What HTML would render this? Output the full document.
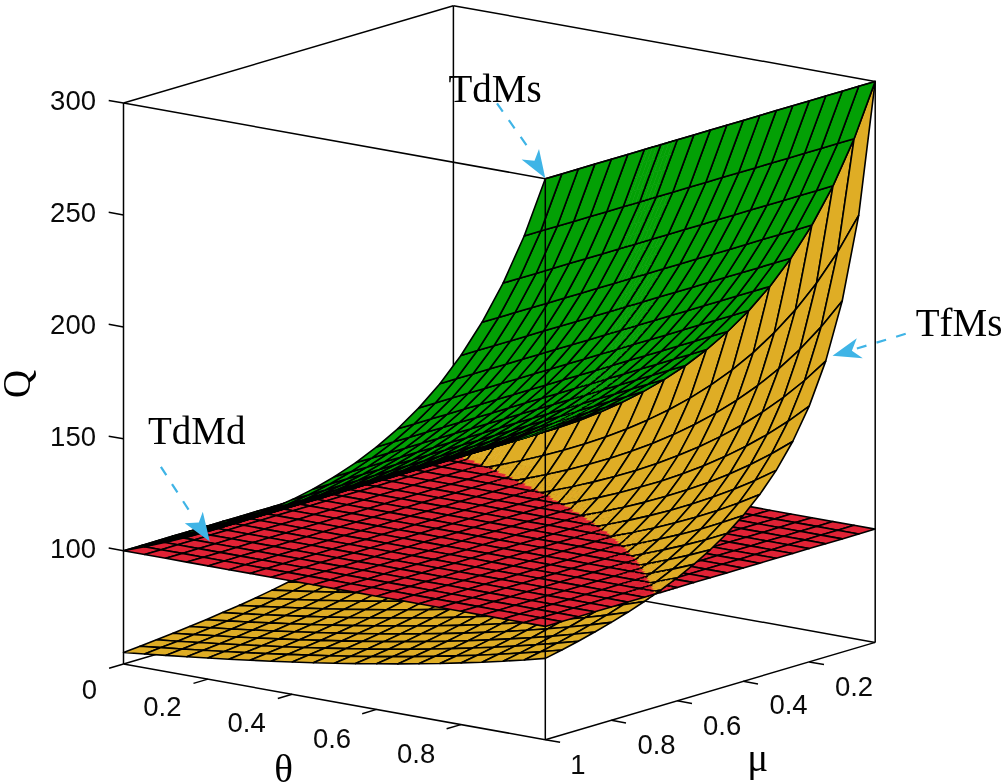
<!DOCTYPE html>
<html><head><meta charset="utf-8"><title>Q surface</title>
<style>
html,body{margin:0;padding:0;background:#fff}
svg{display:block}
.r,.y,.g{stroke:#000;stroke-width:1.6;stroke-linejoin:round}
.r,.rs{fill:#e02235}.y,.ys{fill:#dfad25}.g,.gs{fill:#03a005}
.rs{stroke:#e02235;stroke-width:.6}.ys{stroke:#dfad25;stroke-width:.6}.gs{stroke:#03a005;stroke-width:.6}
.e{stroke:#000;stroke-width:1.6;fill:none;stroke-linecap:round}
.ax{stroke:#000;stroke-width:1.5;fill:none}
.tk{font-family:"Liberation Sans",Arial,sans-serif;font-size:27.5px;fill:#0a0a0a}
.lb{font-family:"Liberation Serif","Times New Roman",serif;font-size:39px;fill:#000}
.ar{stroke:#3fb4e6;stroke-width:2.2;fill:none;stroke-dasharray:10 10.5}
.ah{fill:#3fb4e6}
</style></head><body>
<svg width="1003" height="784" viewBox="0 0 1003 784">
<rect width="1003" height="784" fill="#fff"/>
<g id="back"><path class="ax" d="M453.4 5.7L453.4 566.7"/><path class="ax" d="M875.2 642.4L453.4 566.7"/><path class="ax" d="M453.4 566.7L123.5 664.0"/><path class="ax" d="M875.2 81.4L453.4 5.7"/><path class="ax" d="M453.4 5.7L123.5 103.0"/></g>
<g id="surf">
<path class="ys" d="M453.4 453.4L458.7 452.4L454.5 457.8L449.3 458.8z"/>
<path class="e" d="M453.4 453.4L458.7 452.4M449.3 458.8L453.4 453.4"/>
<path class="rs" d="M453.4 453.4L458.7 454.4L454.5 455.6L449.3 454.6z"/>
<path class="e" d="M453.4 453.4L458.7 454.4M449.3 454.6L453.4 453.4"/>
<path class="gs" d="M453.4 453.4L458.7 452.4L454.5 453.7L449.3 454.6z"/>
<path class="e" d="M453.4 453.4L458.7 452.4M449.3 454.6L453.4 453.4"/>
<path class="ys" d="M449.3 458.8L454.5 457.8L450.4 463.2L445.2 464.1z"/>
<path class="e" d="M445.2 464.1L449.3 458.8"/>
<path class="rs" d="M449.3 454.6L454.5 455.6L450.4 456.8L445.2 455.9z"/>
<path class="e" d="M445.2 455.9L449.3 454.6"/>
<path class="gs" d="M449.3 454.6L454.5 453.7L450.4 454.9L445.2 455.9z"/>
<path class="e" d="M445.2 455.9L449.3 454.6"/>
<path class="ys" d="M445.2 464.1L450.4 463.2L446.3 468.6L441.0 469.4z"/>
<path class="e" d="M441.0 469.4L445.2 464.1"/>
<path class="rs" d="M445.2 455.9L450.4 456.8L446.3 458.0L441.0 457.1z"/>
<path class="e" d="M441.0 457.1L445.2 455.9"/>
<path class="gs" d="M445.2 455.9L450.4 454.9L446.3 456.1L441.0 457.1z"/>
<path class="e" d="M441.0 457.1L445.2 455.9"/>
<path class="ys" d="M441.0 469.4L446.3 468.6L442.2 474.1L436.9 474.8z"/>
<path class="e" d="M442.2 474.1L436.9 474.8M436.9 474.8L441.0 469.4"/>
<path class="rs" d="M441.0 457.1L446.3 458.0L442.2 459.2L436.9 458.3z"/>
<path class="e" d="M442.2 459.2L436.9 458.3M436.9 458.3L441.0 457.1"/>
<path class="gs" d="M441.0 457.1L446.3 456.1L442.2 457.3L436.9 458.3z"/>
<path class="e" d="M442.2 457.3L436.9 458.3M436.9 458.3L441.0 457.1"/>
<path class="rs" d="M458.7 454.4L463.9 455.3L459.8 456.5L454.5 455.6z"/>
<path class="e" d="M458.7 454.4L463.9 455.3"/>
<path class="ys" d="M458.7 452.4L463.9 451.5L459.8 456.9L454.5 457.8z"/>
<path class="e" d="M458.7 452.4L463.9 451.5"/>
<path class="gs" d="M458.7 452.4L463.9 451.5L459.8 452.7L454.5 453.7z"/>
<path class="e" d="M458.7 452.4L463.9 451.5"/>
<path class="ys" d="M454.5 457.8L459.8 456.9L455.7 462.4L450.4 463.2z"/>
<path class="rs" d="M454.5 455.6L459.8 456.5L455.7 457.8L450.4 456.8z"/>
<path class="gs" d="M454.5 453.7L459.8 452.7L455.7 453.9L450.4 454.9z"/>
<path class="ys" d="M450.4 463.2L455.7 462.4L451.6 467.9L446.3 468.6z"/>
<path class="rs" d="M450.4 456.8L455.7 457.8L451.6 459.0L446.3 458.0z"/>
<path class="gs" d="M450.4 454.9L455.7 453.9L451.6 455.1L446.3 456.1z"/>
<path class="ys" d="M446.3 468.6L451.6 467.9L447.4 473.3L442.2 474.1z"/>
<path class="e" d="M447.4 473.3L442.2 474.1"/>
<path class="rs" d="M446.3 458.0L451.6 459.0L447.4 460.2L442.2 459.2z"/>
<path class="e" d="M447.4 460.2L442.2 459.2"/>
<path class="gs" d="M446.3 456.1L451.6 455.1L447.4 456.3L442.2 457.3z"/>
<path class="e" d="M447.4 456.3L442.2 457.3"/>
<path class="rs" d="M463.9 455.3L469.2 456.3L465.1 457.5L459.8 456.5z"/>
<path class="e" d="M463.9 455.3L469.2 456.3"/>
<path class="ys" d="M463.9 451.5L469.2 450.5L465.1 456.0L459.8 456.9z"/>
<path class="e" d="M463.9 451.5L469.2 450.5"/>
<path class="gs" d="M463.9 451.5L469.2 450.5L465.1 451.7L459.8 452.7z"/>
<path class="e" d="M463.9 451.5L469.2 450.5"/>
<path class="ys" d="M459.8 456.9L465.1 456.0L461.0 461.6L455.7 462.4z"/>
<path class="rs" d="M459.8 456.5L465.1 457.5L461.0 458.7L455.7 457.8z"/>
<path class="gs" d="M459.8 452.7L465.1 451.7L461.0 452.9L455.7 453.9z"/>
<path class="ys" d="M455.7 462.4L461.0 461.6L456.8 467.1L451.6 467.9z"/>
<path class="rs" d="M455.7 457.8L461.0 458.7L456.8 459.9L451.6 459.0z"/>
<path class="gs" d="M455.7 453.9L461.0 452.9L456.8 454.1L451.6 455.1z"/>
<path class="ys" d="M451.6 467.9L456.8 467.1L452.7 472.6L447.4 473.3z"/>
<path class="e" d="M452.7 472.6L447.4 473.3"/>
<path class="rs" d="M451.6 459.0L456.8 459.9L452.7 461.1L447.4 460.2z"/>
<path class="e" d="M452.7 461.1L447.4 460.2"/>
<path class="gs" d="M451.6 455.1L456.8 454.1L452.7 455.3L447.4 456.3z"/>
<path class="e" d="M452.7 455.3L447.4 456.3"/>
<path class="rs" d="M469.2 456.3L474.5 457.2L470.4 458.4L465.1 457.5z"/>
<path class="e" d="M469.2 456.3L474.5 457.2M474.5 457.2L470.4 458.4"/>
<path class="ys" d="M469.2 450.5L474.5 449.5L470.4 455.1L465.1 456.0z"/>
<path class="e" d="M469.2 450.5L474.5 449.5M474.5 449.5L470.4 455.1"/>
<path class="gs" d="M469.2 450.5L474.5 449.5L470.4 450.7L465.1 451.7z"/>
<path class="e" d="M469.2 450.5L474.5 449.5M474.5 449.5L470.4 450.7"/>
<path class="rs" d="M465.1 457.5L470.4 458.4L466.2 459.6L461.0 458.7z"/>
<path class="e" d="M470.4 458.4L466.2 459.6"/>
<path class="ys" d="M465.1 456.0L470.4 455.1L466.2 460.7L461.0 461.6z"/>
<path class="e" d="M470.4 455.1L466.2 460.7"/>
<path class="gs" d="M465.1 451.7L470.4 450.7L466.2 451.9L461.0 452.9z"/>
<path class="e" d="M470.4 450.7L466.2 451.9"/>
<path class="ys" d="M461.0 461.6L466.2 460.7L462.1 466.3L456.8 467.1z"/>
<path class="e" d="M466.2 460.7L462.1 466.3"/>
<path class="rs" d="M461.0 458.7L466.2 459.6L462.1 460.9L456.8 459.9z"/>
<path class="e" d="M466.2 459.6L462.1 460.9"/>
<path class="gs" d="M461.0 452.9L466.2 451.9L462.1 453.1L456.8 454.1z"/>
<path class="e" d="M466.2 451.9L462.1 453.1"/>
<path class="ys" d="M456.8 467.1L462.1 466.3L458.0 471.9L452.7 472.6z"/>
<path class="e" d="M462.1 466.3L458.0 471.9M458.0 471.9L452.7 472.6"/>
<path class="rs" d="M456.8 459.9L462.1 460.9L458.0 462.1L452.7 461.1z"/>
<path class="e" d="M462.1 460.9L458.0 462.1M458.0 462.1L452.7 461.1"/>
<path class="gs" d="M456.8 454.1L462.1 453.1L458.0 454.4L452.7 455.3z"/>
<path class="e" d="M462.1 453.1L458.0 454.4M458.0 454.4L452.7 455.3"/>
<path class="y" d="M436.9 474.8L458.0 471.9L441.5 490.6L420.4 492.6z"/>
<path class="r" d="M436.9 458.3L458.0 462.1L441.5 466.9L420.4 463.2z"/>
<path class="g" d="M436.9 458.3L458.0 454.4L441.5 459.2L420.4 463.2z"/>
<path class="y" d="M420.4 492.6L441.5 490.6L425.0 506.6L403.9 508.0z"/>
<path class="r" d="M420.4 463.2L441.5 466.9L425.0 471.8L403.9 468.0z"/>
<path class="g" d="M420.4 463.2L441.5 459.2L425.0 464.1L403.9 468.0z"/>
<path class="y" d="M403.9 508.0L425.0 506.6L408.5 520.6L387.4 521.6z"/>
<path class="r" d="M403.9 468.0L425.0 471.8L408.5 476.7L387.4 472.9z"/>
<path class="g" d="M403.9 468.0L425.0 464.1L408.5 469.0L387.4 472.9z"/>
<path class="y" d="M387.4 521.6L408.5 520.6L392.0 533.2L370.9 533.7z"/>
<path class="r" d="M387.4 472.9L408.5 476.7L392.0 481.5L370.9 477.8z"/>
<path class="g" d="M387.4 472.9L408.5 469.0L392.0 473.8L370.9 477.8z"/>
<path class="y" d="M370.9 533.7L392.0 533.2L375.5 544.6L354.4 544.8z"/>
<path class="r" d="M370.9 477.8L392.0 481.5L375.5 486.4L354.4 482.6z"/>
<path class="g" d="M370.9 477.8L392.0 473.8L375.5 478.7L354.4 482.6z"/>
<path class="y" d="M354.4 544.8L375.5 544.6L359.0 555.1L337.9 555.0z"/>
<path class="r" d="M354.4 482.6L375.5 486.4L359.0 491.3L337.9 487.5z"/>
<path class="g" d="M354.4 482.6L375.5 478.7L359.0 483.6L337.9 487.5z"/>
<path class="y" d="M337.9 555.0L359.0 555.1L342.5 564.8L321.4 564.6z"/>
<path class="r" d="M337.9 487.5L359.0 491.3L342.5 496.1L321.4 492.4z"/>
<path class="g" d="M337.9 487.5L359.0 483.6L342.5 488.4L321.4 492.4z"/>
<path class="y" d="M321.4 564.6L342.5 564.8L326.0 574.0L304.9 573.5z"/>
<path class="r" d="M321.4 492.4L342.5 496.1L326.0 501.0L304.9 497.2z"/>
<path class="g" d="M321.4 492.4L342.5 488.4L326.0 493.3L304.9 497.2z"/>
<path class="y" d="M304.9 573.5L326.0 574.0L309.5 582.7L288.4 582.0z"/>
<path class="r" d="M304.9 497.2L326.0 501.0L309.5 505.9L288.4 502.1z"/>
<path class="g" d="M304.9 497.2L326.0 493.3L309.5 498.1L288.4 502.1z"/>
<path class="y" d="M288.4 582.0L309.5 582.7L293.0 590.9L272.0 590.1z"/>
<path class="r" d="M288.4 502.1L309.5 505.9L293.0 510.7L272.0 506.9z"/>
<path class="g" d="M288.4 502.1L309.5 498.1L293.0 503.0L272.0 506.9z"/>
<path class="y" d="M272.0 590.1L293.0 590.9L276.5 598.8L255.5 597.9z"/>
<path class="r" d="M272.0 506.9L293.0 510.7L276.5 515.6L255.5 511.8z"/>
<path class="g" d="M272.0 506.9L293.0 503.0L276.5 507.9L255.5 511.8z"/>
<path class="y" d="M255.5 597.9L276.5 598.8L260.1 606.4L239.0 605.4z"/>
<path class="r" d="M255.5 511.8L276.5 515.6L260.1 520.5L239.0 516.7z"/>
<path class="g" d="M255.5 511.8L276.5 507.9L260.1 512.7L239.0 516.7z"/>
<path class="y" d="M239.0 605.4L260.1 606.4L243.6 613.8L222.5 612.6z"/>
<path class="r" d="M239.0 516.7L260.1 520.5L243.6 525.3L222.5 521.5z"/>
<path class="g" d="M239.0 516.7L260.1 512.7L243.6 517.6L222.5 521.5z"/>
<path class="y" d="M222.5 612.6L243.6 613.8L227.1 620.9L206.0 619.7z"/>
<path class="r" d="M222.5 521.5L243.6 525.3L227.1 530.2L206.0 526.4z"/>
<path class="g" d="M222.5 521.5L243.6 517.6L227.1 522.5L206.0 526.4z"/>
<path class="y" d="M206.0 619.7L227.1 620.9L210.6 627.8L189.5 626.5z"/>
<path class="r" d="M206.0 526.4L227.1 530.2L210.6 535.1L189.5 531.3z"/>
<path class="g" d="M206.0 526.4L227.1 522.5L210.6 527.3L189.5 531.3z"/>
<path class="y" d="M189.5 626.5L210.6 627.8L194.1 634.6L173.0 633.2z"/>
<path class="r" d="M189.5 531.3L210.6 535.1L194.1 539.9L173.0 536.1z"/>
<path class="g" d="M189.5 531.3L210.6 527.3L194.1 532.2L173.0 536.1z"/>
<path class="y" d="M173.0 633.2L194.1 634.6L177.6 641.2L156.5 639.8z"/>
<path class="r" d="M173.0 536.1L194.1 539.9L177.6 544.8L156.5 541.0z"/>
<path class="g" d="M173.0 536.1L194.1 532.2L177.6 537.1L156.5 541.0z"/>
<path class="y" d="M156.5 639.8L177.6 641.2L161.1 647.6L140.0 646.2z"/>
<path class="r" d="M156.5 541.0L177.6 544.8L161.1 549.7L140.0 545.9z"/>
<path class="g" d="M156.5 541.0L177.6 537.1L161.1 541.9L140.0 545.9z"/>
<path class="y" d="M140.0 646.2L161.1 647.6L144.6 654.0L123.5 652.5z"/>
<path class="r" d="M140.0 545.9L161.1 549.7L144.6 554.5L123.5 550.7z"/>
<path class="g" d="M140.0 545.9L161.1 541.9L144.6 546.8L123.5 550.7z"/>
<path class="rs" d="M474.5 457.2L479.8 458.2L475.6 459.4L470.4 458.4z"/>
<path class="e" d="M474.5 457.2L479.8 458.2M470.4 458.4L474.5 457.2"/>
<path class="ys" d="M474.5 449.5L479.8 448.4L475.6 454.1L470.4 455.1z"/>
<path class="e" d="M474.5 449.5L479.8 448.4M470.4 455.1L474.5 449.5"/>
<path class="gs" d="M474.5 449.5L479.8 448.4L475.6 449.6L470.4 450.7z"/>
<path class="e" d="M474.5 449.5L479.8 448.4M470.4 450.7L474.5 449.5"/>
<path class="rs" d="M470.4 458.4L475.6 459.4L471.5 460.6L466.2 459.6z"/>
<path class="e" d="M466.2 459.6L470.4 458.4"/>
<path class="ys" d="M470.4 455.1L475.6 454.1L471.5 459.7L466.2 460.7z"/>
<path class="e" d="M466.2 460.7L470.4 455.1"/>
<path class="gs" d="M470.4 450.7L475.6 449.6L471.5 450.8L466.2 451.9z"/>
<path class="e" d="M466.2 451.9L470.4 450.7"/>
<path class="ys" d="M466.2 460.7L471.5 459.7L467.4 465.4L462.1 466.3z"/>
<path class="e" d="M462.1 466.3L466.2 460.7"/>
<path class="rs" d="M466.2 459.6L471.5 460.6L467.4 461.8L462.1 460.9z"/>
<path class="e" d="M462.1 460.9L466.2 459.6"/>
<path class="gs" d="M466.2 451.9L471.5 450.8L467.4 452.0L462.1 453.1z"/>
<path class="e" d="M462.1 453.1L466.2 451.9"/>
<path class="ys" d="M462.1 466.3L467.4 465.4L463.3 471.1L458.0 471.9z"/>
<path class="e" d="M463.3 471.1L458.0 471.9M458.0 471.9L462.1 466.3"/>
<path class="rs" d="M462.1 460.9L467.4 461.8L463.3 463.0L458.0 462.1z"/>
<path class="e" d="M463.3 463.0L458.0 462.1M458.0 462.1L462.1 460.9"/>
<path class="gs" d="M462.1 453.1L467.4 452.0L463.3 453.2L458.0 454.4z"/>
<path class="e" d="M463.3 453.2L458.0 454.4M458.0 454.4L462.1 453.1"/>
<path class="rs" d="M479.8 458.2L485.0 459.1L480.9 460.3L475.6 459.4z"/>
<path class="e" d="M479.8 458.2L485.0 459.1"/>
<path class="ys" d="M479.8 448.4L485.0 447.3L480.9 453.0L475.6 454.1z"/>
<path class="e" d="M479.8 448.4L485.0 447.3"/>
<path class="gs" d="M479.8 448.4L485.0 447.3L480.9 448.5L475.6 449.6z"/>
<path class="e" d="M479.8 448.4L485.0 447.3"/>
<path class="rs" d="M475.6 459.4L480.9 460.3L476.8 461.5L471.5 460.6z"/>
<path class="ys" d="M475.6 454.1L480.9 453.0L476.8 458.8L471.5 459.7z"/>
<path class="gs" d="M475.6 449.6L480.9 448.5L476.8 449.7L471.5 450.8z"/>
<path class="ys" d="M471.5 459.7L476.8 458.8L472.7 464.5L467.4 465.4z"/>
<path class="rs" d="M471.5 460.6L476.8 461.5L472.7 462.8L467.4 461.8z"/>
<path class="gs" d="M471.5 450.8L476.8 449.7L472.7 450.9L467.4 452.0z"/>
<path class="ys" d="M467.4 465.4L472.7 464.5L468.5 470.3L463.3 471.1z"/>
<path class="e" d="M468.5 470.3L463.3 471.1"/>
<path class="rs" d="M467.4 461.8L472.7 462.8L468.5 464.0L463.3 463.0z"/>
<path class="e" d="M468.5 464.0L463.3 463.0"/>
<path class="gs" d="M467.4 452.0L472.7 450.9L468.5 452.1L463.3 453.2z"/>
<path class="e" d="M468.5 452.1L463.3 453.2"/>
<path class="rs" d="M485.0 459.1L490.3 460.1L486.2 461.3L480.9 460.3z"/>
<path class="e" d="M485.0 459.1L490.3 460.1"/>
<path class="ys" d="M485.0 447.3L490.3 446.1L486.2 452.0L480.9 453.0z"/>
<path class="e" d="M485.0 447.3L490.3 446.1"/>
<path class="gs" d="M485.0 447.3L490.3 446.1L486.2 447.4L480.9 448.5z"/>
<path class="e" d="M485.0 447.3L490.3 446.1"/>
<path class="rs" d="M480.9 460.3L486.2 461.3L482.1 462.5L476.8 461.5z"/>
<path class="ys" d="M480.9 453.0L486.2 452.0L482.1 457.8L476.8 458.8z"/>
<path class="gs" d="M480.9 448.5L486.2 447.4L482.1 448.6L476.8 449.7z"/>
<path class="rs" d="M476.8 461.5L482.1 462.5L477.9 463.7L472.7 462.8z"/>
<path class="ys" d="M476.8 458.8L482.1 457.8L477.9 463.6L472.7 464.5z"/>
<path class="gs" d="M476.8 449.7L482.1 448.6L477.9 449.8L472.7 450.9z"/>
<path class="ys" d="M472.7 464.5L477.9 463.6L473.8 469.5L468.5 470.3z"/>
<path class="e" d="M473.8 469.5L468.5 470.3"/>
<path class="rs" d="M472.7 462.8L477.9 463.7L473.8 464.9L468.5 464.0z"/>
<path class="e" d="M473.8 464.9L468.5 464.0"/>
<path class="gs" d="M472.7 450.9L477.9 449.8L473.8 451.0L468.5 452.1z"/>
<path class="e" d="M473.8 451.0L468.5 452.1"/>
<path class="rs" d="M490.3 460.1L495.6 461.0L491.5 462.2L486.2 461.3z"/>
<path class="e" d="M490.3 460.1L495.6 461.0M495.6 461.0L491.5 462.2"/>
<path class="ys" d="M490.3 446.1L495.6 445.0L491.5 450.9L486.2 452.0z"/>
<path class="e" d="M490.3 446.1L495.6 445.0M495.6 445.0L491.5 450.9"/>
<path class="gs" d="M490.3 446.1L495.6 445.0L491.5 446.2L486.2 447.4z"/>
<path class="e" d="M490.3 446.1L495.6 445.0M495.6 445.0L491.5 446.2"/>
<path class="rs" d="M486.2 461.3L491.5 462.2L487.3 463.4L482.1 462.5z"/>
<path class="e" d="M491.5 462.2L487.3 463.4"/>
<path class="ys" d="M486.2 452.0L491.5 450.9L487.3 456.8L482.1 457.8z"/>
<path class="e" d="M491.5 450.9L487.3 456.8"/>
<path class="gs" d="M486.2 447.4L491.5 446.2L487.3 447.4L482.1 448.6z"/>
<path class="e" d="M491.5 446.2L487.3 447.4"/>
<path class="rs" d="M482.1 462.5L487.3 463.4L483.2 464.7L477.9 463.7z"/>
<path class="e" d="M487.3 463.4L483.2 464.7"/>
<path class="ys" d="M482.1 457.8L487.3 456.8L483.2 462.8L477.9 463.6z"/>
<path class="e" d="M487.3 456.8L483.2 462.8"/>
<path class="gs" d="M482.1 448.6L487.3 447.4L483.2 448.7L477.9 449.8z"/>
<path class="e" d="M487.3 447.4L483.2 448.7"/>
<path class="ys" d="M477.9 463.6L483.2 462.8L479.1 468.7L473.8 469.5z"/>
<path class="e" d="M483.2 462.8L479.1 468.7M479.1 468.7L473.8 469.5"/>
<path class="rs" d="M477.9 463.7L483.2 464.7L479.1 465.9L473.8 464.9z"/>
<path class="e" d="M483.2 464.7L479.1 465.9M479.1 465.9L473.8 464.9"/>
<path class="gs" d="M477.9 449.8L483.2 448.7L479.1 449.9L473.8 451.0z"/>
<path class="e" d="M483.2 448.7L479.1 449.9M479.1 449.9L473.8 451.0"/>
<path class="y" d="M458.0 471.9L479.1 468.7L462.6 488.2L441.5 490.6z"/>
<path class="r" d="M458.0 462.1L479.1 465.9L462.6 470.7L441.5 466.9z"/>
<path class="g" d="M458.0 454.4L479.1 449.9L462.6 454.7L441.5 459.2z"/>
<path class="y" d="M441.5 490.6L462.6 488.2L446.1 504.9L425.0 506.6z"/>
<path class="r" d="M441.5 466.9L462.6 470.7L446.1 475.6L425.0 471.8z"/>
<path class="g" d="M441.5 459.2L462.6 454.7L446.1 459.6L425.0 464.1z"/>
<path class="y" d="M425.0 506.6L446.1 504.9L429.6 519.5L408.5 520.6z"/>
<path class="r" d="M425.0 471.8L446.1 475.6L429.6 480.5L408.5 476.7z"/>
<path class="g" d="M425.0 464.1L446.1 459.6L429.6 464.5L408.5 469.0z"/>
<path class="y" d="M408.5 520.6L429.6 519.5L413.1 532.5L392.0 533.2z"/>
<path class="r" d="M408.5 476.7L429.6 480.5L413.1 485.3L392.0 481.5z"/>
<path class="g" d="M408.5 469.0L429.6 464.5L413.1 469.3L392.0 473.8z"/>
<path class="y" d="M392.0 533.2L413.1 532.5L396.6 544.2L375.5 544.6z"/>
<path class="r" d="M392.0 481.5L413.1 485.3L396.6 490.2L375.5 486.4z"/>
<path class="g" d="M392.0 473.8L413.1 469.3L396.6 474.2L375.5 478.7z"/>
<path class="y" d="M375.5 544.6L396.6 544.2L380.1 555.0L359.0 555.1z"/>
<path class="r" d="M375.5 486.4L396.6 490.2L380.1 495.1L359.0 491.3z"/>
<path class="g" d="M375.5 478.7L396.6 474.2L380.1 479.1L359.0 483.6z"/>
<path class="y" d="M359.0 555.1L380.1 555.0L363.6 565.0L342.5 564.8z"/>
<path class="r" d="M359.0 491.3L380.1 495.1L363.6 499.9L342.5 496.1z"/>
<path class="g" d="M359.0 483.6L380.1 479.1L363.6 483.9L342.5 488.4z"/>
<path class="y" d="M342.5 564.8L363.6 565.0L347.1 574.3L326.0 574.0z"/>
<path class="r" d="M342.5 496.1L363.6 499.9L347.1 504.8L326.0 501.0z"/>
<path class="g" d="M342.5 488.4L363.6 483.9L347.1 488.8L326.0 493.3z"/>
<path class="y" d="M326.0 574.0L347.1 574.3L330.6 583.2L309.5 582.7z"/>
<path class="r" d="M326.0 501.0L347.1 504.8L330.6 509.7L309.5 505.9z"/>
<path class="g" d="M326.0 493.3L347.1 488.8L330.6 493.7L309.5 498.1z"/>
<path class="y" d="M309.5 582.7L330.6 583.2L314.1 591.6L293.0 590.9z"/>
<path class="r" d="M309.5 505.9L330.6 509.7L314.1 514.5L293.0 510.7z"/>
<path class="g" d="M309.5 498.1L330.6 493.7L314.1 498.5L293.0 503.0z"/>
<path class="y" d="M293.0 590.9L314.1 591.6L297.6 599.6L276.5 598.8z"/>
<path class="r" d="M293.0 510.7L314.1 514.5L297.6 519.4L276.5 515.6z"/>
<path class="g" d="M293.0 503.0L314.1 498.5L297.6 503.4L276.5 507.9z"/>
<path class="y" d="M276.5 598.8L297.6 599.6L281.1 607.3L260.1 606.4z"/>
<path class="r" d="M276.5 515.6L297.6 519.4L281.1 524.2L260.1 520.5z"/>
<path class="g" d="M276.5 507.9L297.6 503.4L281.1 508.3L260.1 512.7z"/>
<path class="y" d="M260.1 606.4L281.1 607.3L264.6 614.7L243.6 613.8z"/>
<path class="r" d="M260.1 520.5L281.1 524.2L264.6 529.1L243.6 525.3z"/>
<path class="g" d="M260.1 512.7L281.1 508.3L264.6 513.1L243.6 517.6z"/>
<path class="y" d="M243.6 613.8L264.6 614.7L248.2 622.0L227.1 620.9z"/>
<path class="r" d="M243.6 525.3L264.6 529.1L248.2 534.0L227.1 530.2z"/>
<path class="g" d="M243.6 517.6L264.6 513.1L248.2 518.0L227.1 522.5z"/>
<path class="y" d="M227.1 620.9L248.2 622.0L231.7 629.0L210.6 627.8z"/>
<path class="r" d="M227.1 530.2L248.2 534.0L231.7 538.8L210.6 535.1z"/>
<path class="g" d="M227.1 522.5L248.2 518.0L231.7 522.9L210.6 527.3z"/>
<path class="y" d="M210.6 627.8L231.7 629.0L215.2 635.8L194.1 634.6z"/>
<path class="r" d="M210.6 535.1L231.7 538.8L215.2 543.7L194.1 539.9z"/>
<path class="g" d="M210.6 527.3L231.7 522.9L215.2 527.7L194.1 532.2z"/>
<path class="y" d="M194.1 634.6L215.2 635.8L198.7 642.5L177.6 641.2z"/>
<path class="r" d="M194.1 539.9L215.2 543.7L198.7 548.6L177.6 544.8z"/>
<path class="g" d="M194.1 532.2L215.2 527.7L198.7 532.6L177.6 537.1z"/>
<path class="y" d="M177.6 641.2L198.7 642.5L182.2 649.0L161.1 647.6z"/>
<path class="r" d="M177.6 544.8L198.7 548.6L182.2 553.4L161.1 549.7z"/>
<path class="g" d="M177.6 537.1L198.7 532.6L182.2 537.4L161.1 541.9z"/>
<path class="y" d="M161.1 647.6L182.2 649.0L165.7 655.4L144.6 654.0z"/>
<path class="r" d="M161.1 549.7L182.2 553.4L165.7 558.3L144.6 554.5z"/>
<path class="g" d="M161.1 541.9L182.2 537.4L165.7 542.3L144.6 546.8z"/>
<path class="rs" d="M495.6 461.0L500.9 461.9L496.7 463.2L491.5 462.2z"/>
<path class="e" d="M495.6 461.0L500.9 461.9M491.5 462.2L495.6 461.0"/>
<path class="ys" d="M495.6 445.0L500.9 443.7L496.7 449.7L491.5 450.9z"/>
<path class="e" d="M495.6 445.0L500.9 443.7M491.5 450.9L495.6 445.0"/>
<path class="gs" d="M495.6 445.0L500.9 443.7L496.7 445.0L491.5 446.2z"/>
<path class="e" d="M495.6 445.0L500.9 443.7M491.5 446.2L495.6 445.0"/>
<path class="rs" d="M491.5 462.2L496.7 463.2L492.6 464.4L487.3 463.4z"/>
<path class="e" d="M487.3 463.4L491.5 462.2"/>
<path class="ys" d="M491.5 450.9L496.7 449.7L492.6 455.7L487.3 456.8z"/>
<path class="e" d="M487.3 456.8L491.5 450.9"/>
<path class="gs" d="M491.5 446.2L496.7 445.0L492.6 446.2L487.3 447.4z"/>
<path class="e" d="M487.3 447.4L491.5 446.2"/>
<path class="rs" d="M487.3 463.4L492.6 464.4L488.5 465.6L483.2 464.7z"/>
<path class="e" d="M483.2 464.7L487.3 463.4"/>
<path class="ys" d="M487.3 456.8L492.6 455.7L488.5 461.7L483.2 462.8z"/>
<path class="e" d="M483.2 462.8L487.3 456.8"/>
<path class="gs" d="M487.3 447.4L492.6 446.2L488.5 447.4L483.2 448.7z"/>
<path class="e" d="M483.2 448.7L487.3 447.4"/>
<path class="rs" d="M483.2 464.7L488.5 465.6L484.4 466.8L479.1 465.9z"/>
<path class="e" d="M484.4 466.8L479.1 465.9M479.1 465.9L483.2 464.7"/>
<path class="ys" d="M483.2 462.8L488.5 461.7L484.4 467.7L479.1 468.7z"/>
<path class="e" d="M484.4 467.7L479.1 468.7M479.1 468.7L483.2 462.8"/>
<path class="gs" d="M483.2 448.7L488.5 447.4L484.4 448.6L479.1 449.9z"/>
<path class="e" d="M484.4 448.6L479.1 449.9M479.1 449.9L483.2 448.7"/>
<path class="rs" d="M500.9 461.9L506.1 462.9L502.0 464.1L496.7 463.2z"/>
<path class="e" d="M500.9 461.9L506.1 462.9"/>
<path class="ys" d="M500.9 443.7L506.1 442.5L502.0 448.5L496.7 449.7z"/>
<path class="e" d="M500.9 443.7L506.1 442.5"/>
<path class="gs" d="M500.9 443.7L506.1 442.5L502.0 443.7L496.7 445.0z"/>
<path class="e" d="M500.9 443.7L506.1 442.5"/>
<path class="rs" d="M496.7 463.2L502.0 464.1L497.9 465.3L492.6 464.4z"/>
<path class="ys" d="M496.7 449.7L502.0 448.5L497.9 454.6L492.6 455.7z"/>
<path class="gs" d="M496.7 445.0L502.0 443.7L497.9 444.9L492.6 446.2z"/>
<path class="rs" d="M492.6 464.4L497.9 465.3L493.8 466.5L488.5 465.6z"/>
<path class="ys" d="M492.6 455.7L497.9 454.6L493.8 460.7L488.5 461.7z"/>
<path class="gs" d="M492.6 446.2L497.9 444.9L493.8 446.1L488.5 447.4z"/>
<path class="rs" d="M488.5 465.6L493.8 466.5L489.6 467.8L484.4 466.8z"/>
<path class="e" d="M489.6 467.8L484.4 466.8"/>
<path class="ys" d="M488.5 461.7L493.8 460.7L489.6 466.8L484.4 467.7z"/>
<path class="e" d="M489.6 466.8L484.4 467.7"/>
<path class="gs" d="M488.5 447.4L493.8 446.1L489.6 447.3L484.4 448.6z"/>
<path class="e" d="M489.6 447.3L484.4 448.6"/>
<path class="rs" d="M506.1 462.9L511.4 463.8L507.3 465.1L502.0 464.1z"/>
<path class="e" d="M506.1 462.9L511.4 463.8"/>
<path class="ys" d="M506.1 442.5L511.4 441.2L507.3 447.4L502.0 448.5z"/>
<path class="e" d="M506.1 442.5L511.4 441.2"/>
<path class="gs" d="M506.1 442.5L511.4 441.2L507.3 442.4L502.0 443.7z"/>
<path class="e" d="M506.1 442.5L511.4 441.2"/>
<path class="rs" d="M502.0 464.1L507.3 465.1L503.1 466.3L497.9 465.3z"/>
<path class="ys" d="M502.0 448.5L507.3 447.4L503.1 453.5L497.9 454.6z"/>
<path class="gs" d="M502.0 443.7L507.3 442.4L503.1 443.6L497.9 444.9z"/>
<path class="rs" d="M497.9 465.3L503.1 466.3L499.0 467.5L493.8 466.5z"/>
<path class="ys" d="M497.9 454.6L503.1 453.5L499.0 459.7L493.8 460.7z"/>
<path class="gs" d="M497.9 444.9L503.1 443.6L499.0 444.8L493.8 446.1z"/>
<path class="rs" d="M493.8 466.5L499.0 467.5L494.9 468.7L489.6 467.8z"/>
<path class="e" d="M494.9 468.7L489.6 467.8"/>
<path class="ys" d="M493.8 460.7L499.0 459.7L494.9 465.9L489.6 466.8z"/>
<path class="e" d="M494.9 465.9L489.6 466.8"/>
<path class="gs" d="M493.8 446.1L499.0 444.8L494.9 446.1L489.6 447.3z"/>
<path class="e" d="M494.9 446.1L489.6 447.3"/>
<path class="rs" d="M511.4 463.8L516.7 464.8L512.5 466.0L507.3 465.1z"/>
<path class="e" d="M511.4 463.8L516.7 464.8M516.7 464.8L512.5 466.0"/>
<path class="ys" d="M511.4 441.2L516.7 439.9L512.5 446.2L507.3 447.4z"/>
<path class="e" d="M511.4 441.2L516.7 439.9M516.7 439.9L512.5 446.2"/>
<path class="gs" d="M511.4 441.2L516.7 439.9L512.5 441.1L507.3 442.4z"/>
<path class="e" d="M511.4 441.2L516.7 439.9M516.7 439.9L512.5 441.1"/>
<path class="rs" d="M507.3 465.1L512.5 466.0L508.4 467.2L503.1 466.3z"/>
<path class="e" d="M512.5 466.0L508.4 467.2"/>
<path class="ys" d="M507.3 447.4L512.5 446.2L508.4 452.4L503.1 453.5z"/>
<path class="e" d="M512.5 446.2L508.4 452.4"/>
<path class="gs" d="M507.3 442.4L512.5 441.1L508.4 442.3L503.1 443.6z"/>
<path class="e" d="M512.5 441.1L508.4 442.3"/>
<path class="rs" d="M503.1 466.3L508.4 467.2L504.3 468.4L499.0 467.5z"/>
<path class="e" d="M508.4 467.2L504.3 468.4"/>
<path class="ys" d="M503.1 453.5L508.4 452.4L504.3 458.7L499.0 459.7z"/>
<path class="e" d="M508.4 452.4L504.3 458.7"/>
<path class="gs" d="M503.1 443.6L508.4 442.3L504.3 443.6L499.0 444.8z"/>
<path class="e" d="M508.4 442.3L504.3 443.6"/>
<path class="rs" d="M499.0 467.5L504.3 468.4L500.2 469.7L494.9 468.7z"/>
<path class="e" d="M504.3 468.4L500.2 469.7M500.2 469.7L494.9 468.7"/>
<path class="ys" d="M499.0 459.7L504.3 458.7L500.2 464.9L494.9 465.9z"/>
<path class="e" d="M504.3 458.7L500.2 464.9M500.2 464.9L494.9 465.9"/>
<path class="gs" d="M499.0 444.8L504.3 443.6L500.2 444.8L494.9 446.1z"/>
<path class="e" d="M504.3 443.6L500.2 444.8M500.2 444.8L494.9 446.1"/>
<path class="ys" d="M479.1 468.7L484.4 467.7L480.2 472.7L475.0 473.6z"/>
<path class="e" d="M479.1 468.7L484.4 467.7M475.0 473.6L479.1 468.7"/>
<path class="rs" d="M479.1 465.9L484.4 466.8L480.2 468.0L475.0 467.1z"/>
<path class="e" d="M479.1 465.9L484.4 466.8M475.0 467.1L479.1 465.9"/>
<path class="gs" d="M479.1 449.9L484.4 448.6L480.2 449.8L475.0 451.1z"/>
<path class="e" d="M479.1 449.9L484.4 448.6M475.0 451.1L479.1 449.9"/>
<path class="ys" d="M475.0 473.6L480.2 472.7L476.1 477.6L470.8 478.5z"/>
<path class="e" d="M470.8 478.5L475.0 473.6"/>
<path class="rs" d="M475.0 467.1L480.2 468.0L476.1 469.2L470.8 468.3z"/>
<path class="e" d="M470.8 468.3L475.0 467.1"/>
<path class="gs" d="M475.0 451.1L480.2 449.8L476.1 451.0L470.8 452.3z"/>
<path class="e" d="M470.8 452.3L475.0 451.1"/>
<path class="ys" d="M470.8 478.5L476.1 477.6L472.0 482.6L466.7 483.3z"/>
<path class="e" d="M466.7 483.3L470.8 478.5"/>
<path class="rs" d="M470.8 468.3L476.1 469.2L472.0 470.5L466.7 469.5z"/>
<path class="e" d="M466.7 469.5L470.8 468.3"/>
<path class="gs" d="M470.8 452.3L476.1 451.0L472.0 452.3L466.7 453.5z"/>
<path class="e" d="M466.7 453.5L470.8 452.3"/>
<path class="ys" d="M466.7 483.3L472.0 482.6L467.9 487.6L462.6 488.2z"/>
<path class="e" d="M467.9 487.6L462.6 488.2M462.6 488.2L466.7 483.3"/>
<path class="rs" d="M466.7 469.5L472.0 470.5L467.9 471.7L462.6 470.7z"/>
<path class="e" d="M467.9 471.7L462.6 470.7M462.6 470.7L466.7 469.5"/>
<path class="gs" d="M466.7 453.5L472.0 452.3L467.9 453.5L462.6 454.7z"/>
<path class="e" d="M467.9 453.5L462.6 454.7M462.6 454.7L466.7 453.5"/>
<path class="ys" d="M484.4 467.7L489.6 466.8L485.5 471.8L480.2 472.7z"/>
<path class="e" d="M484.4 467.7L489.6 466.8"/>
<path class="rs" d="M484.4 466.8L489.6 467.8L485.5 469.0L480.2 468.0z"/>
<path class="e" d="M484.4 466.8L489.6 467.8"/>
<path class="gs" d="M484.4 448.6L489.6 447.3L485.5 448.5L480.2 449.8z"/>
<path class="e" d="M484.4 448.6L489.6 447.3"/>
<path class="ys" d="M480.2 472.7L485.5 471.8L481.4 476.8L476.1 477.6z"/>
<path class="rs" d="M480.2 468.0L485.5 469.0L481.4 470.2L476.1 469.2z"/>
<path class="gs" d="M480.2 449.8L485.5 448.5L481.4 449.8L476.1 451.0z"/>
<path class="ys" d="M476.1 477.6L481.4 476.8L477.3 481.8L472.0 482.6z"/>
<path class="rs" d="M476.1 469.2L481.4 470.2L477.3 471.4L472.0 470.5z"/>
<path class="gs" d="M476.1 451.0L481.4 449.8L477.3 451.0L472.0 452.3z"/>
<path class="ys" d="M472.0 482.6L477.3 481.8L473.1 486.9L467.9 487.6z"/>
<path class="e" d="M473.1 486.9L467.9 487.6"/>
<path class="rs" d="M472.0 470.5L477.3 471.4L473.1 472.6L467.9 471.7z"/>
<path class="e" d="M473.1 472.6L467.9 471.7"/>
<path class="gs" d="M472.0 452.3L477.3 451.0L473.1 452.2L467.9 453.5z"/>
<path class="e" d="M473.1 452.2L467.9 453.5"/>
<path class="ys" d="M489.6 466.8L494.9 465.9L490.8 470.9L485.5 471.8z"/>
<path class="e" d="M489.6 466.8L494.9 465.9"/>
<path class="rs" d="M489.6 467.8L494.9 468.7L490.8 469.9L485.5 469.0z"/>
<path class="e" d="M489.6 467.8L494.9 468.7"/>
<path class="gs" d="M489.6 447.3L494.9 446.1L490.8 447.3L485.5 448.5z"/>
<path class="e" d="M489.6 447.3L494.9 446.1"/>
<path class="ys" d="M485.5 471.8L490.8 470.9L486.7 476.0L481.4 476.8z"/>
<path class="rs" d="M485.5 469.0L490.8 469.9L486.7 471.1L481.4 470.2z"/>
<path class="gs" d="M485.5 448.5L490.8 447.3L486.7 448.5L481.4 449.8z"/>
<path class="ys" d="M481.4 476.8L486.7 476.0L482.5 481.1L477.3 481.8z"/>
<path class="rs" d="M481.4 470.2L486.7 471.1L482.5 472.4L477.3 471.4z"/>
<path class="gs" d="M481.4 449.8L486.7 448.5L482.5 449.7L477.3 451.0z"/>
<path class="ys" d="M477.3 481.8L482.5 481.1L478.4 486.2L473.1 486.9z"/>
<path class="e" d="M478.4 486.2L473.1 486.9"/>
<path class="rs" d="M477.3 471.4L482.5 472.4L478.4 473.6L473.1 472.6z"/>
<path class="e" d="M478.4 473.6L473.1 472.6"/>
<path class="gs" d="M477.3 451.0L482.5 449.7L478.4 450.9L473.1 452.2z"/>
<path class="e" d="M478.4 450.9L473.1 452.2"/>
<path class="rs" d="M494.9 468.7L500.2 469.7L496.1 470.9L490.8 469.9z"/>
<path class="e" d="M494.9 468.7L500.2 469.7M500.2 469.7L496.1 470.9"/>
<path class="ys" d="M494.9 465.9L500.2 464.9L496.1 470.1L490.8 470.9z"/>
<path class="e" d="M494.9 465.9L500.2 464.9M500.2 464.9L496.1 470.1"/>
<path class="gs" d="M494.9 446.1L500.2 444.8L496.1 446.0L490.8 447.3z"/>
<path class="e" d="M494.9 446.1L500.2 444.8M500.2 444.8L496.1 446.0"/>
<path class="ys" d="M490.8 470.9L496.1 470.1L491.9 475.2L486.7 476.0z"/>
<path class="e" d="M496.1 470.1L491.9 475.2"/>
<path class="rs" d="M490.8 469.9L496.1 470.9L491.9 472.1L486.7 471.1z"/>
<path class="e" d="M496.1 470.9L491.9 472.1"/>
<path class="gs" d="M490.8 447.3L496.1 446.0L491.9 447.2L486.7 448.5z"/>
<path class="e" d="M496.1 446.0L491.9 447.2"/>
<path class="ys" d="M486.7 476.0L491.9 475.2L487.8 480.3L482.5 481.1z"/>
<path class="e" d="M491.9 475.2L487.8 480.3"/>
<path class="rs" d="M486.7 471.1L491.9 472.1L487.8 473.3L482.5 472.4z"/>
<path class="e" d="M491.9 472.1L487.8 473.3"/>
<path class="gs" d="M486.7 448.5L491.9 447.2L487.8 448.4L482.5 449.7z"/>
<path class="e" d="M491.9 447.2L487.8 448.4"/>
<path class="ys" d="M482.5 481.1L487.8 480.3L483.7 485.5L478.4 486.2z"/>
<path class="e" d="M487.8 480.3L483.7 485.5M483.7 485.5L478.4 486.2"/>
<path class="rs" d="M482.5 472.4L487.8 473.3L483.7 474.5L478.4 473.6z"/>
<path class="e" d="M487.8 473.3L483.7 474.5M483.7 474.5L478.4 473.6"/>
<path class="gs" d="M482.5 449.7L487.8 448.4L483.7 449.6L478.4 450.9z"/>
<path class="e" d="M487.8 448.4L483.7 449.6M483.7 449.6L478.4 450.9"/>
<path class="y" d="M462.6 488.2L483.7 485.5L467.2 502.9L446.1 504.9z"/>
<path class="r" d="M462.6 470.7L483.7 474.5L467.2 479.4L446.1 475.6z"/>
<path class="g" d="M462.6 454.7L483.7 449.6L467.2 454.5L446.1 459.6z"/>
<path class="y" d="M446.1 504.9L467.2 502.9L450.7 518.0L429.6 519.5z"/>
<path class="r" d="M446.1 475.6L467.2 479.4L450.7 484.2L429.6 480.5z"/>
<path class="g" d="M446.1 459.6L467.2 454.5L450.7 459.4L429.6 464.5z"/>
<path class="y" d="M429.6 519.5L450.7 518.0L434.2 531.5L413.1 532.5z"/>
<path class="r" d="M429.6 480.5L450.7 484.2L434.2 489.1L413.1 485.3z"/>
<path class="g" d="M429.6 464.5L450.7 459.4L434.2 464.2L413.1 469.3z"/>
<path class="y" d="M413.1 532.5L434.2 531.5L417.7 543.6L396.6 544.2z"/>
<path class="r" d="M413.1 485.3L434.2 489.1L417.7 494.0L396.6 490.2z"/>
<path class="g" d="M413.1 469.3L434.2 464.2L417.7 469.1L396.6 474.2z"/>
<path class="y" d="M396.6 544.2L417.7 543.6L401.2 554.6L380.1 555.0z"/>
<path class="r" d="M396.6 490.2L417.7 494.0L401.2 498.8L380.1 495.1z"/>
<path class="g" d="M396.6 474.2L417.7 469.1L401.2 474.0L380.1 479.1z"/>
<path class="y" d="M380.1 555.0L401.2 554.6L384.7 564.9L363.6 565.0z"/>
<path class="r" d="M380.1 495.1L401.2 498.8L384.7 503.7L363.6 499.9z"/>
<path class="g" d="M380.1 479.1L401.2 474.0L384.7 478.8L363.6 483.9z"/>
<path class="y" d="M363.6 565.0L384.7 564.9L368.2 574.5L347.1 574.3z"/>
<path class="r" d="M363.6 499.9L384.7 503.7L368.2 508.6L347.1 504.8z"/>
<path class="g" d="M363.6 483.9L384.7 478.8L368.2 483.7L347.1 488.8z"/>
<path class="y" d="M347.1 574.3L368.2 574.5L351.7 583.5L330.6 583.2z"/>
<path class="r" d="M347.1 504.8L368.2 508.6L351.7 513.4L330.6 509.7z"/>
<path class="g" d="M347.1 488.8L368.2 483.7L351.7 488.6L330.6 493.7z"/>
<path class="y" d="M330.6 583.2L351.7 583.5L335.2 592.1L314.1 591.6z"/>
<path class="r" d="M330.6 509.7L351.7 513.4L335.2 518.3L314.1 514.5z"/>
<path class="g" d="M330.6 493.7L351.7 488.6L335.2 493.4L314.1 498.5z"/>
<path class="y" d="M314.1 591.6L335.2 592.1L318.7 600.2L297.6 599.6z"/>
<path class="r" d="M314.1 514.5L335.2 518.3L318.7 523.2L297.6 519.4z"/>
<path class="g" d="M314.1 498.5L335.2 493.4L318.7 498.3L297.6 503.4z"/>
<path class="y" d="M297.6 599.6L318.7 600.2L302.2 608.1L281.1 607.3z"/>
<path class="r" d="M297.6 519.4L318.7 523.2L302.2 528.0L281.1 524.2z"/>
<path class="g" d="M297.6 503.4L318.7 498.3L302.2 503.2L281.1 508.3z"/>
<path class="y" d="M281.1 607.3L302.2 608.1L285.7 615.6L264.6 614.7z"/>
<path class="r" d="M281.1 524.2L302.2 528.0L285.7 532.9L264.6 529.1z"/>
<path class="g" d="M281.1 508.3L302.2 503.2L285.7 508.0L264.6 513.1z"/>
<path class="y" d="M264.6 614.7L285.7 615.6L269.2 622.9L248.2 622.0z"/>
<path class="r" d="M264.6 529.1L285.7 532.9L269.2 537.8L248.2 534.0z"/>
<path class="g" d="M264.6 513.1L285.7 508.0L269.2 512.9L248.2 518.0z"/>
<path class="y" d="M248.2 622.0L269.2 622.9L252.8 630.0L231.7 629.0z"/>
<path class="r" d="M248.2 534.0L269.2 537.8L252.8 542.6L231.7 538.8z"/>
<path class="g" d="M248.2 518.0L269.2 512.9L252.8 517.8L231.7 522.9z"/>
<path class="y" d="M231.7 629.0L252.8 630.0L236.3 637.0L215.2 635.8z"/>
<path class="r" d="M231.7 538.8L252.8 542.6L236.3 547.5L215.2 543.7z"/>
<path class="g" d="M231.7 522.9L252.8 517.8L236.3 522.6L215.2 527.7z"/>
<path class="y" d="M215.2 635.8L236.3 637.0L219.8 643.7L198.7 642.5z"/>
<path class="r" d="M215.2 543.7L236.3 547.5L219.8 552.4L198.7 548.6z"/>
<path class="g" d="M215.2 527.7L236.3 522.6L219.8 527.5L198.7 532.6z"/>
<path class="y" d="M198.7 642.5L219.8 643.7L203.3 650.3L182.2 649.0z"/>
<path class="r" d="M198.7 548.6L219.8 552.4L203.3 557.2L182.2 553.4z"/>
<path class="g" d="M198.7 532.6L219.8 527.5L203.3 532.3L182.2 537.4z"/>
<path class="y" d="M182.2 649.0L203.3 650.3L186.8 656.8L165.7 655.4z"/>
<path class="r" d="M182.2 553.4L203.3 557.2L186.8 562.1L165.7 558.3z"/>
<path class="g" d="M182.2 537.4L203.3 532.3L186.8 537.2L165.7 542.3z"/>
<path class="r" d="M516.7 464.8L537.8 468.6L521.3 473.4L500.2 469.7z"/>
<path class="y" d="M516.7 439.9L537.8 434.1L521.3 460.7L500.2 464.9z"/>
<path class="g" d="M516.7 439.9L537.8 434.1L521.3 439.0L500.2 444.8z"/>
<path class="rs" d="M500.2 469.7L505.4 470.6L501.3 471.8L496.1 470.9z"/>
<path class="e" d="M500.2 469.7L505.4 470.6M496.1 470.9L500.2 469.7"/>
<path class="ys" d="M500.2 464.9L505.4 463.9L501.3 469.1L496.1 470.1z"/>
<path class="e" d="M500.2 464.9L505.4 463.9M496.1 470.1L500.2 464.9"/>
<path class="gs" d="M500.2 444.8L505.4 443.3L501.3 444.6L496.1 446.0z"/>
<path class="e" d="M500.2 444.8L505.4 443.3M496.1 446.0L500.2 444.8"/>
<path class="ys" d="M496.1 470.1L501.3 469.1L497.2 474.3L491.9 475.2z"/>
<path class="e" d="M491.9 475.2L496.1 470.1"/>
<path class="rs" d="M496.1 470.9L501.3 471.8L497.2 473.0L491.9 472.1z"/>
<path class="e" d="M491.9 472.1L496.1 470.9"/>
<path class="gs" d="M496.1 446.0L501.3 444.6L497.2 445.8L491.9 447.2z"/>
<path class="e" d="M491.9 447.2L496.1 446.0"/>
<path class="ys" d="M491.9 475.2L497.2 474.3L493.1 479.5L487.8 480.3z"/>
<path class="e" d="M487.8 480.3L491.9 475.2"/>
<path class="rs" d="M491.9 472.1L497.2 473.0L493.1 474.2L487.8 473.3z"/>
<path class="e" d="M487.8 473.3L491.9 472.1"/>
<path class="gs" d="M491.9 447.2L497.2 445.8L493.1 447.0L487.8 448.4z"/>
<path class="e" d="M487.8 448.4L491.9 447.2"/>
<path class="ys" d="M487.8 480.3L493.1 479.5L489.0 484.7L483.7 485.5z"/>
<path class="e" d="M489.0 484.7L483.7 485.5M483.7 485.5L487.8 480.3"/>
<path class="rs" d="M487.8 473.3L493.1 474.2L489.0 475.5L483.7 474.5z"/>
<path class="e" d="M489.0 475.5L483.7 474.5M483.7 474.5L487.8 473.3"/>
<path class="gs" d="M487.8 448.4L493.1 447.0L489.0 448.2L483.7 449.6z"/>
<path class="e" d="M489.0 448.2L483.7 449.6M483.7 449.6L487.8 448.4"/>
<path class="rs" d="M505.4 470.6L510.7 471.5L506.6 472.8L501.3 471.8z"/>
<path class="e" d="M505.4 470.6L510.7 471.5"/>
<path class="ys" d="M505.4 463.9L510.7 462.8L506.6 468.1L501.3 469.1z"/>
<path class="e" d="M505.4 463.9L510.7 462.8"/>
<path class="gs" d="M505.4 443.3L510.7 441.9L506.6 443.1L501.3 444.6z"/>
<path class="e" d="M505.4 443.3L510.7 441.9"/>
<path class="rs" d="M501.3 471.8L506.6 472.8L502.5 474.0L497.2 473.0z"/>
<path class="ys" d="M501.3 469.1L506.6 468.1L502.5 473.3L497.2 474.3z"/>
<path class="gs" d="M501.3 444.6L506.6 443.1L502.5 444.3L497.2 445.8z"/>
<path class="ys" d="M497.2 474.3L502.5 473.3L498.3 478.6L493.1 479.5z"/>
<path class="rs" d="M497.2 473.0L502.5 474.0L498.3 475.2L493.1 474.2z"/>
<path class="gs" d="M497.2 445.8L502.5 444.3L498.3 445.5L493.1 447.0z"/>
<path class="ys" d="M493.1 479.5L498.3 478.6L494.2 483.9L489.0 484.7z"/>
<path class="e" d="M494.2 483.9L489.0 484.7"/>
<path class="rs" d="M493.1 474.2L498.3 475.2L494.2 476.4L489.0 475.5z"/>
<path class="e" d="M494.2 476.4L489.0 475.5"/>
<path class="gs" d="M493.1 447.0L498.3 445.5L494.2 446.8L489.0 448.2z"/>
<path class="e" d="M494.2 446.8L489.0 448.2"/>
<path class="rs" d="M510.7 471.5L516.0 472.5L511.9 473.7L506.6 472.8z"/>
<path class="e" d="M510.7 471.5L516.0 472.5"/>
<path class="ys" d="M510.7 462.8L516.0 461.7L511.9 467.1L506.6 468.1z"/>
<path class="e" d="M510.7 462.8L516.0 461.7"/>
<path class="gs" d="M510.7 441.9L516.0 440.4L511.9 441.7L506.6 443.1z"/>
<path class="e" d="M510.7 441.9L516.0 440.4"/>
<path class="rs" d="M506.6 472.8L511.9 473.7L507.7 474.9L502.5 474.0z"/>
<path class="ys" d="M506.6 468.1L511.9 467.1L507.7 472.4L502.5 473.3z"/>
<path class="gs" d="M506.6 443.1L511.9 441.7L507.7 442.9L502.5 444.3z"/>
<path class="ys" d="M502.5 473.3L507.7 472.4L503.6 477.8L498.3 478.6z"/>
<path class="rs" d="M502.5 474.0L507.7 474.9L503.6 476.1L498.3 475.2z"/>
<path class="gs" d="M502.5 444.3L507.7 442.9L503.6 444.1L498.3 445.5z"/>
<path class="ys" d="M498.3 478.6L503.6 477.8L499.5 483.1L494.2 483.9z"/>
<path class="e" d="M499.5 483.1L494.2 483.9"/>
<path class="rs" d="M498.3 475.2L503.6 476.1L499.5 477.4L494.2 476.4z"/>
<path class="e" d="M499.5 477.4L494.2 476.4"/>
<path class="gs" d="M498.3 445.5L503.6 444.1L499.5 445.3L494.2 446.8z"/>
<path class="e" d="M499.5 445.3L494.2 446.8"/>
<path class="rs" d="M516.0 472.5L521.3 473.4L517.1 474.7L511.9 473.7z"/>
<path class="e" d="M516.0 472.5L521.3 473.4M521.3 473.4L517.1 474.7"/>
<path class="ys" d="M516.0 461.7L521.3 460.7L517.1 466.1L511.9 467.1z"/>
<path class="e" d="M516.0 461.7L521.3 460.7M521.3 460.7L517.1 466.1"/>
<path class="gs" d="M516.0 440.4L521.3 439.0L517.1 440.2L511.9 441.7z"/>
<path class="e" d="M516.0 440.4L521.3 439.0M521.3 439.0L517.1 440.2"/>
<path class="rs" d="M511.9 473.7L517.1 474.7L513.0 475.9L507.7 474.9z"/>
<path class="e" d="M517.1 474.7L513.0 475.9"/>
<path class="ys" d="M511.9 467.1L517.1 466.1L513.0 471.5L507.7 472.4z"/>
<path class="e" d="M517.1 466.1L513.0 471.5"/>
<path class="gs" d="M511.9 441.7L517.1 440.2L513.0 441.4L507.7 442.9z"/>
<path class="e" d="M517.1 440.2L513.0 441.4"/>
<path class="rs" d="M507.7 474.9L513.0 475.9L508.9 477.1L503.6 476.1z"/>
<path class="e" d="M513.0 475.9L508.9 477.1"/>
<path class="ys" d="M507.7 472.4L513.0 471.5L508.9 476.9L503.6 477.8z"/>
<path class="e" d="M513.0 471.5L508.9 476.9"/>
<path class="gs" d="M507.7 442.9L513.0 441.4L508.9 442.6L503.6 444.1z"/>
<path class="e" d="M513.0 441.4L508.9 442.6"/>
<path class="ys" d="M503.6 477.8L508.9 476.9L504.8 482.3L499.5 483.1z"/>
<path class="e" d="M508.9 476.9L504.8 482.3M504.8 482.3L499.5 483.1"/>
<path class="rs" d="M503.6 476.1L508.9 477.1L504.8 478.3L499.5 477.4z"/>
<path class="e" d="M508.9 477.1L504.8 478.3M504.8 478.3L499.5 477.4"/>
<path class="gs" d="M503.6 444.1L508.9 442.6L504.8 443.9L499.5 445.3z"/>
<path class="e" d="M508.9 442.6L504.8 443.9M504.8 443.9L499.5 445.3"/>
<path class="y" d="M483.7 485.5L504.8 482.3L488.3 500.5L467.2 502.9z"/>
<path class="r" d="M483.7 474.5L504.8 478.3L488.3 483.2L467.2 479.4z"/>
<path class="g" d="M483.7 449.6L504.8 443.9L488.3 448.7L467.2 454.5z"/>
<path class="y" d="M467.2 502.9L488.3 500.5L471.8 516.3L450.7 518.0z"/>
<path class="r" d="M467.2 479.4L488.3 483.2L471.8 488.0L450.7 484.2z"/>
<path class="g" d="M467.2 454.5L488.3 448.7L471.8 453.6L450.7 459.4z"/>
<path class="y" d="M450.7 518.0L471.8 516.3L455.3 530.2L434.2 531.5z"/>
<path class="r" d="M450.7 484.2L471.8 488.0L455.3 492.9L434.2 489.1z"/>
<path class="g" d="M450.7 459.4L471.8 453.6L455.3 458.5L434.2 464.2z"/>
<path class="y" d="M434.2 531.5L455.3 530.2L438.8 542.7L417.7 543.6z"/>
<path class="r" d="M434.2 489.1L455.3 492.9L438.8 497.8L417.7 494.0z"/>
<path class="g" d="M434.2 464.2L455.3 458.5L438.8 463.3L417.7 469.1z"/>
<path class="y" d="M417.7 543.6L438.8 542.7L422.3 554.1L401.2 554.6z"/>
<path class="r" d="M417.7 494.0L438.8 497.8L422.3 502.6L401.2 498.8z"/>
<path class="g" d="M417.7 469.1L438.8 463.3L422.3 468.2L401.2 474.0z"/>
<path class="y" d="M401.2 554.6L422.3 554.1L405.8 564.6L384.7 564.9z"/>
<path class="r" d="M401.2 498.8L422.3 502.6L405.8 507.5L384.7 503.7z"/>
<path class="g" d="M401.2 474.0L422.3 468.2L405.8 473.1L384.7 478.8z"/>
<path class="y" d="M384.7 564.9L405.8 564.6L389.3 574.5L368.2 574.5z"/>
<path class="r" d="M384.7 503.7L405.8 507.5L389.3 512.4L368.2 508.6z"/>
<path class="g" d="M384.7 478.8L405.8 473.1L389.3 477.9L368.2 483.7z"/>
<path class="y" d="M368.2 574.5L389.3 574.5L372.8 583.7L351.7 583.5z"/>
<path class="r" d="M368.2 508.6L389.3 512.4L372.8 517.2L351.7 513.4z"/>
<path class="g" d="M368.2 483.7L389.3 477.9L372.8 482.8L351.7 488.6z"/>
<path class="y" d="M351.7 583.5L372.8 583.7L356.3 592.4L335.2 592.1z"/>
<path class="r" d="M351.7 513.4L372.8 517.2L356.3 522.1L335.2 518.3z"/>
<path class="g" d="M351.7 488.6L372.8 482.8L356.3 487.6L335.2 493.4z"/>
<path class="y" d="M335.2 592.1L356.3 592.4L339.8 600.7L318.7 600.2z"/>
<path class="r" d="M335.2 518.3L356.3 522.1L339.8 527.0L318.7 523.2z"/>
<path class="g" d="M335.2 493.4L356.3 487.6L339.8 492.5L318.7 498.3z"/>
<path class="y" d="M318.7 600.2L339.8 600.7L323.3 608.7L302.2 608.1z"/>
<path class="r" d="M318.7 523.2L339.8 527.0L323.3 531.8L302.2 528.0z"/>
<path class="g" d="M318.7 498.3L339.8 492.5L323.3 497.4L302.2 503.2z"/>
<path class="y" d="M302.2 608.1L323.3 608.7L306.8 616.4L285.7 615.6z"/>
<path class="r" d="M302.2 528.0L323.3 531.8L306.8 536.7L285.7 532.9z"/>
<path class="g" d="M302.2 503.2L323.3 497.4L306.8 502.2L285.7 508.0z"/>
<path class="y" d="M285.7 615.6L306.8 616.4L290.3 623.8L269.2 622.9z"/>
<path class="r" d="M285.7 532.9L306.8 536.7L290.3 541.5L269.2 537.8z"/>
<path class="g" d="M285.7 508.0L306.8 502.2L290.3 507.1L269.2 512.9z"/>
<path class="y" d="M269.2 622.9L290.3 623.8L273.8 631.0L252.8 630.0z"/>
<path class="r" d="M269.2 537.8L290.3 541.5L273.8 546.4L252.8 542.6z"/>
<path class="g" d="M269.2 512.9L290.3 507.1L273.8 512.0L252.8 517.8z"/>
<path class="y" d="M252.8 630.0L273.8 631.0L257.3 638.0L236.3 637.0z"/>
<path class="r" d="M252.8 542.6L273.8 546.4L257.3 551.3L236.3 547.5z"/>
<path class="g" d="M252.8 517.8L273.8 512.0L257.3 516.8L236.3 522.6z"/>
<path class="y" d="M236.3 637.0L257.3 638.0L240.8 644.8L219.8 643.7z"/>
<path class="r" d="M236.3 547.5L257.3 551.3L240.8 556.1L219.8 552.4z"/>
<path class="g" d="M236.3 522.6L257.3 516.8L240.8 521.7L219.8 527.5z"/>
<path class="y" d="M219.8 643.7L240.8 644.8L224.4 651.5L203.3 650.3z"/>
<path class="r" d="M219.8 552.4L240.8 556.1L224.4 561.0L203.3 557.2z"/>
<path class="g" d="M219.8 527.5L240.8 521.7L224.4 526.6L203.3 532.3z"/>
<path class="y" d="M203.3 650.3L224.4 651.5L207.9 658.0L186.8 656.8z"/>
<path class="r" d="M203.3 557.2L224.4 561.0L207.9 565.9L186.8 562.1z"/>
<path class="g" d="M203.3 532.3L224.4 526.6L207.9 531.4L186.8 537.2z"/>
<path class="r" d="M537.8 468.6L558.8 472.4L542.4 477.2L521.3 473.4z"/>
<path class="y" d="M537.8 434.1L558.8 427.6L542.4 455.8L521.3 460.7z"/>
<path class="g" d="M537.8 434.1L558.8 427.6L542.4 432.5L521.3 439.0z"/>
<path class="rs" d="M521.3 473.4L526.5 474.4L522.4 475.6L517.1 474.7z"/>
<path class="e" d="M521.3 473.4L526.5 474.4M517.1 474.7L521.3 473.4"/>
<path class="ys" d="M521.3 460.7L526.5 459.5L522.4 464.9L517.1 466.1z"/>
<path class="e" d="M521.3 460.7L526.5 459.5M517.1 466.1L521.3 460.7"/>
<path class="gs" d="M521.3 439.0L526.5 437.4L522.4 438.6L517.1 440.2z"/>
<path class="e" d="M521.3 439.0L526.5 437.4M517.1 440.2L521.3 439.0"/>
<path class="rs" d="M517.1 474.7L522.4 475.6L518.3 476.8L513.0 475.9z"/>
<path class="e" d="M513.0 475.9L517.1 474.7"/>
<path class="ys" d="M517.1 466.1L522.4 464.9L518.3 470.4L513.0 471.5z"/>
<path class="e" d="M513.0 471.5L517.1 466.1"/>
<path class="gs" d="M517.1 440.2L522.4 438.6L518.3 439.8L513.0 441.4z"/>
<path class="e" d="M513.0 441.4L517.1 440.2"/>
<path class="rs" d="M513.0 475.9L518.3 476.8L514.2 478.0L508.9 477.1z"/>
<path class="e" d="M508.9 477.1L513.0 475.9"/>
<path class="ys" d="M513.0 471.5L518.3 470.4L514.2 475.9L508.9 476.9z"/>
<path class="e" d="M508.9 476.9L513.0 471.5"/>
<path class="gs" d="M513.0 441.4L518.3 439.8L514.2 441.0L508.9 442.6z"/>
<path class="e" d="M508.9 442.6L513.0 441.4"/>
<path class="ys" d="M508.9 476.9L514.2 475.9L510.0 481.4L504.8 482.3z"/>
<path class="e" d="M510.0 481.4L504.8 482.3M504.8 482.3L508.9 476.9"/>
<path class="rs" d="M508.9 477.1L514.2 478.0L510.0 479.2L504.8 478.3z"/>
<path class="e" d="M510.0 479.2L504.8 478.3M504.8 478.3L508.9 477.1"/>
<path class="gs" d="M508.9 442.6L514.2 441.0L510.0 442.2L504.8 443.9z"/>
<path class="e" d="M510.0 442.2L504.8 443.9M504.8 443.9L508.9 442.6"/>
<path class="rs" d="M526.5 474.4L531.8 475.3L527.7 476.5L522.4 475.6z"/>
<path class="e" d="M526.5 474.4L531.8 475.3"/>
<path class="ys" d="M526.5 459.5L531.8 458.2L527.7 463.8L522.4 464.9z"/>
<path class="e" d="M526.5 459.5L531.8 458.2"/>
<path class="gs" d="M526.5 437.4L531.8 435.7L527.7 436.9L522.4 438.6z"/>
<path class="e" d="M526.5 437.4L531.8 435.7"/>
<path class="rs" d="M522.4 475.6L527.7 476.5L523.6 477.8L518.3 476.8z"/>
<path class="ys" d="M522.4 464.9L527.7 463.8L523.6 469.4L518.3 470.4z"/>
<path class="gs" d="M522.4 438.6L527.7 436.9L523.6 438.2L518.3 439.8z"/>
<path class="rs" d="M518.3 476.8L523.6 477.8L519.4 479.0L514.2 478.0z"/>
<path class="ys" d="M518.3 470.4L523.6 469.4L519.4 474.9L514.2 475.9z"/>
<path class="gs" d="M518.3 439.8L523.6 438.2L519.4 439.4L514.2 441.0z"/>
<path class="rs" d="M514.2 478.0L519.4 479.0L515.3 480.2L510.0 479.2z"/>
<path class="e" d="M515.3 480.2L510.0 479.2"/>
<path class="ys" d="M514.2 475.9L519.4 474.9L515.3 480.5L510.0 481.4z"/>
<path class="e" d="M515.3 480.5L510.0 481.4"/>
<path class="gs" d="M514.2 441.0L519.4 439.4L515.3 440.6L510.0 442.2z"/>
<path class="e" d="M515.3 440.6L510.0 442.2"/>
<path class="rs" d="M531.8 475.3L537.1 476.3L533.0 477.5L527.7 476.5z"/>
<path class="e" d="M531.8 475.3L537.1 476.3"/>
<path class="ys" d="M531.8 458.2L537.1 457.0L533.0 462.7L527.7 463.8z"/>
<path class="e" d="M531.8 458.2L537.1 457.0"/>
<path class="gs" d="M531.8 435.7L537.1 434.1L533.0 435.3L527.7 436.9z"/>
<path class="e" d="M531.8 435.7L537.1 434.1"/>
<path class="rs" d="M527.7 476.5L533.0 477.5L528.8 478.7L523.6 477.8z"/>
<path class="ys" d="M527.7 463.8L533.0 462.7L528.8 468.3L523.6 469.4z"/>
<path class="gs" d="M527.7 436.9L533.0 435.3L528.8 436.5L523.6 438.2z"/>
<path class="rs" d="M523.6 477.8L528.8 478.7L524.7 479.9L519.4 479.0z"/>
<path class="ys" d="M523.6 469.4L528.8 468.3L524.7 473.9L519.4 474.9z"/>
<path class="gs" d="M523.6 438.2L528.8 436.5L524.7 437.7L519.4 439.4z"/>
<path class="rs" d="M519.4 479.0L524.7 479.9L520.6 481.1L515.3 480.2z"/>
<path class="e" d="M520.6 481.1L515.3 480.2"/>
<path class="ys" d="M519.4 474.9L524.7 473.9L520.6 479.6L515.3 480.5z"/>
<path class="e" d="M520.6 479.6L515.3 480.5"/>
<path class="gs" d="M519.4 439.4L524.7 437.7L520.6 439.0L515.3 440.6z"/>
<path class="e" d="M520.6 439.0L515.3 440.6"/>
<path class="rs" d="M537.1 476.3L542.4 477.2L538.2 478.4L533.0 477.5z"/>
<path class="e" d="M537.1 476.3L542.4 477.2M542.4 477.2L538.2 478.4"/>
<path class="ys" d="M537.1 457.0L542.4 455.8L538.2 461.5L533.0 462.7z"/>
<path class="e" d="M537.1 457.0L542.4 455.8M542.4 455.8L538.2 461.5"/>
<path class="gs" d="M537.1 434.1L542.4 432.5L538.2 433.7L533.0 435.3z"/>
<path class="e" d="M537.1 434.1L542.4 432.5M542.4 432.5L538.2 433.7"/>
<path class="rs" d="M533.0 477.5L538.2 478.4L534.1 479.7L528.8 478.7z"/>
<path class="e" d="M538.2 478.4L534.1 479.7"/>
<path class="ys" d="M533.0 462.7L538.2 461.5L534.1 467.2L528.8 468.3z"/>
<path class="e" d="M538.2 461.5L534.1 467.2"/>
<path class="gs" d="M533.0 435.3L538.2 433.7L534.1 434.9L528.8 436.5z"/>
<path class="e" d="M538.2 433.7L534.1 434.9"/>
<path class="rs" d="M528.8 478.7L534.1 479.7L530.0 480.9L524.7 479.9z"/>
<path class="e" d="M534.1 479.7L530.0 480.9"/>
<path class="ys" d="M528.8 468.3L534.1 467.2L530.0 472.9L524.7 473.9z"/>
<path class="e" d="M534.1 467.2L530.0 472.9"/>
<path class="gs" d="M528.8 436.5L534.1 434.9L530.0 436.1L524.7 437.7z"/>
<path class="e" d="M534.1 434.9L530.0 436.1"/>
<path class="rs" d="M524.7 479.9L530.0 480.9L525.9 482.1L520.6 481.1z"/>
<path class="e" d="M530.0 480.9L525.9 482.1M525.9 482.1L520.6 481.1"/>
<path class="ys" d="M524.7 473.9L530.0 472.9L525.9 478.6L520.6 479.6z"/>
<path class="e" d="M530.0 472.9L525.9 478.6M525.9 478.6L520.6 479.6"/>
<path class="gs" d="M524.7 437.7L530.0 436.1L525.9 437.3L520.6 439.0z"/>
<path class="e" d="M530.0 436.1L525.9 437.3M525.9 437.3L520.6 439.0"/>
<path class="ys" d="M504.8 482.3L510.0 481.4L505.9 486.0L500.6 486.9z"/>
<path class="e" d="M504.8 482.3L510.0 481.4M500.6 486.9L504.8 482.3"/>
<path class="rs" d="M504.8 478.3L510.0 479.2L505.9 480.5L500.6 479.5z"/>
<path class="e" d="M504.8 478.3L510.0 479.2M500.6 479.5L504.8 478.3"/>
<path class="gs" d="M504.8 443.9L510.0 442.2L505.9 443.4L500.6 445.1z"/>
<path class="e" d="M504.8 443.9L510.0 442.2M500.6 445.1L504.8 443.9"/>
<path class="ys" d="M500.6 486.9L505.9 486.0L501.8 490.6L496.5 491.4z"/>
<path class="e" d="M496.5 491.4L500.6 486.9"/>
<path class="rs" d="M500.6 479.5L505.9 480.5L501.8 481.7L496.5 480.7z"/>
<path class="e" d="M496.5 480.7L500.6 479.5"/>
<path class="gs" d="M500.6 445.1L505.9 443.4L501.8 444.7L496.5 446.3z"/>
<path class="e" d="M496.5 446.3L500.6 445.1"/>
<path class="ys" d="M496.5 491.4L501.8 490.6L497.7 495.2L492.4 496.0z"/>
<path class="e" d="M492.4 496.0L496.5 491.4"/>
<path class="rs" d="M496.5 480.7L501.8 481.7L497.7 482.9L492.4 482.0z"/>
<path class="e" d="M492.4 482.0L496.5 480.7"/>
<path class="gs" d="M496.5 446.3L501.8 444.7L497.7 445.9L492.4 447.5z"/>
<path class="e" d="M492.4 447.5L496.5 446.3"/>
<path class="ys" d="M492.4 496.0L497.7 495.2L493.5 499.8L488.3 500.5z"/>
<path class="e" d="M493.5 499.8L488.3 500.5M488.3 500.5L492.4 496.0"/>
<path class="rs" d="M492.4 482.0L497.7 482.9L493.5 484.1L488.3 483.2z"/>
<path class="e" d="M493.5 484.1L488.3 483.2M488.3 483.2L492.4 482.0"/>
<path class="gs" d="M492.4 447.5L497.7 445.9L493.5 447.1L488.3 448.7z"/>
<path class="e" d="M493.5 447.1L488.3 448.7M488.3 448.7L492.4 447.5"/>
<path class="ys" d="M510.0 481.4L515.3 480.5L511.2 485.1L505.9 486.0z"/>
<path class="e" d="M510.0 481.4L515.3 480.5"/>
<path class="rs" d="M510.0 479.2L515.3 480.2L511.2 481.4L505.9 480.5z"/>
<path class="e" d="M510.0 479.2L515.3 480.2"/>
<path class="gs" d="M510.0 442.2L515.3 440.6L511.2 441.8L505.9 443.4z"/>
<path class="e" d="M510.0 442.2L515.3 440.6"/>
<path class="ys" d="M505.9 486.0L511.2 485.1L507.1 489.8L501.8 490.6z"/>
<path class="rs" d="M505.9 480.5L511.2 481.4L507.1 482.6L501.8 481.7z"/>
<path class="gs" d="M505.9 443.4L511.2 441.8L507.1 443.0L501.8 444.7z"/>
<path class="ys" d="M501.8 490.6L507.1 489.8L502.9 494.5L497.7 495.2z"/>
<path class="rs" d="M501.8 481.7L507.1 482.6L502.9 483.8L497.7 482.9z"/>
<path class="gs" d="M501.8 444.7L507.1 443.0L502.9 444.2L497.7 445.9z"/>
<path class="ys" d="M497.7 495.2L502.9 494.5L498.8 499.1L493.5 499.8z"/>
<path class="e" d="M498.8 499.1L493.5 499.8"/>
<path class="rs" d="M497.7 482.9L502.9 483.8L498.8 485.1L493.5 484.1z"/>
<path class="e" d="M498.8 485.1L493.5 484.1"/>
<path class="gs" d="M497.7 445.9L502.9 444.2L498.8 445.5L493.5 447.1z"/>
<path class="e" d="M498.8 445.5L493.5 447.1"/>
<path class="ys" d="M515.3 480.5L520.6 479.6L516.5 484.3L511.2 485.1z"/>
<path class="e" d="M515.3 480.5L520.6 479.6"/>
<path class="rs" d="M515.3 480.2L520.6 481.1L516.5 482.4L511.2 481.4z"/>
<path class="e" d="M515.3 480.2L520.6 481.1"/>
<path class="gs" d="M515.3 440.6L520.6 439.0L516.5 440.2L511.2 441.8z"/>
<path class="e" d="M515.3 440.6L520.6 439.0"/>
<path class="ys" d="M511.2 485.1L516.5 484.3L512.3 489.0L507.1 489.8z"/>
<path class="rs" d="M511.2 481.4L516.5 482.4L512.3 483.6L507.1 482.6z"/>
<path class="gs" d="M511.2 441.8L516.5 440.2L512.3 441.4L507.1 443.0z"/>
<path class="ys" d="M507.1 489.8L512.3 489.0L508.2 493.7L502.9 494.5z"/>
<path class="rs" d="M507.1 482.6L512.3 483.6L508.2 484.8L502.9 483.8z"/>
<path class="gs" d="M507.1 443.0L512.3 441.4L508.2 442.6L502.9 444.2z"/>
<path class="ys" d="M502.9 494.5L508.2 493.7L504.1 498.4L498.8 499.1z"/>
<path class="e" d="M504.1 498.4L498.8 499.1"/>
<path class="rs" d="M502.9 483.8L508.2 484.8L504.1 486.0L498.8 485.1z"/>
<path class="e" d="M504.1 486.0L498.8 485.1"/>
<path class="gs" d="M502.9 444.2L508.2 442.6L504.1 443.8L498.8 445.5z"/>
<path class="e" d="M504.1 443.8L498.8 445.5"/>
<path class="rs" d="M520.6 481.1L525.9 482.1L521.7 483.3L516.5 482.4z"/>
<path class="e" d="M520.6 481.1L525.9 482.1M525.9 482.1L521.7 483.3"/>
<path class="ys" d="M520.6 479.6L525.9 478.6L521.7 483.4L516.5 484.3z"/>
<path class="e" d="M520.6 479.6L525.9 478.6M525.9 478.6L521.7 483.4"/>
<path class="gs" d="M520.6 439.0L525.9 437.3L521.7 438.5L516.5 440.2z"/>
<path class="e" d="M520.6 439.0L525.9 437.3M525.9 437.3L521.7 438.5"/>
<path class="ys" d="M516.5 484.3L521.7 483.4L517.6 488.2L512.3 489.0z"/>
<path class="e" d="M521.7 483.4L517.6 488.2"/>
<path class="rs" d="M516.5 482.4L521.7 483.3L517.6 484.5L512.3 483.6z"/>
<path class="e" d="M521.7 483.3L517.6 484.5"/>
<path class="gs" d="M516.5 440.2L521.7 438.5L517.6 439.7L512.3 441.4z"/>
<path class="e" d="M521.7 438.5L517.6 439.7"/>
<path class="ys" d="M512.3 489.0L517.6 488.2L513.5 493.0L508.2 493.7z"/>
<path class="e" d="M517.6 488.2L513.5 493.0"/>
<path class="rs" d="M512.3 483.6L517.6 484.5L513.5 485.7L508.2 484.8z"/>
<path class="e" d="M517.6 484.5L513.5 485.7"/>
<path class="gs" d="M512.3 441.4L517.6 439.7L513.5 441.0L508.2 442.6z"/>
<path class="e" d="M517.6 439.7L513.5 441.0"/>
<path class="ys" d="M508.2 493.7L513.5 493.0L509.4 497.8L504.1 498.4z"/>
<path class="e" d="M513.5 493.0L509.4 497.8M509.4 497.8L504.1 498.4"/>
<path class="rs" d="M508.2 484.8L513.5 485.7L509.4 487.0L504.1 486.0z"/>
<path class="e" d="M513.5 485.7L509.4 487.0M509.4 487.0L504.1 486.0"/>
<path class="gs" d="M508.2 442.6L513.5 441.0L509.4 442.2L504.1 443.8z"/>
<path class="e" d="M513.5 441.0L509.4 442.2M509.4 442.2L504.1 443.8"/>
<path class="y" d="M488.3 500.5L509.4 497.8L492.9 514.2L471.8 516.3z"/>
<path class="r" d="M488.3 483.2L509.4 487.0L492.9 491.8L471.8 488.0z"/>
<path class="g" d="M488.3 448.7L509.4 442.2L492.9 447.0L471.8 453.6z"/>
<path class="y" d="M471.8 516.3L492.9 514.2L476.4 528.7L455.3 530.2z"/>
<path class="r" d="M471.8 488.0L492.9 491.8L476.4 496.7L455.3 492.9z"/>
<path class="g" d="M471.8 453.6L492.9 447.0L476.4 451.9L455.3 458.5z"/>
<path class="y" d="M455.3 530.2L476.4 528.7L459.9 541.6L438.8 542.7z"/>
<path class="r" d="M455.3 492.9L476.4 496.7L459.9 501.5L438.8 497.8z"/>
<path class="g" d="M455.3 458.5L476.4 451.9L459.9 456.8L438.8 463.3z"/>
<path class="y" d="M438.8 542.7L459.9 541.6L443.4 553.4L422.3 554.1z"/>
<path class="r" d="M438.8 497.8L459.9 501.5L443.4 506.4L422.3 502.6z"/>
<path class="g" d="M438.8 463.3L459.9 456.8L443.4 461.6L422.3 468.2z"/>
<path class="y" d="M422.3 554.1L443.4 553.4L426.9 564.2L405.8 564.6z"/>
<path class="r" d="M422.3 502.6L443.4 506.4L426.9 511.3L405.8 507.5z"/>
<path class="g" d="M422.3 468.2L443.4 461.6L426.9 466.5L405.8 473.1z"/>
<path class="y" d="M405.8 564.6L426.9 564.2L410.4 574.2L389.3 574.5z"/>
<path class="r" d="M405.8 507.5L426.9 511.3L410.4 516.1L389.3 512.4z"/>
<path class="g" d="M405.8 473.1L426.9 466.5L410.4 471.4L389.3 477.9z"/>
<path class="y" d="M389.3 574.5L410.4 574.2L393.9 583.7L372.8 583.7z"/>
<path class="r" d="M389.3 512.4L410.4 516.1L393.9 521.0L372.8 517.2z"/>
<path class="g" d="M389.3 477.9L410.4 471.4L393.9 476.2L372.8 482.8z"/>
<path class="y" d="M372.8 583.7L393.9 583.7L377.4 592.6L356.3 592.4z"/>
<path class="r" d="M372.8 517.2L393.9 521.0L377.4 525.9L356.3 522.1z"/>
<path class="g" d="M372.8 482.8L393.9 476.2L377.4 481.1L356.3 487.6z"/>
<path class="y" d="M356.3 592.4L377.4 592.6L360.9 601.1L339.8 600.7z"/>
<path class="r" d="M356.3 522.1L377.4 525.9L360.9 530.7L339.8 527.0z"/>
<path class="g" d="M356.3 487.6L377.4 481.1L360.9 486.0L339.8 492.5z"/>
<path class="y" d="M339.8 600.7L360.9 601.1L344.4 609.2L323.3 608.7z"/>
<path class="r" d="M339.8 527.0L360.9 530.7L344.4 535.6L323.3 531.8z"/>
<path class="g" d="M339.8 492.5L360.9 486.0L344.4 490.8L323.3 497.4z"/>
<path class="y" d="M323.3 608.7L344.4 609.2L327.9 617.0L306.8 616.4z"/>
<path class="r" d="M323.3 531.8L344.4 535.6L327.9 540.5L306.8 536.7z"/>
<path class="g" d="M323.3 497.4L344.4 490.8L327.9 495.7L306.8 502.2z"/>
<path class="y" d="M306.8 616.4L327.9 617.0L311.4 624.5L290.3 623.8z"/>
<path class="r" d="M306.8 536.7L327.9 540.5L311.4 545.3L290.3 541.5z"/>
<path class="g" d="M306.8 502.2L327.9 495.7L311.4 500.6L290.3 507.1z"/>
<path class="y" d="M290.3 623.8L311.4 624.5L294.9 631.8L273.8 631.0z"/>
<path class="r" d="M290.3 541.5L311.4 545.3L294.9 550.2L273.8 546.4z"/>
<path class="g" d="M290.3 507.1L311.4 500.6L294.9 505.4L273.8 512.0z"/>
<path class="y" d="M273.8 631.0L294.9 631.8L278.4 638.9L257.3 638.0z"/>
<path class="r" d="M273.8 546.4L294.9 550.2L278.4 555.1L257.3 551.3z"/>
<path class="g" d="M273.8 512.0L294.9 505.4L278.4 510.3L257.3 516.8z"/>
<path class="y" d="M257.3 638.0L278.4 638.9L261.9 645.8L240.8 644.8z"/>
<path class="r" d="M257.3 551.3L278.4 555.1L261.9 559.9L240.8 556.1z"/>
<path class="g" d="M257.3 516.8L278.4 510.3L261.9 515.2L240.8 521.7z"/>
<path class="y" d="M240.8 644.8L261.9 645.8L245.4 652.6L224.4 651.5z"/>
<path class="r" d="M240.8 556.1L261.9 559.9L245.4 564.8L224.4 561.0z"/>
<path class="g" d="M240.8 521.7L261.9 515.2L245.4 520.0L224.4 526.6z"/>
<path class="y" d="M224.4 651.5L245.4 652.6L228.9 659.2L207.9 658.0z"/>
<path class="r" d="M224.4 561.0L245.4 564.8L228.9 569.7L207.9 565.9z"/>
<path class="g" d="M224.4 526.6L245.4 520.0L228.9 524.9L207.9 531.4z"/>
<path class="r" d="M558.8 472.4L579.9 476.1L563.4 481.0L542.4 477.2z"/>
<path class="y" d="M558.8 427.6L579.9 420.2L563.4 450.3L542.4 455.8z"/>
<path class="g" d="M558.8 427.6L579.9 420.2L563.4 425.0L542.4 432.5z"/>
<path class="r" d="M542.4 477.2L563.4 481.0L547.0 485.9L525.9 482.1z"/>
<path class="y" d="M542.4 455.8L563.4 450.3L547.0 474.5L525.9 478.6z"/>
<path class="g" d="M542.4 432.5L563.4 425.0L547.0 429.9L525.9 437.3z"/>
<path class="rs" d="M525.9 482.1L531.1 483.0L527.0 484.2L521.7 483.3z"/>
<path class="e" d="M525.9 482.1L531.1 483.0M521.7 483.3L525.9 482.1"/>
<path class="ys" d="M525.9 478.6L531.1 477.6L527.0 482.4L521.7 483.4z"/>
<path class="e" d="M525.9 478.6L531.1 477.6M521.7 483.4L525.9 478.6"/>
<path class="gs" d="M525.9 437.3L531.1 435.5L527.0 436.7L521.7 438.5z"/>
<path class="e" d="M525.9 437.3L531.1 435.5M521.7 438.5L525.9 437.3"/>
<path class="ys" d="M521.7 483.4L527.0 482.4L522.9 487.3L517.6 488.2z"/>
<path class="e" d="M517.6 488.2L521.7 483.4"/>
<path class="rs" d="M521.7 483.3L527.0 484.2L522.9 485.5L517.6 484.5z"/>
<path class="e" d="M517.6 484.5L521.7 483.3"/>
<path class="gs" d="M521.7 438.5L527.0 436.7L522.9 437.9L517.6 439.7z"/>
<path class="e" d="M517.6 439.7L521.7 438.5"/>
<path class="ys" d="M517.6 488.2L522.9 487.3L518.8 492.1L513.5 493.0z"/>
<path class="e" d="M513.5 493.0L517.6 488.2"/>
<path class="rs" d="M517.6 484.5L522.9 485.5L518.8 486.7L513.5 485.7z"/>
<path class="e" d="M513.5 485.7L517.6 484.5"/>
<path class="gs" d="M517.6 439.7L522.9 437.9L518.8 439.1L513.5 441.0z"/>
<path class="e" d="M513.5 441.0L517.6 439.7"/>
<path class="ys" d="M513.5 493.0L518.8 492.1L514.6 497.0L509.4 497.8z"/>
<path class="e" d="M514.6 497.0L509.4 497.8M509.4 497.8L513.5 493.0"/>
<path class="rs" d="M513.5 485.7L518.8 486.7L514.6 487.9L509.4 487.0z"/>
<path class="e" d="M514.6 487.9L509.4 487.0M509.4 487.0L513.5 485.7"/>
<path class="gs" d="M513.5 441.0L518.8 439.1L514.6 440.3L509.4 442.2z"/>
<path class="e" d="M514.6 440.3L509.4 442.2M509.4 442.2L513.5 441.0"/>
<path class="rs" d="M531.1 483.0L536.4 484.0L532.3 485.2L527.0 484.2z"/>
<path class="e" d="M531.1 483.0L536.4 484.0"/>
<path class="ys" d="M531.1 477.6L536.4 476.6L532.3 481.5L527.0 482.4z"/>
<path class="e" d="M531.1 477.6L536.4 476.6"/>
<path class="gs" d="M531.1 435.5L536.4 433.6L532.3 434.8L527.0 436.7z"/>
<path class="e" d="M531.1 435.5L536.4 433.6"/>
<path class="rs" d="M527.0 484.2L532.3 485.2L528.2 486.4L522.9 485.5z"/>
<path class="ys" d="M527.0 482.4L532.3 481.5L528.2 486.4L522.9 487.3z"/>
<path class="gs" d="M527.0 436.7L532.3 434.8L528.2 436.0L522.9 437.9z"/>
<path class="ys" d="M522.9 487.3L528.2 486.4L524.0 491.3L518.8 492.1z"/>
<path class="rs" d="M522.9 485.5L528.2 486.4L524.0 487.6L518.8 486.7z"/>
<path class="gs" d="M522.9 437.9L528.2 436.0L524.0 437.3L518.8 439.1z"/>
<path class="ys" d="M518.8 492.1L524.0 491.3L519.9 496.2L514.6 497.0z"/>
<path class="e" d="M519.9 496.2L514.6 497.0"/>
<path class="rs" d="M518.8 486.7L524.0 487.6L519.9 488.8L514.6 487.9z"/>
<path class="e" d="M519.9 488.8L514.6 487.9"/>
<path class="gs" d="M518.8 439.1L524.0 437.3L519.9 438.5L514.6 440.3z"/>
<path class="e" d="M519.9 438.5L514.6 440.3"/>
<path class="rs" d="M536.4 484.0L541.7 484.9L537.6 486.1L532.3 485.2z"/>
<path class="e" d="M536.4 484.0L541.7 484.9"/>
<path class="ys" d="M536.4 476.6L541.7 475.5L537.6 480.5L532.3 481.5z"/>
<path class="e" d="M536.4 476.6L541.7 475.5"/>
<path class="gs" d="M536.4 433.6L541.7 431.8L537.6 433.0L532.3 434.8z"/>
<path class="e" d="M536.4 433.6L541.7 431.8"/>
<path class="rs" d="M532.3 485.2L537.6 486.1L533.4 487.4L528.2 486.4z"/>
<path class="ys" d="M532.3 481.5L537.6 480.5L533.4 485.4L528.2 486.4z"/>
<path class="gs" d="M532.3 434.8L537.6 433.0L533.4 434.2L528.2 436.0z"/>
<path class="ys" d="M528.2 486.4L533.4 485.4L529.3 490.4L524.0 491.3z"/>
<path class="rs" d="M528.2 486.4L533.4 487.4L529.3 488.6L524.0 487.6z"/>
<path class="gs" d="M528.2 436.0L533.4 434.2L529.3 435.4L524.0 437.3z"/>
<path class="ys" d="M524.0 491.3L529.3 490.4L525.2 495.4L519.9 496.2z"/>
<path class="e" d="M525.2 495.4L519.9 496.2"/>
<path class="rs" d="M524.0 487.6L529.3 488.6L525.2 489.8L519.9 488.8z"/>
<path class="e" d="M525.2 489.8L519.9 488.8"/>
<path class="gs" d="M524.0 437.3L529.3 435.4L525.2 436.6L519.9 438.5z"/>
<path class="e" d="M525.2 436.6L519.9 438.5"/>
<path class="rs" d="M541.7 484.9L547.0 485.9L542.8 487.1L537.6 486.1z"/>
<path class="e" d="M541.7 484.9L547.0 485.9M547.0 485.9L542.8 487.1"/>
<path class="ys" d="M541.7 475.5L547.0 474.5L542.8 479.5L537.6 480.5z"/>
<path class="e" d="M541.7 475.5L547.0 474.5M547.0 474.5L542.8 479.5"/>
<path class="gs" d="M541.7 431.8L547.0 429.9L542.8 431.1L537.6 433.0z"/>
<path class="e" d="M541.7 431.8L547.0 429.9M547.0 429.9L542.8 431.1"/>
<path class="rs" d="M537.6 486.1L542.8 487.1L538.7 488.3L533.4 487.4z"/>
<path class="e" d="M542.8 487.1L538.7 488.3"/>
<path class="ys" d="M537.6 480.5L542.8 479.5L538.7 484.5L533.4 485.4z"/>
<path class="e" d="M542.8 479.5L538.7 484.5"/>
<path class="gs" d="M537.6 433.0L542.8 431.1L538.7 432.3L533.4 434.2z"/>
<path class="e" d="M542.8 431.1L538.7 432.3"/>
<path class="rs" d="M533.4 487.4L538.7 488.3L534.6 489.5L529.3 488.6z"/>
<path class="e" d="M538.7 488.3L534.6 489.5"/>
<path class="ys" d="M533.4 485.4L538.7 484.5L534.6 489.5L529.3 490.4z"/>
<path class="e" d="M538.7 484.5L534.6 489.5"/>
<path class="gs" d="M533.4 434.2L538.7 432.3L534.6 433.6L529.3 435.4z"/>
<path class="e" d="M538.7 432.3L534.6 433.6"/>
<path class="ys" d="M529.3 490.4L534.6 489.5L530.5 494.6L525.2 495.4z"/>
<path class="e" d="M534.6 489.5L530.5 494.6M530.5 494.6L525.2 495.4"/>
<path class="rs" d="M529.3 488.6L534.6 489.5L530.5 490.7L525.2 489.8z"/>
<path class="e" d="M534.6 489.5L530.5 490.7M530.5 490.7L525.2 489.8"/>
<path class="gs" d="M529.3 435.4L534.6 433.6L530.5 434.8L525.2 436.6z"/>
<path class="e" d="M534.6 433.6L530.5 434.8M530.5 434.8L525.2 436.6"/>
<path class="y" d="M509.4 497.8L530.5 494.6L514.0 511.8L492.9 514.2z"/>
<path class="r" d="M509.4 487.0L530.5 490.7L514.0 495.6L492.9 491.8z"/>
<path class="g" d="M509.4 442.2L530.5 434.8L514.0 439.6L492.9 447.0z"/>
<path class="y" d="M492.9 514.2L514.0 511.8L497.5 526.8L476.4 528.7z"/>
<path class="r" d="M492.9 491.8L514.0 495.6L497.5 500.5L476.4 496.7z"/>
<path class="g" d="M492.9 447.0L514.0 439.6L497.5 444.5L476.4 451.9z"/>
<path class="y" d="M476.4 528.7L497.5 526.8L481.0 540.2L459.9 541.6z"/>
<path class="r" d="M476.4 496.7L497.5 500.5L481.0 505.3L459.9 501.5z"/>
<path class="g" d="M476.4 451.9L497.5 444.5L481.0 449.4L459.9 456.8z"/>
<path class="y" d="M459.9 541.6L481.0 540.2L464.5 552.4L443.4 553.4z"/>
<path class="r" d="M459.9 501.5L481.0 505.3L464.5 510.2L443.4 506.4z"/>
<path class="g" d="M459.9 456.8L481.0 449.4L464.5 454.2L443.4 461.6z"/>
<path class="y" d="M443.4 553.4L464.5 552.4L448.0 563.5L426.9 564.2z"/>
<path class="r" d="M443.4 506.4L464.5 510.2L448.0 515.1L426.9 511.3z"/>
<path class="g" d="M443.4 461.6L464.5 454.2L448.0 459.1L426.9 466.5z"/>
<path class="y" d="M426.9 564.2L448.0 563.5L431.5 573.8L410.4 574.2z"/>
<path class="r" d="M426.9 511.3L448.0 515.1L431.5 519.9L410.4 516.1z"/>
<path class="g" d="M426.9 466.5L448.0 459.1L431.5 464.0L410.4 471.4z"/>
<path class="y" d="M410.4 574.2L431.5 573.8L415.0 583.5L393.9 583.7z"/>
<path class="r" d="M410.4 516.1L431.5 519.9L415.0 524.8L393.9 521.0z"/>
<path class="g" d="M410.4 471.4L431.5 464.0L415.0 468.8L393.9 476.2z"/>
<path class="y" d="M393.9 583.7L415.0 583.5L398.5 592.6L377.4 592.6z"/>
<path class="r" d="M393.9 521.0L415.0 524.8L398.5 529.7L377.4 525.9z"/>
<path class="g" d="M393.9 476.2L415.0 468.8L398.5 473.7L377.4 481.1z"/>
<path class="y" d="M377.4 592.6L398.5 592.6L382.0 601.3L360.9 601.1z"/>
<path class="r" d="M377.4 525.9L398.5 529.7L382.0 534.5L360.9 530.7z"/>
<path class="g" d="M377.4 481.1L398.5 473.7L382.0 478.6L360.9 486.0z"/>
<path class="y" d="M360.9 601.1L382.0 601.3L365.5 609.6L344.4 609.2z"/>
<path class="r" d="M360.9 530.7L382.0 534.5L365.5 539.4L344.4 535.6z"/>
<path class="g" d="M360.9 486.0L382.0 478.6L365.5 483.4L344.4 490.8z"/>
<path class="y" d="M344.4 609.2L365.5 609.6L349.0 617.5L327.9 617.0z"/>
<path class="r" d="M344.4 535.6L365.5 539.4L349.0 544.3L327.9 540.5z"/>
<path class="g" d="M344.4 490.8L365.5 483.4L349.0 488.3L327.9 495.7z"/>
<path class="y" d="M327.9 617.0L349.0 617.5L332.5 625.1L311.4 624.5z"/>
<path class="r" d="M327.9 540.5L349.0 544.3L332.5 549.1L311.4 545.3z"/>
<path class="g" d="M327.9 495.7L349.0 488.3L332.5 493.2L311.4 500.6z"/>
<path class="y" d="M311.4 624.5L332.5 625.1L316.0 632.5L294.9 631.8z"/>
<path class="r" d="M311.4 545.3L332.5 549.1L316.0 554.0L294.9 550.2z"/>
<path class="g" d="M311.4 500.6L332.5 493.2L316.0 498.0L294.9 505.4z"/>
<path class="y" d="M294.9 631.8L316.0 632.5L299.5 639.7L278.4 638.9z"/>
<path class="r" d="M294.9 550.2L316.0 554.0L299.5 558.8L278.4 555.1z"/>
<path class="g" d="M294.9 505.4L316.0 498.0L299.5 502.9L278.4 510.3z"/>
<path class="y" d="M278.4 638.9L299.5 639.7L283.0 646.7L261.9 645.8z"/>
<path class="r" d="M278.4 555.1L299.5 558.8L283.0 563.7L261.9 559.9z"/>
<path class="g" d="M278.4 510.3L299.5 502.9L283.0 507.7L261.9 515.2z"/>
<path class="y" d="M261.9 645.8L283.0 646.7L266.5 653.6L245.4 652.6z"/>
<path class="r" d="M261.9 559.9L283.0 563.7L266.5 568.6L245.4 564.8z"/>
<path class="g" d="M261.9 515.2L283.0 507.7L266.5 512.6L245.4 520.0z"/>
<path class="y" d="M245.4 652.6L266.5 653.6L250.0 660.2L228.9 659.2z"/>
<path class="r" d="M245.4 564.8L266.5 568.6L250.0 573.4L228.9 569.7z"/>
<path class="g" d="M245.4 520.0L266.5 512.6L250.0 517.5L228.9 524.9z"/>
<path class="r" d="M579.9 476.1L601.0 479.9L584.5 484.8L563.4 481.0z"/>
<path class="y" d="M579.9 420.2L601.0 411.8L584.5 444.1L563.4 450.3z"/>
<path class="g" d="M579.9 420.2L601.0 411.8L584.5 416.7L563.4 425.0z"/>
<path class="r" d="M563.4 481.0L584.5 484.8L568.0 489.7L547.0 485.9z"/>
<path class="y" d="M563.4 450.3L584.5 444.1L568.0 469.7L547.0 474.5z"/>
<path class="g" d="M563.4 425.0L584.5 416.7L568.0 421.5L547.0 429.9z"/>
<path class="rs" d="M547.0 485.9L552.2 486.8L548.1 488.0L542.8 487.1z"/>
<path class="e" d="M547.0 485.9L552.2 486.8M542.8 487.1L547.0 485.9"/>
<path class="ys" d="M547.0 474.5L552.2 473.3L548.1 478.4L542.8 479.5z"/>
<path class="e" d="M547.0 474.5L552.2 473.3M542.8 479.5L547.0 474.5"/>
<path class="gs" d="M547.0 429.9L552.2 427.8L548.1 429.0L542.8 431.1z"/>
<path class="e" d="M547.0 429.9L552.2 427.8M542.8 431.1L547.0 429.9"/>
<path class="rs" d="M542.8 487.1L548.1 488.0L544.0 489.3L538.7 488.3z"/>
<path class="e" d="M538.7 488.3L542.8 487.1"/>
<path class="ys" d="M542.8 479.5L548.1 478.4L544.0 483.5L538.7 484.5z"/>
<path class="e" d="M538.7 484.5L542.8 479.5"/>
<path class="gs" d="M542.8 431.1L548.1 429.0L544.0 430.2L538.7 432.3z"/>
<path class="e" d="M538.7 432.3L542.8 431.1"/>
<path class="rs" d="M538.7 488.3L544.0 489.3L539.9 490.5L534.6 489.5z"/>
<path class="e" d="M534.6 489.5L538.7 488.3"/>
<path class="ys" d="M538.7 484.5L544.0 483.5L539.9 488.6L534.6 489.5z"/>
<path class="e" d="M534.6 489.5L538.7 484.5"/>
<path class="gs" d="M538.7 432.3L544.0 430.2L539.9 431.5L534.6 433.6z"/>
<path class="e" d="M534.6 433.6L538.7 432.3"/>
<path class="ys" d="M534.6 489.5L539.9 488.6L535.7 493.6L530.5 494.6z"/>
<path class="e" d="M535.7 493.6L530.5 494.6M530.5 494.6L534.6 489.5"/>
<path class="rs" d="M534.6 489.5L539.9 490.5L535.7 491.7L530.5 490.7z"/>
<path class="e" d="M535.7 491.7L530.5 490.7M530.5 490.7L534.6 489.5"/>
<path class="gs" d="M534.6 433.6L539.9 431.5L535.7 432.7L530.5 434.8z"/>
<path class="e" d="M535.7 432.7L530.5 434.8M530.5 434.8L534.6 433.6"/>
<path class="rs" d="M552.2 486.8L557.5 487.8L553.4 489.0L548.1 488.0z"/>
<path class="e" d="M552.2 486.8L557.5 487.8"/>
<path class="ys" d="M552.2 473.3L557.5 472.1L553.4 477.2L548.1 478.4z"/>
<path class="e" d="M552.2 473.3L557.5 472.1"/>
<path class="gs" d="M552.2 427.8L557.5 425.7L553.4 426.9L548.1 429.0z"/>
<path class="e" d="M552.2 427.8L557.5 425.7"/>
<path class="rs" d="M548.1 488.0L553.4 489.0L549.2 490.2L544.0 489.3z"/>
<path class="ys" d="M548.1 478.4L553.4 477.2L549.2 482.4L544.0 483.5z"/>
<path class="gs" d="M548.1 429.0L553.4 426.9L549.2 428.2L544.0 430.2z"/>
<path class="rs" d="M544.0 489.3L549.2 490.2L545.1 491.4L539.9 490.5z"/>
<path class="ys" d="M544.0 483.5L549.2 482.4L545.1 487.6L539.9 488.6z"/>
<path class="gs" d="M544.0 430.2L549.2 428.2L545.1 429.4L539.9 431.5z"/>
<path class="rs" d="M539.9 490.5L545.1 491.4L541.0 492.6L535.7 491.7z"/>
<path class="e" d="M541.0 492.6L535.7 491.7"/>
<path class="ys" d="M539.9 488.6L545.1 487.6L541.0 492.7L535.7 493.6z"/>
<path class="e" d="M541.0 492.7L535.7 493.6"/>
<path class="gs" d="M539.9 431.5L545.1 429.4L541.0 430.6L535.7 432.7z"/>
<path class="e" d="M541.0 430.6L535.7 432.7"/>
<path class="rs" d="M557.5 487.8L562.8 488.7L558.6 489.9L553.4 489.0z"/>
<path class="e" d="M557.5 487.8L562.8 488.7"/>
<path class="ys" d="M557.5 472.1L562.8 470.9L558.6 476.1L553.4 477.2z"/>
<path class="e" d="M557.5 472.1L562.8 470.9"/>
<path class="gs" d="M557.5 425.7L562.8 423.6L558.6 424.8L553.4 426.9z"/>
<path class="e" d="M557.5 425.7L562.8 423.6"/>
<path class="rs" d="M553.4 489.0L558.6 489.9L554.5 491.1L549.2 490.2z"/>
<path class="ys" d="M553.4 477.2L558.6 476.1L554.5 481.4L549.2 482.4z"/>
<path class="gs" d="M553.4 426.9L558.6 424.8L554.5 426.1L549.2 428.2z"/>
<path class="rs" d="M549.2 490.2L554.5 491.1L550.4 492.4L545.1 491.4z"/>
<path class="ys" d="M549.2 482.4L554.5 481.4L550.4 486.6L545.1 487.6z"/>
<path class="gs" d="M549.2 428.2L554.5 426.1L550.4 427.3L545.1 429.4z"/>
<path class="rs" d="M545.1 491.4L550.4 492.4L546.3 493.6L541.0 492.6z"/>
<path class="e" d="M546.3 493.6L541.0 492.6"/>
<path class="ys" d="M545.1 487.6L550.4 486.6L546.3 491.8L541.0 492.7z"/>
<path class="e" d="M546.3 491.8L541.0 492.7"/>
<path class="gs" d="M545.1 429.4L550.4 427.3L546.3 428.5L541.0 430.6z"/>
<path class="e" d="M546.3 428.5L541.0 430.6"/>
<path class="rs" d="M562.8 488.7L568.0 489.7L563.9 490.9L558.6 489.9z"/>
<path class="e" d="M562.8 488.7L568.0 489.7M568.0 489.7L563.9 490.9"/>
<path class="ys" d="M562.8 470.9L568.0 469.7L563.9 475.0L558.6 476.1z"/>
<path class="e" d="M562.8 470.9L568.0 469.7M568.0 469.7L563.9 475.0"/>
<path class="gs" d="M562.8 423.6L568.0 421.5L563.9 422.7L558.6 424.8z"/>
<path class="e" d="M562.8 423.6L568.0 421.5M568.0 421.5L563.9 422.7"/>
<path class="rs" d="M558.6 489.9L563.9 490.9L559.8 492.1L554.5 491.1z"/>
<path class="e" d="M563.9 490.9L559.8 492.1"/>
<path class="ys" d="M558.6 476.1L563.9 475.0L559.8 480.3L554.5 481.4z"/>
<path class="e" d="M563.9 475.0L559.8 480.3"/>
<path class="gs" d="M558.6 424.8L563.9 422.7L559.8 424.0L554.5 426.1z"/>
<path class="e" d="M563.9 422.7L559.8 424.0"/>
<path class="rs" d="M554.5 491.1L559.8 492.1L555.7 493.3L550.4 492.4z"/>
<path class="e" d="M559.8 492.1L555.7 493.3"/>
<path class="ys" d="M554.5 481.4L559.8 480.3L555.7 485.6L550.4 486.6z"/>
<path class="e" d="M559.8 480.3L555.7 485.6"/>
<path class="gs" d="M554.5 426.1L559.8 424.0L555.7 425.2L550.4 427.3z"/>
<path class="e" d="M559.8 424.0L555.7 425.2"/>
<path class="rs" d="M550.4 492.4L555.7 493.3L551.5 494.5L546.3 493.6z"/>
<path class="e" d="M555.7 493.3L551.5 494.5M551.5 494.5L546.3 493.6"/>
<path class="ys" d="M550.4 486.6L555.7 485.6L551.5 490.9L546.3 491.8z"/>
<path class="e" d="M555.7 485.6L551.5 490.9M551.5 490.9L546.3 491.8"/>
<path class="gs" d="M550.4 427.3L555.7 425.2L551.5 426.4L546.3 428.5z"/>
<path class="e" d="M555.7 425.2L551.5 426.4M551.5 426.4L546.3 428.5"/>
<path class="ys" d="M530.5 494.6L535.7 493.6L531.6 498.0L526.3 498.9z"/>
<path class="e" d="M530.5 494.6L535.7 493.6M526.3 498.9L530.5 494.6"/>
<path class="rs" d="M530.5 490.7L535.7 491.7L531.6 492.9L526.3 492.0z"/>
<path class="e" d="M530.5 490.7L535.7 491.7M526.3 492.0L530.5 490.7"/>
<path class="gs" d="M530.5 434.8L535.7 432.7L531.6 433.9L526.3 436.0z"/>
<path class="e" d="M530.5 434.8L535.7 432.7M526.3 436.0L530.5 434.8"/>
<path class="ys" d="M526.3 498.9L531.6 498.0L527.5 502.3L522.2 503.2z"/>
<path class="e" d="M522.2 503.2L526.3 498.9"/>
<path class="rs" d="M526.3 492.0L531.6 492.9L527.5 494.1L522.2 493.2z"/>
<path class="e" d="M522.2 493.2L526.3 492.0"/>
<path class="gs" d="M526.3 436.0L531.6 433.9L527.5 435.1L522.2 437.2z"/>
<path class="e" d="M522.2 437.2L526.3 436.0"/>
<path class="ys" d="M522.2 503.2L527.5 502.3L523.4 506.7L518.1 507.5z"/>
<path class="e" d="M518.1 507.5L522.2 503.2"/>
<path class="rs" d="M522.2 493.2L527.5 494.1L523.4 495.3L518.1 494.4z"/>
<path class="e" d="M518.1 494.4L522.2 493.2"/>
<path class="gs" d="M522.2 437.2L527.5 435.1L523.4 436.3L518.1 438.4z"/>
<path class="e" d="M518.1 438.4L522.2 437.2"/>
<path class="ys" d="M518.1 507.5L523.4 506.7L519.2 511.0L514.0 511.8z"/>
<path class="e" d="M519.2 511.0L514.0 511.8M514.0 511.8L518.1 507.5"/>
<path class="rs" d="M518.1 494.4L523.4 495.3L519.2 496.5L514.0 495.6z"/>
<path class="e" d="M519.2 496.5L514.0 495.6M514.0 495.6L518.1 494.4"/>
<path class="gs" d="M518.1 438.4L523.4 436.3L519.2 437.5L514.0 439.6z"/>
<path class="e" d="M519.2 437.5L514.0 439.6M514.0 439.6L518.1 438.4"/>
<path class="ys" d="M535.7 493.6L541.0 492.7L536.9 497.1L531.6 498.0z"/>
<path class="e" d="M535.7 493.6L541.0 492.7"/>
<path class="rs" d="M535.7 491.7L541.0 492.6L536.9 493.8L531.6 492.9z"/>
<path class="e" d="M535.7 491.7L541.0 492.6"/>
<path class="gs" d="M535.7 432.7L541.0 430.6L536.9 431.8L531.6 433.9z"/>
<path class="e" d="M535.7 432.7L541.0 430.6"/>
<path class="ys" d="M531.6 498.0L536.9 497.1L532.8 501.5L527.5 502.3z"/>
<path class="rs" d="M531.6 492.9L536.9 493.8L532.8 495.1L527.5 494.1z"/>
<path class="gs" d="M531.6 433.9L536.9 431.8L532.8 433.0L527.5 435.1z"/>
<path class="ys" d="M527.5 502.3L532.8 501.5L528.6 505.9L523.4 506.7z"/>
<path class="rs" d="M527.5 494.1L532.8 495.1L528.6 496.3L523.4 495.3z"/>
<path class="gs" d="M527.5 435.1L532.8 433.0L528.6 434.2L523.4 436.3z"/>
<path class="ys" d="M523.4 506.7L528.6 505.9L524.5 510.3L519.2 511.0z"/>
<path class="e" d="M524.5 510.3L519.2 511.0"/>
<path class="rs" d="M523.4 495.3L528.6 496.3L524.5 497.5L519.2 496.5z"/>
<path class="e" d="M524.5 497.5L519.2 496.5"/>
<path class="gs" d="M523.4 436.3L528.6 434.2L524.5 435.4L519.2 437.5z"/>
<path class="e" d="M524.5 435.4L519.2 437.5"/>
<path class="ys" d="M541.0 492.7L546.3 491.8L542.1 496.3L536.9 497.1z"/>
<path class="e" d="M541.0 492.7L546.3 491.8"/>
<path class="rs" d="M541.0 492.6L546.3 493.6L542.1 494.8L536.9 493.8z"/>
<path class="e" d="M541.0 492.6L546.3 493.6"/>
<path class="gs" d="M541.0 430.6L546.3 428.5L542.1 429.7L536.9 431.8z"/>
<path class="e" d="M541.0 430.6L546.3 428.5"/>
<path class="ys" d="M536.9 497.1L542.1 496.3L538.0 500.7L532.8 501.5z"/>
<path class="rs" d="M536.9 493.8L542.1 494.8L538.0 496.0L532.8 495.1z"/>
<path class="gs" d="M536.9 431.8L542.1 429.7L538.0 430.9L532.8 433.0z"/>
<path class="ys" d="M532.8 501.5L538.0 500.7L533.9 505.2L528.6 505.9z"/>
<path class="rs" d="M532.8 495.1L538.0 496.0L533.9 497.2L528.6 496.3z"/>
<path class="gs" d="M532.8 433.0L538.0 430.9L533.9 432.1L528.6 434.2z"/>
<path class="ys" d="M528.6 505.9L533.9 505.2L529.8 509.6L524.5 510.3z"/>
<path class="e" d="M529.8 509.6L524.5 510.3"/>
<path class="rs" d="M528.6 496.3L533.9 497.2L529.8 498.4L524.5 497.5z"/>
<path class="e" d="M529.8 498.4L524.5 497.5"/>
<path class="gs" d="M528.6 434.2L533.9 432.1L529.8 433.4L524.5 435.4z"/>
<path class="e" d="M529.8 433.4L524.5 435.4"/>
<path class="rs" d="M546.3 493.6L551.5 494.5L547.4 495.7L542.1 494.8z"/>
<path class="e" d="M546.3 493.6L551.5 494.5M551.5 494.5L547.4 495.7"/>
<path class="ys" d="M546.3 491.8L551.5 490.9L547.4 495.4L542.1 496.3z"/>
<path class="e" d="M546.3 491.8L551.5 490.9M551.5 490.9L547.4 495.4"/>
<path class="gs" d="M546.3 428.5L551.5 426.4L547.4 427.6L542.1 429.7z"/>
<path class="e" d="M546.3 428.5L551.5 426.4M551.5 426.4L547.4 427.6"/>
<path class="ys" d="M542.1 496.3L547.4 495.4L543.3 499.9L538.0 500.7z"/>
<path class="e" d="M547.4 495.4L543.3 499.9"/>
<path class="rs" d="M542.1 494.8L547.4 495.7L543.3 497.0L538.0 496.0z"/>
<path class="e" d="M547.4 495.7L543.3 497.0"/>
<path class="gs" d="M542.1 429.7L547.4 427.6L543.3 428.8L538.0 430.9z"/>
<path class="e" d="M547.4 427.6L543.3 428.8"/>
<path class="ys" d="M538.0 500.7L543.3 499.9L539.2 504.4L533.9 505.2z"/>
<path class="e" d="M543.3 499.9L539.2 504.4"/>
<path class="rs" d="M538.0 496.0L543.3 497.0L539.2 498.2L533.9 497.2z"/>
<path class="e" d="M543.3 497.0L539.2 498.2"/>
<path class="gs" d="M538.0 430.9L543.3 428.8L539.2 430.0L533.9 432.1z"/>
<path class="e" d="M543.3 428.8L539.2 430.0"/>
<path class="ys" d="M533.9 505.2L539.2 504.4L535.0 508.9L529.8 509.6z"/>
<path class="e" d="M539.2 504.4L535.0 508.9M535.0 508.9L529.8 509.6"/>
<path class="rs" d="M533.9 497.2L539.2 498.2L535.0 499.4L529.8 498.4z"/>
<path class="e" d="M539.2 498.2L535.0 499.4M535.0 499.4L529.8 498.4"/>
<path class="gs" d="M533.9 432.1L539.2 430.0L535.0 431.3L529.8 433.4z"/>
<path class="e" d="M539.2 430.0L535.0 431.3M535.0 431.3L529.8 433.4"/>
<path class="y" d="M514.0 511.8L535.0 508.9L518.6 524.6L497.5 526.8z"/>
<path class="r" d="M514.0 495.6L535.0 499.4L518.6 504.3L497.5 500.5z"/>
<path class="g" d="M514.0 439.6L535.0 431.3L518.6 436.1L497.5 444.5z"/>
<path class="y" d="M497.5 526.8L518.6 524.6L502.1 538.5L481.0 540.2z"/>
<path class="r" d="M497.5 500.5L518.6 504.3L502.1 509.1L481.0 505.3z"/>
<path class="g" d="M497.5 444.5L518.6 436.1L502.1 441.0L481.0 449.4z"/>
<path class="y" d="M481.0 540.2L502.1 538.5L485.6 551.1L464.5 552.4z"/>
<path class="r" d="M481.0 505.3L502.1 509.1L485.6 514.0L464.5 510.2z"/>
<path class="g" d="M481.0 449.4L502.1 441.0L485.6 445.9L464.5 454.2z"/>
<path class="y" d="M464.5 552.4L485.6 551.1L469.1 562.6L448.0 563.5z"/>
<path class="r" d="M464.5 510.2L485.6 514.0L469.1 518.8L448.0 515.1z"/>
<path class="g" d="M464.5 454.2L485.6 445.9L469.1 450.7L448.0 459.1z"/>
<path class="y" d="M448.0 563.5L469.1 562.6L452.6 573.2L431.5 573.8z"/>
<path class="r" d="M448.0 515.1L469.1 518.8L452.6 523.7L431.5 519.9z"/>
<path class="g" d="M448.0 459.1L469.1 450.7L452.6 455.6L431.5 464.0z"/>
<path class="y" d="M431.5 573.8L452.6 573.2L436.1 583.1L415.0 583.5z"/>
<path class="r" d="M431.5 519.9L452.6 523.7L436.1 528.6L415.0 524.8z"/>
<path class="g" d="M431.5 464.0L452.6 455.6L436.1 460.4L415.0 468.8z"/>
<path class="y" d="M415.0 583.5L436.1 583.1L419.6 592.5L398.5 592.6z"/>
<path class="r" d="M415.0 524.8L436.1 528.6L419.6 533.4L398.5 529.7z"/>
<path class="g" d="M415.0 468.8L436.1 460.4L419.6 465.3L398.5 473.7z"/>
<path class="y" d="M398.5 592.6L419.6 592.5L403.1 601.3L382.0 601.3z"/>
<path class="r" d="M398.5 529.7L419.6 533.4L403.1 538.3L382.0 534.5z"/>
<path class="g" d="M398.5 473.7L419.6 465.3L403.1 470.2L382.0 478.6z"/>
<path class="y" d="M382.0 601.3L403.1 601.3L386.6 609.7L365.5 609.6z"/>
<path class="r" d="M382.0 534.5L403.1 538.3L386.6 543.2L365.5 539.4z"/>
<path class="g" d="M382.0 478.6L403.1 470.2L386.6 475.0L365.5 483.4z"/>
<path class="y" d="M365.5 609.6L386.6 609.7L370.1 617.8L349.0 617.5z"/>
<path class="r" d="M365.5 539.4L386.6 543.2L370.1 548.0L349.0 544.3z"/>
<path class="g" d="M365.5 483.4L386.6 475.0L370.1 479.9L349.0 488.3z"/>
<path class="y" d="M349.0 617.5L370.1 617.8L353.6 625.6L332.5 625.1z"/>
<path class="r" d="M349.0 544.3L370.1 548.0L353.6 552.9L332.5 549.1z"/>
<path class="g" d="M349.0 488.3L370.1 479.9L353.6 484.8L332.5 493.2z"/>
<path class="y" d="M332.5 625.1L353.6 625.6L337.1 633.1L316.0 632.5z"/>
<path class="r" d="M332.5 549.1L353.6 552.9L337.1 557.8L316.0 554.0z"/>
<path class="g" d="M332.5 493.2L353.6 484.8L337.1 489.6L316.0 498.0z"/>
<path class="y" d="M316.0 632.5L337.1 633.1L320.6 640.4L299.5 639.7z"/>
<path class="r" d="M316.0 554.0L337.1 557.8L320.6 562.6L299.5 558.8z"/>
<path class="g" d="M316.0 498.0L337.1 489.6L320.6 494.5L299.5 502.9z"/>
<path class="y" d="M299.5 639.7L320.6 640.4L304.1 647.5L283.0 646.7z"/>
<path class="r" d="M299.5 558.8L320.6 562.6L304.1 567.5L283.0 563.7z"/>
<path class="g" d="M299.5 502.9L320.6 494.5L304.1 499.4L283.0 507.7z"/>
<path class="y" d="M283.0 646.7L304.1 647.5L287.6 654.4L266.5 653.6z"/>
<path class="r" d="M283.0 563.7L304.1 567.5L287.6 572.4L266.5 568.6z"/>
<path class="g" d="M283.0 507.7L304.1 499.4L287.6 504.2L266.5 512.6z"/>
<path class="y" d="M266.5 653.6L287.6 654.4L271.1 661.2L250.0 660.2z"/>
<path class="r" d="M266.5 568.6L287.6 572.4L271.1 577.2L250.0 573.4z"/>
<path class="g" d="M266.5 512.6L287.6 504.2L271.1 509.1L250.0 517.5z"/>
<path class="r" d="M601.0 479.9L622.1 483.7L605.6 488.6L584.5 484.8z"/>
<path class="y" d="M601.0 411.8L622.1 402.3L605.6 437.0L584.5 444.1z"/>
<path class="g" d="M601.0 411.8L622.1 402.3L605.6 407.2L584.5 416.7z"/>
<path class="r" d="M584.5 484.8L605.6 488.6L589.1 493.4L568.0 489.7z"/>
<path class="y" d="M584.5 444.1L605.6 437.0L589.1 464.3L568.0 469.7z"/>
<path class="g" d="M584.5 416.7L605.6 407.2L589.1 412.0L568.0 421.5z"/>
<path class="r" d="M568.0 489.7L589.1 493.4L572.6 498.3L551.5 494.5z"/>
<path class="y" d="M568.0 469.7L589.1 464.3L572.6 486.7L551.5 490.9z"/>
<path class="g" d="M568.0 421.5L589.1 412.0L572.6 416.9L551.5 426.4z"/>
<path class="rs" d="M551.5 494.5L556.8 495.5L552.7 496.7L547.4 495.7z"/>
<path class="e" d="M551.5 494.5L556.8 495.5M547.4 495.7L551.5 494.5"/>
<path class="ys" d="M551.5 490.9L556.8 489.8L552.7 494.4L547.4 495.4z"/>
<path class="e" d="M551.5 490.9L556.8 489.8M547.4 495.4L551.5 490.9"/>
<path class="gs" d="M551.5 426.4L556.8 424.0L552.7 425.2L547.4 427.6z"/>
<path class="e" d="M551.5 426.4L556.8 424.0M547.4 427.6L551.5 426.4"/>
<path class="ys" d="M547.4 495.4L552.7 494.4L548.6 499.0L543.3 499.9z"/>
<path class="e" d="M543.3 499.9L547.4 495.4"/>
<path class="rs" d="M547.4 495.7L552.7 496.7L548.6 497.9L543.3 497.0z"/>
<path class="e" d="M543.3 497.0L547.4 495.7"/>
<path class="gs" d="M547.4 427.6L552.7 425.2L548.6 426.5L543.3 428.8z"/>
<path class="e" d="M543.3 428.8L547.4 427.6"/>
<path class="ys" d="M543.3 499.9L548.6 499.0L544.4 503.5L539.2 504.4z"/>
<path class="e" d="M539.2 504.4L543.3 499.9"/>
<path class="rs" d="M543.3 497.0L548.6 497.9L544.4 499.1L539.2 498.2z"/>
<path class="e" d="M539.2 498.2L543.3 497.0"/>
<path class="gs" d="M543.3 428.8L548.6 426.5L544.4 427.7L539.2 430.0z"/>
<path class="e" d="M539.2 430.0L543.3 428.8"/>
<path class="ys" d="M539.2 504.4L544.4 503.5L540.3 508.1L535.0 508.9z"/>
<path class="e" d="M540.3 508.1L535.0 508.9M535.0 508.9L539.2 504.4"/>
<path class="rs" d="M539.2 498.2L544.4 499.1L540.3 500.3L535.0 499.4z"/>
<path class="e" d="M540.3 500.3L535.0 499.4M535.0 499.4L539.2 498.2"/>
<path class="gs" d="M539.2 430.0L544.4 427.7L540.3 428.9L535.0 431.3z"/>
<path class="e" d="M540.3 428.9L535.0 431.3M535.0 431.3L539.2 430.0"/>
<path class="rs" d="M556.8 495.5L562.1 496.4L558.0 497.6L552.7 496.7z"/>
<path class="e" d="M556.8 495.5L562.1 496.4"/>
<path class="ys" d="M556.8 489.8L562.1 488.8L558.0 493.4L552.7 494.4z"/>
<path class="e" d="M556.8 489.8L562.1 488.8"/>
<path class="gs" d="M556.8 424.0L562.1 421.7L558.0 422.9L552.7 425.2z"/>
<path class="e" d="M556.8 424.0L562.1 421.7"/>
<path class="rs" d="M552.7 496.7L558.0 497.6L553.8 498.8L548.6 497.9z"/>
<path class="ys" d="M552.7 494.4L558.0 493.4L553.8 498.0L548.6 499.0z"/>
<path class="gs" d="M552.7 425.2L558.0 422.9L553.8 424.1L548.6 426.5z"/>
<path class="ys" d="M548.6 499.0L553.8 498.0L549.7 502.7L544.4 503.5z"/>
<path class="rs" d="M548.6 497.9L553.8 498.8L549.7 500.1L544.4 499.1z"/>
<path class="gs" d="M548.6 426.5L553.8 424.1L549.7 425.3L544.4 427.7z"/>
<path class="ys" d="M544.4 503.5L549.7 502.7L545.6 507.3L540.3 508.1z"/>
<path class="e" d="M545.6 507.3L540.3 508.1"/>
<path class="rs" d="M544.4 499.1L549.7 500.1L545.6 501.3L540.3 500.3z"/>
<path class="e" d="M545.6 501.3L540.3 500.3"/>
<path class="gs" d="M544.4 427.7L549.7 425.3L545.6 426.5L540.3 428.9z"/>
<path class="e" d="M545.6 426.5L540.3 428.9"/>
<path class="rs" d="M562.1 496.4L567.4 497.4L563.2 498.6L558.0 497.6z"/>
<path class="e" d="M562.1 496.4L567.4 497.4"/>
<path class="ys" d="M562.1 488.8L567.4 487.8L563.2 492.4L558.0 493.4z"/>
<path class="e" d="M562.1 488.8L567.4 487.8"/>
<path class="gs" d="M562.1 421.7L567.4 419.3L563.2 420.5L558.0 422.9z"/>
<path class="e" d="M562.1 421.7L567.4 419.3"/>
<path class="rs" d="M558.0 497.6L563.2 498.6L559.1 499.8L553.8 498.8z"/>
<path class="ys" d="M558.0 493.4L563.2 492.4L559.1 497.1L553.8 498.0z"/>
<path class="gs" d="M558.0 422.9L563.2 420.5L559.1 421.7L553.8 424.1z"/>
<path class="rs" d="M553.8 498.8L559.1 499.8L555.0 501.0L549.7 500.1z"/>
<path class="ys" d="M553.8 498.0L559.1 497.1L555.0 501.8L549.7 502.7z"/>
<path class="gs" d="M553.8 424.1L559.1 421.7L555.0 422.9L549.7 425.3z"/>
<path class="ys" d="M549.7 502.7L555.0 501.8L550.9 506.5L545.6 507.3z"/>
<path class="e" d="M550.9 506.5L545.6 507.3"/>
<path class="rs" d="M549.7 500.1L555.0 501.0L550.9 502.2L545.6 501.3z"/>
<path class="e" d="M550.9 502.2L545.6 501.3"/>
<path class="gs" d="M549.7 425.3L555.0 422.9L550.9 424.1L545.6 426.5z"/>
<path class="e" d="M550.9 424.1L545.6 426.5"/>
<path class="rs" d="M567.4 497.4L572.6 498.3L568.5 499.5L563.2 498.6z"/>
<path class="e" d="M567.4 497.4L572.6 498.3M572.6 498.3L568.5 499.5"/>
<path class="ys" d="M567.4 487.8L572.6 486.7L568.5 491.4L563.2 492.4z"/>
<path class="e" d="M567.4 487.8L572.6 486.7M572.6 486.7L568.5 491.4"/>
<path class="gs" d="M567.4 419.3L572.6 416.9L568.5 418.1L563.2 420.5z"/>
<path class="e" d="M567.4 419.3L572.6 416.9M572.6 416.9L568.5 418.1"/>
<path class="rs" d="M563.2 498.6L568.5 499.5L564.4 500.7L559.1 499.8z"/>
<path class="e" d="M568.5 499.5L564.4 500.7"/>
<path class="ys" d="M563.2 492.4L568.5 491.4L564.4 496.2L559.1 497.1z"/>
<path class="e" d="M568.5 491.4L564.4 496.2"/>
<path class="gs" d="M563.2 420.5L568.5 418.1L564.4 419.3L559.1 421.7z"/>
<path class="e" d="M568.5 418.1L564.4 419.3"/>
<path class="rs" d="M559.1 499.8L564.4 500.7L560.3 502.0L555.0 501.0z"/>
<path class="e" d="M564.4 500.7L560.3 502.0"/>
<path class="ys" d="M559.1 497.1L564.4 496.2L560.3 500.9L555.0 501.8z"/>
<path class="e" d="M564.4 496.2L560.3 500.9"/>
<path class="gs" d="M559.1 421.7L564.4 419.3L560.3 420.6L555.0 422.9z"/>
<path class="e" d="M564.4 419.3L560.3 420.6"/>
<path class="ys" d="M555.0 501.8L560.3 500.9L556.1 505.6L550.9 506.5z"/>
<path class="e" d="M560.3 500.9L556.1 505.6M556.1 505.6L550.9 506.5"/>
<path class="rs" d="M555.0 501.0L560.3 502.0L556.1 503.2L550.9 502.2z"/>
<path class="e" d="M560.3 502.0L556.1 503.2M556.1 503.2L550.9 502.2"/>
<path class="gs" d="M555.0 422.9L560.3 420.6L556.1 421.8L550.9 424.1z"/>
<path class="e" d="M560.3 420.6L556.1 421.8M556.1 421.8L550.9 424.1"/>
<path class="y" d="M535.0 508.9L556.1 505.6L539.6 522.0L518.6 524.6z"/>
<path class="r" d="M535.0 499.4L556.1 503.2L539.6 508.0L518.6 504.3z"/>
<path class="g" d="M535.0 431.3L556.1 421.8L539.6 426.6L518.6 436.1z"/>
<path class="y" d="M518.6 524.6L539.6 522.0L523.1 536.5L502.1 538.5z"/>
<path class="r" d="M518.6 504.3L539.6 508.0L523.1 512.9L502.1 509.1z"/>
<path class="g" d="M518.6 436.1L539.6 426.6L523.1 431.5L502.1 441.0z"/>
<path class="y" d="M502.1 538.5L523.1 536.5L506.7 549.5L485.6 551.1z"/>
<path class="r" d="M502.1 509.1L523.1 512.9L506.7 517.8L485.6 514.0z"/>
<path class="g" d="M502.1 441.0L523.1 431.5L506.7 436.4L485.6 445.9z"/>
<path class="y" d="M485.6 551.1L506.7 549.5L490.2 561.4L469.1 562.6z"/>
<path class="r" d="M485.6 514.0L506.7 517.8L490.2 522.6L469.1 518.8z"/>
<path class="g" d="M485.6 445.9L506.7 436.4L490.2 441.2L469.1 450.7z"/>
<path class="y" d="M469.1 562.6L490.2 561.4L473.7 572.3L452.6 573.2z"/>
<path class="r" d="M469.1 518.8L490.2 522.6L473.7 527.5L452.6 523.7z"/>
<path class="g" d="M469.1 450.7L490.2 441.2L473.7 446.1L452.6 455.6z"/>
<path class="y" d="M452.6 573.2L473.7 572.3L457.2 582.5L436.1 583.1z"/>
<path class="r" d="M452.6 523.7L473.7 527.5L457.2 532.4L436.1 528.6z"/>
<path class="g" d="M452.6 455.6L473.7 446.1L457.2 451.0L436.1 460.4z"/>
<path class="y" d="M436.1 583.1L457.2 582.5L440.7 592.1L419.6 592.5z"/>
<path class="r" d="M436.1 528.6L457.2 532.4L440.7 537.2L419.6 533.4z"/>
<path class="g" d="M436.1 460.4L457.2 451.0L440.7 455.8L419.6 465.3z"/>
<path class="y" d="M419.6 592.5L440.7 592.1L424.2 601.1L403.1 601.3z"/>
<path class="r" d="M419.6 533.4L440.7 537.2L424.2 542.1L403.1 538.3z"/>
<path class="g" d="M419.6 465.3L440.7 455.8L424.2 460.7L403.1 470.2z"/>
<path class="y" d="M403.1 601.3L424.2 601.1L407.7 609.8L386.6 609.7z"/>
<path class="r" d="M403.1 538.3L424.2 542.1L407.7 547.0L386.6 543.2z"/>
<path class="g" d="M403.1 470.2L424.2 460.7L407.7 465.6L386.6 475.0z"/>
<path class="y" d="M386.6 609.7L407.7 609.8L391.2 618.0L370.1 617.8z"/>
<path class="r" d="M386.6 543.2L407.7 547.0L391.2 551.8L370.1 548.0z"/>
<path class="g" d="M386.6 475.0L407.7 465.6L391.2 470.4L370.1 479.9z"/>
<path class="y" d="M370.1 617.8L391.2 618.0L374.7 625.9L353.6 625.6z"/>
<path class="r" d="M370.1 548.0L391.2 551.8L374.7 556.7L353.6 552.9z"/>
<path class="g" d="M370.1 479.9L391.2 470.4L374.7 475.3L353.6 484.8z"/>
<path class="y" d="M353.6 625.6L374.7 625.9L358.2 633.5L337.1 633.1z"/>
<path class="r" d="M353.6 552.9L374.7 556.7L358.2 561.6L337.1 557.8z"/>
<path class="g" d="M353.6 484.8L374.7 475.3L358.2 480.2L337.1 489.6z"/>
<path class="y" d="M337.1 633.1L358.2 633.5L341.7 640.9L320.6 640.4z"/>
<path class="r" d="M337.1 557.8L358.2 561.6L341.7 566.4L320.6 562.6z"/>
<path class="g" d="M337.1 489.6L358.2 480.2L341.7 485.0L320.6 494.5z"/>
<path class="y" d="M320.6 640.4L341.7 640.9L325.2 648.1L304.1 647.5z"/>
<path class="r" d="M320.6 562.6L341.7 566.4L325.2 571.3L304.1 567.5z"/>
<path class="g" d="M320.6 494.5L341.7 485.0L325.2 489.9L304.1 499.4z"/>
<path class="y" d="M304.1 647.5L325.2 648.1L308.7 655.1L287.6 654.4z"/>
<path class="r" d="M304.1 567.5L325.2 571.3L308.7 576.1L287.6 572.4z"/>
<path class="g" d="M304.1 499.4L325.2 489.9L308.7 494.7L287.6 504.2z"/>
<path class="y" d="M287.6 654.4L308.7 655.1L292.2 662.0L271.1 661.2z"/>
<path class="r" d="M287.6 572.4L308.7 576.1L292.2 581.0L271.1 577.2z"/>
<path class="g" d="M287.6 504.2L308.7 494.7L292.2 499.6L271.1 509.1z"/>
<path class="r" d="M622.1 483.7L643.2 487.5L626.7 492.4L605.6 488.6z"/>
<path class="y" d="M622.1 402.3L643.2 391.6L626.7 429.0L605.6 437.0z"/>
<path class="g" d="M622.1 402.3L643.2 391.6L626.7 396.4L605.6 407.2z"/>
<path class="r" d="M605.6 488.6L626.7 492.4L610.2 497.2L589.1 493.4z"/>
<path class="y" d="M605.6 437.0L626.7 429.0L610.2 458.2L589.1 464.3z"/>
<path class="g" d="M605.6 407.2L626.7 396.4L610.2 401.3L589.1 412.0z"/>
<path class="r" d="M589.1 493.4L610.2 497.2L593.7 502.1L572.6 498.3z"/>
<path class="y" d="M589.1 464.3L610.2 458.2L593.7 481.9L572.6 486.7z"/>
<path class="g" d="M589.1 412.0L610.2 401.3L593.7 406.2L572.6 416.9z"/>
<path class="rs" d="M572.6 498.3L577.9 499.3L573.8 500.5L568.5 499.5z"/>
<path class="e" d="M572.6 498.3L577.9 499.3M568.5 499.5L572.6 498.3"/>
<path class="ys" d="M572.6 486.7L577.9 485.5L573.8 490.3L568.5 491.4z"/>
<path class="e" d="M572.6 486.7L577.9 485.5M568.5 491.4L572.6 486.7"/>
<path class="gs" d="M572.6 416.9L577.9 414.2L573.8 415.4L568.5 418.1z"/>
<path class="e" d="M572.6 416.9L577.9 414.2M568.5 418.1L572.6 416.9"/>
<path class="rs" d="M568.5 499.5L573.8 500.5L569.7 501.7L564.4 500.7z"/>
<path class="e" d="M564.4 500.7L568.5 499.5"/>
<path class="ys" d="M568.5 491.4L573.8 490.3L569.7 495.1L564.4 496.2z"/>
<path class="e" d="M564.4 496.2L568.5 491.4"/>
<path class="gs" d="M568.5 418.1L573.8 415.4L569.7 416.7L564.4 419.3z"/>
<path class="e" d="M564.4 419.3L568.5 418.1"/>
<path class="rs" d="M564.4 500.7L569.7 501.7L565.5 502.9L560.3 502.0z"/>
<path class="e" d="M560.3 502.0L564.4 500.7"/>
<path class="ys" d="M564.4 496.2L569.7 495.1L565.5 499.9L560.3 500.9z"/>
<path class="e" d="M560.3 500.9L564.4 496.2"/>
<path class="gs" d="M564.4 419.3L569.7 416.7L565.5 417.9L560.3 420.6z"/>
<path class="e" d="M560.3 420.6L564.4 419.3"/>
<path class="rs" d="M560.3 502.0L565.5 502.9L561.4 504.1L556.1 503.2z"/>
<path class="e" d="M561.4 504.1L556.1 503.2M556.1 503.2L560.3 502.0"/>
<path class="ys" d="M560.3 500.9L565.5 499.9L561.4 504.7L556.1 505.6z"/>
<path class="e" d="M561.4 504.7L556.1 505.6M556.1 505.6L560.3 500.9"/>
<path class="gs" d="M560.3 420.6L565.5 417.9L561.4 419.1L556.1 421.8z"/>
<path class="e" d="M561.4 419.1L556.1 421.8M556.1 421.8L560.3 420.6"/>
<path class="rs" d="M577.9 499.3L583.2 500.2L579.1 501.4L573.8 500.5z"/>
<path class="e" d="M577.9 499.3L583.2 500.2"/>
<path class="ys" d="M577.9 485.5L583.2 484.3L579.1 489.2L573.8 490.3z"/>
<path class="e" d="M577.9 485.5L583.2 484.3"/>
<path class="gs" d="M577.9 414.2L583.2 411.5L579.1 412.7L573.8 415.4z"/>
<path class="e" d="M577.9 414.2L583.2 411.5"/>
<path class="rs" d="M573.8 500.5L579.1 501.4L574.9 502.6L569.7 501.7z"/>
<path class="ys" d="M573.8 490.3L579.1 489.2L574.9 494.0L569.7 495.1z"/>
<path class="gs" d="M573.8 415.4L579.1 412.7L574.9 414.0L569.7 416.7z"/>
<path class="rs" d="M569.7 501.7L574.9 502.6L570.8 503.8L565.5 502.9z"/>
<path class="ys" d="M569.7 495.1L574.9 494.0L570.8 498.9L565.5 499.9z"/>
<path class="gs" d="M569.7 416.7L574.9 414.0L570.8 415.2L565.5 417.9z"/>
<path class="rs" d="M565.5 502.9L570.8 503.8L566.7 505.1L561.4 504.1z"/>
<path class="e" d="M566.7 505.1L561.4 504.1"/>
<path class="ys" d="M565.5 499.9L570.8 498.9L566.7 503.8L561.4 504.7z"/>
<path class="e" d="M566.7 503.8L561.4 504.7"/>
<path class="gs" d="M565.5 417.9L570.8 415.2L566.7 416.4L561.4 419.1z"/>
<path class="e" d="M566.7 416.4L561.4 419.1"/>
<path class="rs" d="M583.2 500.2L588.5 501.1L584.3 502.4L579.1 501.4z"/>
<path class="e" d="M583.2 500.2L588.5 501.1"/>
<path class="ys" d="M583.2 484.3L588.5 483.1L584.3 488.0L579.1 489.2z"/>
<path class="e" d="M583.2 484.3L588.5 483.1"/>
<path class="gs" d="M583.2 411.5L588.5 408.8L584.3 410.1L579.1 412.7z"/>
<path class="e" d="M583.2 411.5L588.5 408.8"/>
<path class="rs" d="M579.1 501.4L584.3 502.4L580.2 503.6L574.9 502.6z"/>
<path class="ys" d="M579.1 489.2L584.3 488.0L580.2 493.0L574.9 494.0z"/>
<path class="gs" d="M579.1 412.7L584.3 410.1L580.2 411.3L574.9 414.0z"/>
<path class="rs" d="M574.9 502.6L580.2 503.6L576.1 504.8L570.8 503.8z"/>
<path class="ys" d="M574.9 494.0L580.2 493.0L576.1 497.9L570.8 498.9z"/>
<path class="gs" d="M574.9 414.0L580.2 411.3L576.1 412.5L570.8 415.2z"/>
<path class="rs" d="M570.8 503.8L576.1 504.8L572.0 506.0L566.7 505.1z"/>
<path class="e" d="M572.0 506.0L566.7 505.1"/>
<path class="ys" d="M570.8 498.9L576.1 497.9L572.0 502.8L566.7 503.8z"/>
<path class="e" d="M572.0 502.8L566.7 503.8"/>
<path class="gs" d="M570.8 415.2L576.1 412.5L572.0 413.7L566.7 416.4z"/>
<path class="e" d="M572.0 413.7L566.7 416.4"/>
<path class="rs" d="M588.5 501.1L593.7 502.1L589.6 503.3L584.3 502.4z"/>
<path class="e" d="M588.5 501.1L593.7 502.1M593.7 502.1L589.6 503.3"/>
<path class="ys" d="M588.5 483.1L593.7 481.9L589.6 486.9L584.3 488.0z"/>
<path class="e" d="M588.5 483.1L593.7 481.9M593.7 481.9L589.6 486.9"/>
<path class="gs" d="M588.5 408.8L593.7 406.2L589.6 407.4L584.3 410.1z"/>
<path class="e" d="M588.5 408.8L593.7 406.2M593.7 406.2L589.6 407.4"/>
<path class="rs" d="M584.3 502.4L589.6 503.3L585.5 504.5L580.2 503.6z"/>
<path class="e" d="M589.6 503.3L585.5 504.5"/>
<path class="ys" d="M584.3 488.0L589.6 486.9L585.5 491.9L580.2 493.0z"/>
<path class="e" d="M589.6 486.9L585.5 491.9"/>
<path class="gs" d="M584.3 410.1L589.6 407.4L585.5 408.6L580.2 411.3z"/>
<path class="e" d="M589.6 407.4L585.5 408.6"/>
<path class="rs" d="M580.2 503.6L585.5 504.5L581.4 505.7L576.1 504.8z"/>
<path class="e" d="M585.5 504.5L581.4 505.7"/>
<path class="ys" d="M580.2 493.0L585.5 491.9L581.4 496.9L576.1 497.9z"/>
<path class="e" d="M585.5 491.9L581.4 496.9"/>
<path class="gs" d="M580.2 411.3L585.5 408.6L581.4 409.8L576.1 412.5z"/>
<path class="e" d="M585.5 408.6L581.4 409.8"/>
<path class="rs" d="M576.1 504.8L581.4 505.7L577.2 507.0L572.0 506.0z"/>
<path class="e" d="M581.4 505.7L577.2 507.0M577.2 507.0L572.0 506.0"/>
<path class="ys" d="M576.1 497.9L581.4 496.9L577.2 501.9L572.0 502.8z"/>
<path class="e" d="M581.4 496.9L577.2 501.9M577.2 501.9L572.0 502.8"/>
<path class="gs" d="M576.1 412.5L581.4 409.8L577.2 411.0L572.0 413.7z"/>
<path class="e" d="M581.4 409.8L577.2 411.0M577.2 411.0L572.0 413.7"/>
<path class="ys" d="M556.1 505.6L561.4 504.7L557.3 508.8L552.0 509.7z"/>
<path class="e" d="M556.1 505.6L561.4 504.7M552.0 509.7L556.1 505.6"/>
<path class="rs" d="M556.1 503.2L561.4 504.1L557.3 505.3L552.0 504.4z"/>
<path class="e" d="M556.1 503.2L561.4 504.1M552.0 504.4L556.1 503.2"/>
<path class="gs" d="M556.1 421.8L561.4 419.1L557.3 420.3L552.0 423.0z"/>
<path class="e" d="M556.1 421.8L561.4 419.1M552.0 423.0L556.1 421.8"/>
<path class="ys" d="M552.0 509.7L557.3 508.8L553.2 513.0L547.9 513.8z"/>
<path class="e" d="M547.9 513.8L552.0 509.7"/>
<path class="rs" d="M552.0 504.4L557.3 505.3L553.2 506.6L547.9 505.6z"/>
<path class="e" d="M547.9 505.6L552.0 504.4"/>
<path class="gs" d="M552.0 423.0L557.3 420.3L553.2 421.5L547.9 424.2z"/>
<path class="e" d="M547.9 424.2L552.0 423.0"/>
<path class="ys" d="M547.9 513.8L553.2 513.0L549.0 517.1L543.8 517.9z"/>
<path class="e" d="M543.8 517.9L547.9 513.8"/>
<path class="rs" d="M547.9 505.6L553.2 506.6L549.0 507.8L543.8 506.8z"/>
<path class="e" d="M543.8 506.8L547.9 505.6"/>
<path class="gs" d="M547.9 424.2L553.2 421.5L549.0 422.7L543.8 425.4z"/>
<path class="e" d="M543.8 425.4L547.9 424.2"/>
<path class="ys" d="M543.8 517.9L549.0 517.1L544.9 521.3L539.6 522.0z"/>
<path class="e" d="M544.9 521.3L539.6 522.0M539.6 522.0L543.8 517.9"/>
<path class="rs" d="M543.8 506.8L549.0 507.8L544.9 509.0L539.6 508.0z"/>
<path class="e" d="M544.9 509.0L539.6 508.0M539.6 508.0L543.8 506.8"/>
<path class="gs" d="M543.8 425.4L549.0 422.7L544.9 423.9L539.6 426.6z"/>
<path class="e" d="M544.9 423.9L539.6 426.6M539.6 426.6L543.8 425.4"/>
<path class="ys" d="M561.4 504.7L566.7 503.8L562.6 507.9L557.3 508.8z"/>
<path class="e" d="M561.4 504.7L566.7 503.8"/>
<path class="rs" d="M561.4 504.1L566.7 505.1L562.6 506.3L557.3 505.3z"/>
<path class="e" d="M561.4 504.1L566.7 505.1"/>
<path class="gs" d="M561.4 419.1L566.7 416.4L562.6 417.6L557.3 420.3z"/>
<path class="e" d="M561.4 419.1L566.7 416.4"/>
<path class="ys" d="M557.3 508.8L562.6 507.9L558.4 512.1L553.2 513.0z"/>
<path class="rs" d="M557.3 505.3L562.6 506.3L558.4 507.5L553.2 506.6z"/>
<path class="gs" d="M557.3 420.3L562.6 417.6L558.4 418.8L553.2 421.5z"/>
<path class="ys" d="M553.2 513.0L558.4 512.1L554.3 516.3L549.0 517.1z"/>
<path class="rs" d="M553.2 506.6L558.4 507.5L554.3 508.7L549.0 507.8z"/>
<path class="gs" d="M553.2 421.5L558.4 418.8L554.3 420.0L549.0 422.7z"/>
<path class="ys" d="M549.0 517.1L554.3 516.3L550.2 520.5L544.9 521.3z"/>
<path class="e" d="M550.2 520.5L544.9 521.3"/>
<path class="rs" d="M549.0 507.8L554.3 508.7L550.2 509.9L544.9 509.0z"/>
<path class="e" d="M550.2 509.9L544.9 509.0"/>
<path class="gs" d="M549.0 422.7L554.3 420.0L550.2 421.3L544.9 423.9z"/>
<path class="e" d="M550.2 421.3L544.9 423.9"/>
<path class="rs" d="M566.7 505.1L572.0 506.0L567.8 507.2L562.6 506.3z"/>
<path class="e" d="M566.7 505.1L572.0 506.0"/>
<path class="ys" d="M566.7 503.8L572.0 502.8L567.8 507.1L562.6 507.9z"/>
<path class="e" d="M566.7 503.8L572.0 502.8"/>
<path class="gs" d="M566.7 416.4L572.0 413.7L567.8 414.9L562.6 417.6z"/>
<path class="e" d="M566.7 416.4L572.0 413.7"/>
<path class="ys" d="M562.6 507.9L567.8 507.1L563.7 511.3L558.4 512.1z"/>
<path class="rs" d="M562.6 506.3L567.8 507.2L563.7 508.4L558.4 507.5z"/>
<path class="gs" d="M562.6 417.6L567.8 414.9L563.7 416.1L558.4 418.8z"/>
<path class="ys" d="M558.4 512.1L563.7 511.3L559.6 515.5L554.3 516.3z"/>
<path class="rs" d="M558.4 507.5L563.7 508.4L559.6 509.7L554.3 508.7z"/>
<path class="gs" d="M558.4 418.8L563.7 416.1L559.6 417.4L554.3 420.0z"/>
<path class="ys" d="M554.3 516.3L559.6 515.5L555.5 519.8L550.2 520.5z"/>
<path class="e" d="M555.5 519.8L550.2 520.5"/>
<path class="rs" d="M554.3 508.7L559.6 509.7L555.5 510.9L550.2 509.9z"/>
<path class="e" d="M555.5 510.9L550.2 509.9"/>
<path class="gs" d="M554.3 420.0L559.6 417.4L555.5 418.6L550.2 421.3z"/>
<path class="e" d="M555.5 418.6L550.2 421.3"/>
<path class="rs" d="M572.0 506.0L577.2 507.0L573.1 508.2L567.8 507.2z"/>
<path class="e" d="M572.0 506.0L577.2 507.0M577.2 507.0L573.1 508.2"/>
<path class="ys" d="M572.0 502.8L577.2 501.9L573.1 506.2L567.8 507.1z"/>
<path class="e" d="M572.0 502.8L577.2 501.9M577.2 501.9L573.1 506.2"/>
<path class="gs" d="M572.0 413.7L577.2 411.0L573.1 412.2L567.8 414.9z"/>
<path class="e" d="M572.0 413.7L577.2 411.0M577.2 411.0L573.1 412.2"/>
<path class="ys" d="M567.8 507.1L573.1 506.2L569.0 510.5L563.7 511.3z"/>
<path class="e" d="M573.1 506.2L569.0 510.5"/>
<path class="rs" d="M567.8 507.2L573.1 508.2L569.0 509.4L563.7 508.4z"/>
<path class="e" d="M573.1 508.2L569.0 509.4"/>
<path class="gs" d="M567.8 414.9L573.1 412.2L569.0 413.5L563.7 416.1z"/>
<path class="e" d="M573.1 412.2L569.0 413.5"/>
<path class="ys" d="M563.7 511.3L569.0 510.5L564.9 514.7L559.6 515.5z"/>
<path class="e" d="M569.0 510.5L564.9 514.7"/>
<path class="rs" d="M563.7 508.4L569.0 509.4L564.9 510.6L559.6 509.7z"/>
<path class="e" d="M569.0 509.4L564.9 510.6"/>
<path class="gs" d="M563.7 416.1L569.0 413.5L564.9 414.7L559.6 417.4z"/>
<path class="e" d="M569.0 413.5L564.9 414.7"/>
<path class="ys" d="M559.6 515.5L564.9 514.7L560.7 519.0L555.5 519.8z"/>
<path class="e" d="M564.9 514.7L560.7 519.0M560.7 519.0L555.5 519.8"/>
<path class="rs" d="M559.6 509.7L564.9 510.6L560.7 511.8L555.5 510.9z"/>
<path class="e" d="M564.9 510.6L560.7 511.8M560.7 511.8L555.5 510.9"/>
<path class="gs" d="M559.6 417.4L564.9 414.7L560.7 415.9L555.5 418.6z"/>
<path class="e" d="M564.9 414.7L560.7 415.9M560.7 415.9L555.5 418.6"/>
<path class="y" d="M539.6 522.0L560.7 519.0L544.2 534.2L523.1 536.5z"/>
<path class="r" d="M539.6 508.0L560.7 511.8L544.2 516.7L523.1 512.9z"/>
<path class="g" d="M539.6 426.6L560.7 415.9L544.2 420.8L523.1 431.5z"/>
<path class="y" d="M523.1 536.5L544.2 534.2L527.7 547.7L506.7 549.5z"/>
<path class="r" d="M523.1 512.9L544.2 516.7L527.7 521.6L506.7 517.8z"/>
<path class="g" d="M523.1 431.5L544.2 420.8L527.7 425.6L506.7 436.4z"/>
<path class="y" d="M506.7 549.5L527.7 547.7L511.2 559.9L490.2 561.4z"/>
<path class="r" d="M506.7 517.8L527.7 521.6L511.2 526.4L490.2 522.6z"/>
<path class="g" d="M506.7 436.4L527.7 425.6L511.2 430.5L490.2 441.2z"/>
<path class="y" d="M490.2 561.4L511.2 559.9L494.8 571.2L473.7 572.3z"/>
<path class="r" d="M490.2 522.6L511.2 526.4L494.8 531.3L473.7 527.5z"/>
<path class="g" d="M490.2 441.2L511.2 430.5L494.8 435.3L473.7 446.1z"/>
<path class="y" d="M473.7 572.3L494.8 571.2L478.3 581.7L457.2 582.5z"/>
<path class="r" d="M473.7 527.5L494.8 531.3L478.3 536.1L457.2 532.4z"/>
<path class="g" d="M473.7 446.1L494.8 435.3L478.3 440.2L457.2 451.0z"/>
<path class="y" d="M457.2 582.5L478.3 581.7L461.8 591.5L440.7 592.1z"/>
<path class="r" d="M457.2 532.4L478.3 536.1L461.8 541.0L440.7 537.2z"/>
<path class="g" d="M457.2 451.0L478.3 440.2L461.8 445.1L440.7 455.8z"/>
<path class="y" d="M440.7 592.1L461.8 591.5L445.3 600.8L424.2 601.1z"/>
<path class="r" d="M440.7 537.2L461.8 541.0L445.3 545.9L424.2 542.1z"/>
<path class="g" d="M440.7 455.8L461.8 445.1L445.3 449.9L424.2 460.7z"/>
<path class="y" d="M424.2 601.1L445.3 600.8L428.8 609.6L407.7 609.8z"/>
<path class="r" d="M424.2 542.1L445.3 545.9L428.8 550.7L407.7 547.0z"/>
<path class="g" d="M424.2 460.7L445.3 449.9L428.8 454.8L407.7 465.6z"/>
<path class="y" d="M407.7 609.8L428.8 609.6L412.3 618.0L391.2 618.0z"/>
<path class="r" d="M407.7 547.0L428.8 550.7L412.3 555.6L391.2 551.8z"/>
<path class="g" d="M407.7 465.6L428.8 454.8L412.3 459.7L391.2 470.4z"/>
<path class="y" d="M391.2 618.0L412.3 618.0L395.8 626.0L374.7 625.9z"/>
<path class="r" d="M391.2 551.8L412.3 555.6L395.8 560.5L374.7 556.7z"/>
<path class="g" d="M391.2 470.4L412.3 459.7L395.8 464.5L374.7 475.3z"/>
<path class="y" d="M374.7 625.9L395.8 626.0L379.3 633.8L358.2 633.5z"/>
<path class="r" d="M374.7 556.7L395.8 560.5L379.3 565.3L358.2 561.6z"/>
<path class="g" d="M374.7 475.3L395.8 464.5L379.3 469.4L358.2 480.2z"/>
<path class="y" d="M358.2 633.5L379.3 633.8L362.8 641.3L341.7 640.9z"/>
<path class="r" d="M358.2 561.6L379.3 565.3L362.8 570.2L341.7 566.4z"/>
<path class="g" d="M358.2 480.2L379.3 469.4L362.8 474.3L341.7 485.0z"/>
<path class="y" d="M341.7 640.9L362.8 641.3L346.3 648.6L325.2 648.1z"/>
<path class="r" d="M341.7 566.4L362.8 570.2L346.3 575.1L325.2 571.3z"/>
<path class="g" d="M341.7 485.0L362.8 474.3L346.3 479.1L325.2 489.9z"/>
<path class="y" d="M325.2 648.1L346.3 648.6L329.8 655.7L308.7 655.1z"/>
<path class="r" d="M325.2 571.3L346.3 575.1L329.8 579.9L308.7 576.1z"/>
<path class="g" d="M325.2 489.9L346.3 479.1L329.8 484.0L308.7 494.7z"/>
<path class="y" d="M308.7 655.1L329.8 655.7L313.3 662.7L292.2 662.0z"/>
<path class="r" d="M308.7 576.1L329.8 579.9L313.3 584.8L292.2 581.0z"/>
<path class="g" d="M308.7 494.7L329.8 484.0L313.3 488.9L292.2 499.6z"/>
<path class="r" d="M643.2 487.5L664.3 491.3L647.8 496.1L626.7 492.4z"/>
<path class="y" d="M643.2 391.6L664.3 379.4L647.8 419.9L626.7 429.0z"/>
<path class="g" d="M643.2 391.6L664.3 379.4L647.8 384.2L626.7 396.4z"/>
<path class="r" d="M626.7 492.4L647.8 496.1L631.3 501.0L610.2 497.2z"/>
<path class="y" d="M626.7 429.0L647.8 419.9L631.3 451.3L610.2 458.2z"/>
<path class="g" d="M626.7 396.4L647.8 384.2L631.3 389.1L610.2 401.3z"/>
<path class="r" d="M610.2 497.2L631.3 501.0L614.8 505.9L593.7 502.1z"/>
<path class="y" d="M610.2 458.2L631.3 451.3L614.8 476.5L593.7 481.9z"/>
<path class="g" d="M610.2 401.3L631.3 389.1L614.8 394.0L593.7 406.2z"/>
<path class="r" d="M593.7 502.1L614.8 505.9L598.3 510.7L577.2 507.0z"/>
<path class="y" d="M593.7 481.9L614.8 476.5L598.3 497.6L577.2 501.9z"/>
<path class="g" d="M593.7 406.2L614.8 394.0L598.3 398.8L577.2 411.0z"/>
<path class="rs" d="M577.2 507.0L582.5 507.9L578.4 509.1L573.1 508.2z"/>
<path class="e" d="M577.2 507.0L582.5 507.9M573.1 508.2L577.2 507.0"/>
<path class="ys" d="M577.2 501.9L582.5 500.8L578.4 505.1L573.1 506.2z"/>
<path class="e" d="M577.2 501.9L582.5 500.8M573.1 506.2L577.2 501.9"/>
<path class="gs" d="M577.2 411.0L582.5 408.0L578.4 409.2L573.1 412.2z"/>
<path class="e" d="M577.2 411.0L582.5 408.0M573.1 412.2L577.2 411.0"/>
<path class="rs" d="M573.1 508.2L578.4 509.1L574.3 510.3L569.0 509.4z"/>
<path class="e" d="M569.0 509.4L573.1 508.2"/>
<path class="ys" d="M573.1 506.2L578.4 505.1L574.3 509.5L569.0 510.5z"/>
<path class="e" d="M569.0 510.5L573.1 506.2"/>
<path class="gs" d="M573.1 412.2L578.4 409.2L574.3 410.4L569.0 413.5z"/>
<path class="e" d="M569.0 413.5L573.1 412.2"/>
<path class="ys" d="M569.0 510.5L574.3 509.5L570.1 513.8L564.9 514.7z"/>
<path class="e" d="M564.9 514.7L569.0 510.5"/>
<path class="rs" d="M569.0 509.4L574.3 510.3L570.1 511.6L564.9 510.6z"/>
<path class="e" d="M564.9 510.6L569.0 509.4"/>
<path class="gs" d="M569.0 413.5L574.3 410.4L570.1 411.6L564.9 414.7z"/>
<path class="e" d="M564.9 414.7L569.0 413.5"/>
<path class="ys" d="M564.9 514.7L570.1 513.8L566.0 518.2L560.7 519.0z"/>
<path class="e" d="M566.0 518.2L560.7 519.0M560.7 519.0L564.9 514.7"/>
<path class="rs" d="M564.9 510.6L570.1 511.6L566.0 512.8L560.7 511.8z"/>
<path class="e" d="M566.0 512.8L560.7 511.8M560.7 511.8L564.9 510.6"/>
<path class="gs" d="M564.9 414.7L570.1 411.6L566.0 412.8L560.7 415.9z"/>
<path class="e" d="M566.0 412.8L560.7 415.9M560.7 415.9L564.9 414.7"/>
<path class="rs" d="M582.5 507.9L587.8 508.8L583.7 510.1L578.4 509.1z"/>
<path class="e" d="M582.5 507.9L587.8 508.8"/>
<path class="ys" d="M582.5 500.8L587.8 499.7L583.7 504.1L578.4 505.1z"/>
<path class="e" d="M582.5 500.8L587.8 499.7"/>
<path class="gs" d="M582.5 408.0L587.8 404.9L583.7 406.1L578.4 409.2z"/>
<path class="e" d="M582.5 408.0L587.8 404.9"/>
<path class="rs" d="M578.4 509.1L583.7 510.1L579.5 511.3L574.3 510.3z"/>
<path class="ys" d="M578.4 505.1L583.7 504.1L579.5 508.5L574.3 509.5z"/>
<path class="gs" d="M578.4 409.2L583.7 406.1L579.5 407.4L574.3 410.4z"/>
<path class="rs" d="M574.3 510.3L579.5 511.3L575.4 512.5L570.1 511.6z"/>
<path class="ys" d="M574.3 509.5L579.5 508.5L575.4 512.9L570.1 513.8z"/>
<path class="gs" d="M574.3 410.4L579.5 407.4L575.4 408.6L570.1 411.6z"/>
<path class="ys" d="M570.1 513.8L575.4 512.9L571.3 517.3L566.0 518.2z"/>
<path class="e" d="M571.3 517.3L566.0 518.2"/>
<path class="rs" d="M570.1 511.6L575.4 512.5L571.3 513.7L566.0 512.8z"/>
<path class="e" d="M571.3 513.7L566.0 512.8"/>
<path class="gs" d="M570.1 411.6L575.4 408.6L571.3 409.8L566.0 412.8z"/>
<path class="e" d="M571.3 409.8L566.0 412.8"/>
<path class="rs" d="M587.8 508.8L593.0 509.8L588.9 511.0L583.7 510.1z"/>
<path class="e" d="M587.8 508.8L593.0 509.8"/>
<path class="ys" d="M587.8 499.7L593.0 498.6L588.9 503.1L583.7 504.1z"/>
<path class="e" d="M587.8 499.7L593.0 498.6"/>
<path class="gs" d="M587.8 404.9L593.0 401.9L588.9 403.1L583.7 406.1z"/>
<path class="e" d="M587.8 404.9L593.0 401.9"/>
<path class="rs" d="M583.7 510.1L588.9 511.0L584.8 512.2L579.5 511.3z"/>
<path class="ys" d="M583.7 504.1L588.9 503.1L584.8 507.6L579.5 508.5z"/>
<path class="gs" d="M583.7 406.1L588.9 403.1L584.8 404.3L579.5 407.4z"/>
<path class="rs" d="M579.5 511.3L584.8 512.2L580.7 513.4L575.4 512.5z"/>
<path class="ys" d="M579.5 508.5L584.8 507.6L580.7 512.0L575.4 512.9z"/>
<path class="gs" d="M579.5 407.4L584.8 404.3L580.7 405.5L575.4 408.6z"/>
<path class="ys" d="M575.4 512.9L580.7 512.0L576.6 516.5L571.3 517.3z"/>
<path class="e" d="M576.6 516.5L571.3 517.3"/>
<path class="rs" d="M575.4 512.5L580.7 513.4L576.6 514.7L571.3 513.7z"/>
<path class="e" d="M576.6 514.7L571.3 513.7"/>
<path class="gs" d="M575.4 408.6L580.7 405.5L576.6 406.7L571.3 409.8z"/>
<path class="e" d="M576.6 406.7L571.3 409.8"/>
<path class="rs" d="M593.0 509.8L598.3 510.7L594.2 512.0L588.9 511.0z"/>
<path class="e" d="M593.0 509.8L598.3 510.7M598.3 510.7L594.2 512.0"/>
<path class="ys" d="M593.0 498.6L598.3 497.6L594.2 502.1L588.9 503.1z"/>
<path class="e" d="M593.0 498.6L598.3 497.6M598.3 497.6L594.2 502.1"/>
<path class="gs" d="M593.0 401.9L598.3 398.8L594.2 400.0L588.9 403.1z"/>
<path class="e" d="M593.0 401.9L598.3 398.8M598.3 398.8L594.2 400.0"/>
<path class="rs" d="M588.9 511.0L594.2 512.0L590.1 513.2L584.8 512.2z"/>
<path class="e" d="M594.2 512.0L590.1 513.2"/>
<path class="ys" d="M588.9 503.1L594.2 502.1L590.1 506.6L584.8 507.6z"/>
<path class="e" d="M594.2 502.1L590.1 506.6"/>
<path class="gs" d="M588.9 403.1L594.2 400.0L590.1 401.2L584.8 404.3z"/>
<path class="e" d="M594.2 400.0L590.1 401.2"/>
<path class="rs" d="M584.8 512.2L590.1 513.2L585.9 514.4L580.7 513.4z"/>
<path class="e" d="M590.1 513.2L585.9 514.4"/>
<path class="ys" d="M584.8 507.6L590.1 506.6L585.9 511.1L580.7 512.0z"/>
<path class="e" d="M590.1 506.6L585.9 511.1"/>
<path class="gs" d="M584.8 404.3L590.1 401.2L585.9 402.5L580.7 405.5z"/>
<path class="e" d="M590.1 401.2L585.9 402.5"/>
<path class="rs" d="M580.7 513.4L585.9 514.4L581.8 515.6L576.6 514.7z"/>
<path class="e" d="M585.9 514.4L581.8 515.6M581.8 515.6L576.6 514.7"/>
<path class="ys" d="M580.7 512.0L585.9 511.1L581.8 515.6L576.6 516.5z"/>
<path class="e" d="M585.9 511.1L581.8 515.6M581.8 515.6L576.6 516.5"/>
<path class="gs" d="M580.7 405.5L585.9 402.5L581.8 403.7L576.6 406.7z"/>
<path class="e" d="M585.9 402.5L581.8 403.7M581.8 403.7L576.6 406.7"/>
<path class="y" d="M560.7 519.0L581.8 515.6L565.3 531.4L544.2 534.2z"/>
<path class="r" d="M560.7 511.8L581.8 515.6L565.3 520.5L544.2 516.7z"/>
<path class="g" d="M560.7 415.9L581.8 403.7L565.3 408.5L544.2 420.8z"/>
<path class="y" d="M544.2 534.2L565.3 531.4L548.8 545.5L527.7 547.7z"/>
<path class="r" d="M544.2 516.7L565.3 520.5L548.8 525.3L527.7 521.6z"/>
<path class="g" d="M544.2 420.8L565.3 408.5L548.8 413.4L527.7 425.6z"/>
<path class="y" d="M527.7 547.7L548.8 545.5L532.3 558.2L511.2 559.9z"/>
<path class="r" d="M527.7 521.6L548.8 525.3L532.3 530.2L511.2 526.4z"/>
<path class="g" d="M527.7 425.6L548.8 413.4L532.3 418.3L511.2 430.5z"/>
<path class="y" d="M511.2 559.9L532.3 558.2L515.8 569.8L494.8 571.2z"/>
<path class="r" d="M511.2 526.4L532.3 530.2L515.8 535.1L494.8 531.3z"/>
<path class="g" d="M511.2 430.5L532.3 418.3L515.8 423.1L494.8 435.3z"/>
<path class="y" d="M494.8 571.2L515.8 569.8L499.3 580.6L478.3 581.7z"/>
<path class="r" d="M494.8 531.3L515.8 535.1L499.3 539.9L478.3 536.1z"/>
<path class="g" d="M494.8 435.3L515.8 423.1L499.3 428.0L478.3 440.2z"/>
<path class="y" d="M478.3 581.7L499.3 580.6L482.9 590.7L461.8 591.5z"/>
<path class="r" d="M478.3 536.1L499.3 539.9L482.9 544.8L461.8 541.0z"/>
<path class="g" d="M478.3 440.2L499.3 428.0L482.9 432.9L461.8 445.1z"/>
<path class="y" d="M461.8 591.5L482.9 590.7L466.4 600.2L445.3 600.8z"/>
<path class="r" d="M461.8 541.0L482.9 544.8L466.4 549.7L445.3 545.9z"/>
<path class="g" d="M461.8 445.1L482.9 432.9L466.4 437.7L445.3 449.9z"/>
<path class="y" d="M445.3 600.8L466.4 600.2L449.9 609.2L428.8 609.6z"/>
<path class="r" d="M445.3 545.9L466.4 549.7L449.9 554.5L428.8 550.7z"/>
<path class="g" d="M445.3 449.9L466.4 437.7L449.9 442.6L428.8 454.8z"/>
<path class="y" d="M428.8 609.6L449.9 609.2L433.4 617.8L412.3 618.0z"/>
<path class="r" d="M428.8 550.7L449.9 554.5L433.4 559.4L412.3 555.6z"/>
<path class="g" d="M428.8 454.8L449.9 442.6L433.4 447.5L412.3 459.7z"/>
<path class="y" d="M412.3 618.0L433.4 617.8L416.9 626.0L395.8 626.0z"/>
<path class="r" d="M412.3 555.6L433.4 559.4L416.9 564.3L395.8 560.5z"/>
<path class="g" d="M412.3 459.7L433.4 447.5L416.9 452.3L395.8 464.5z"/>
<path class="y" d="M395.8 626.0L416.9 626.0L400.4 633.9L379.3 633.8z"/>
<path class="r" d="M395.8 560.5L416.9 564.3L400.4 569.1L379.3 565.3z"/>
<path class="g" d="M395.8 464.5L416.9 452.3L400.4 457.2L379.3 469.4z"/>
<path class="y" d="M379.3 633.8L400.4 633.9L383.9 641.6L362.8 641.3z"/>
<path class="r" d="M379.3 565.3L400.4 569.1L383.9 574.0L362.8 570.2z"/>
<path class="g" d="M379.3 469.4L400.4 457.2L383.9 462.1L362.8 474.3z"/>
<path class="y" d="M362.8 641.3L383.9 641.6L367.4 649.0L346.3 648.6z"/>
<path class="r" d="M362.8 570.2L383.9 574.0L367.4 578.9L346.3 575.1z"/>
<path class="g" d="M362.8 474.3L383.9 462.1L367.4 466.9L346.3 479.1z"/>
<path class="y" d="M346.3 648.6L367.4 649.0L350.9 656.2L329.8 655.7z"/>
<path class="r" d="M346.3 575.1L367.4 578.9L350.9 583.7L329.8 579.9z"/>
<path class="g" d="M346.3 479.1L367.4 466.9L350.9 471.8L329.8 484.0z"/>
<path class="y" d="M329.8 655.7L350.9 656.2L334.4 663.2L313.3 662.7z"/>
<path class="r" d="M329.8 579.9L350.9 583.7L334.4 588.6L313.3 584.8z"/>
<path class="g" d="M329.8 484.0L350.9 471.8L334.4 476.7L313.3 488.9z"/>
<path class="r" d="M664.3 491.3L685.4 495.1L668.9 499.9L647.8 496.1z"/>
<path class="y" d="M664.3 379.4L685.4 365.5L668.9 409.7L647.8 419.9z"/>
<path class="g" d="M664.3 379.4L685.4 365.5L668.9 370.3L647.8 384.2z"/>
<path class="r" d="M647.8 496.1L668.9 499.9L652.4 504.8L631.3 501.0z"/>
<path class="y" d="M647.8 419.9L668.9 409.7L652.4 443.4L631.3 451.3z"/>
<path class="g" d="M647.8 384.2L668.9 370.3L652.4 375.2L631.3 389.1z"/>
<path class="r" d="M631.3 501.0L652.4 504.8L635.9 509.7L614.8 505.9z"/>
<path class="y" d="M631.3 451.3L652.4 443.4L635.9 470.4L614.8 476.5z"/>
<path class="g" d="M631.3 389.1L652.4 375.2L635.9 380.1L614.8 394.0z"/>
<path class="r" d="M614.8 505.9L635.9 509.7L619.4 514.5L598.3 510.7z"/>
<path class="y" d="M614.8 476.5L635.9 470.4L619.4 492.7L598.3 497.6z"/>
<path class="g" d="M614.8 394.0L635.9 380.1L619.4 384.9L598.3 398.8z"/>
<path class="r" d="M598.3 510.7L619.4 514.5L602.9 519.4L581.8 515.6z"/>
<path class="y" d="M598.3 497.6L619.4 492.7L602.9 511.7L581.8 515.6z"/>
<path class="g" d="M598.3 398.8L619.4 384.9L602.9 389.8L581.8 403.7z"/>
<path class="ys" d="M581.8 515.6L587.1 514.6L583.0 518.6L577.7 519.6z"/>
<path class="e" d="M581.8 515.6L587.1 514.6M577.7 519.6L581.8 515.6"/>
<path class="rs" d="M581.8 515.6L587.1 516.6L583.0 517.8L577.7 516.8z"/>
<path class="e" d="M581.8 515.6L587.1 516.6M577.7 516.8L581.8 515.6"/>
<path class="gs" d="M581.8 403.7L587.1 400.2L583.0 401.4L577.7 404.9z"/>
<path class="e" d="M581.8 403.7L587.1 400.2M577.7 404.9L581.8 403.7"/>
<path class="ys" d="M577.7 519.6L583.0 518.6L578.9 522.6L573.6 523.5z"/>
<path class="e" d="M573.6 523.5L577.7 519.6"/>
<path class="rs" d="M577.7 516.8L583.0 517.8L578.9 519.0L573.6 518.0z"/>
<path class="e" d="M573.6 518.0L577.7 516.8"/>
<path class="gs" d="M577.7 404.9L583.0 401.4L578.9 402.6L573.6 406.1z"/>
<path class="e" d="M573.6 406.1L577.7 404.9"/>
<path class="ys" d="M573.6 523.5L578.9 522.6L574.7 526.6L569.5 527.4z"/>
<path class="e" d="M569.5 527.4L573.6 523.5"/>
<path class="rs" d="M573.6 518.0L578.9 519.0L574.7 520.2L569.5 519.3z"/>
<path class="e" d="M569.5 519.3L573.6 518.0"/>
<path class="gs" d="M573.6 406.1L578.9 402.6L574.7 403.9L569.5 407.3z"/>
<path class="e" d="M569.5 407.3L573.6 406.1"/>
<path class="ys" d="M569.5 527.4L574.7 526.6L570.6 530.6L565.3 531.4z"/>
<path class="e" d="M570.6 530.6L565.3 531.4M565.3 531.4L569.5 527.4"/>
<path class="rs" d="M569.5 519.3L574.7 520.2L570.6 521.4L565.3 520.5z"/>
<path class="e" d="M570.6 521.4L565.3 520.5M565.3 520.5L569.5 519.3"/>
<path class="gs" d="M569.5 407.3L574.7 403.9L570.6 405.1L565.3 408.5z"/>
<path class="e" d="M570.6 405.1L565.3 408.5M565.3 408.5L569.5 407.3"/>
<path class="rs" d="M587.1 516.6L592.4 517.5L588.2 518.7L583.0 517.8z"/>
<path class="e" d="M587.1 516.6L592.4 517.5"/>
<path class="ys" d="M587.1 514.6L592.4 513.6L588.2 517.7L583.0 518.6z"/>
<path class="e" d="M587.1 514.6L592.4 513.6"/>
<path class="gs" d="M587.1 400.2L592.4 396.7L588.2 398.0L583.0 401.4z"/>
<path class="e" d="M587.1 400.2L592.4 396.7"/>
<path class="ys" d="M583.0 518.6L588.2 517.7L584.1 521.7L578.9 522.6z"/>
<path class="rs" d="M583.0 517.8L588.2 518.7L584.1 519.9L578.9 519.0z"/>
<path class="gs" d="M583.0 401.4L588.2 398.0L584.1 399.2L578.9 402.6z"/>
<path class="ys" d="M578.9 522.6L584.1 521.7L580.0 525.8L574.7 526.6z"/>
<path class="rs" d="M578.9 519.0L584.1 519.9L580.0 521.1L574.7 520.2z"/>
<path class="gs" d="M578.9 402.6L584.1 399.2L580.0 400.4L574.7 403.9z"/>
<path class="ys" d="M574.7 526.6L580.0 525.8L575.9 529.8L570.6 530.6z"/>
<path class="e" d="M575.9 529.8L570.6 530.6"/>
<path class="rs" d="M574.7 520.2L580.0 521.1L575.9 522.4L570.6 521.4z"/>
<path class="e" d="M575.9 522.4L570.6 521.4"/>
<path class="gs" d="M574.7 403.9L580.0 400.4L575.9 401.6L570.6 405.1z"/>
<path class="e" d="M575.9 401.6L570.6 405.1"/>
<path class="rs" d="M592.4 517.5L597.6 518.4L593.5 519.7L588.2 518.7z"/>
<path class="e" d="M592.4 517.5L597.6 518.4"/>
<path class="ys" d="M592.4 513.6L597.6 512.7L593.5 516.7L588.2 517.7z"/>
<path class="e" d="M592.4 513.6L597.6 512.7"/>
<path class="gs" d="M592.4 396.7L597.6 393.3L593.5 394.5L588.2 398.0z"/>
<path class="e" d="M592.4 396.7L597.6 393.3"/>
<path class="rs" d="M588.2 518.7L593.5 519.7L589.4 520.9L584.1 519.9z"/>
<path class="ys" d="M588.2 517.7L593.5 516.7L589.4 520.8L584.1 521.7z"/>
<path class="gs" d="M588.2 398.0L593.5 394.5L589.4 395.7L584.1 399.2z"/>
<path class="ys" d="M584.1 521.7L589.4 520.8L585.3 524.9L580.0 525.8z"/>
<path class="rs" d="M584.1 519.9L589.4 520.9L585.3 522.1L580.0 521.1z"/>
<path class="gs" d="M584.1 399.2L589.4 395.7L585.3 396.9L580.0 400.4z"/>
<path class="ys" d="M580.0 525.8L585.3 524.9L581.1 529.0L575.9 529.8z"/>
<path class="e" d="M581.1 529.0L575.9 529.8"/>
<path class="rs" d="M580.0 521.1L585.3 522.1L581.1 523.3L575.9 522.4z"/>
<path class="e" d="M581.1 523.3L575.9 522.4"/>
<path class="gs" d="M580.0 400.4L585.3 396.9L581.1 398.1L575.9 401.6z"/>
<path class="e" d="M581.1 398.1L575.9 401.6"/>
<path class="rs" d="M597.6 518.4L602.9 519.4L598.8 520.6L593.5 519.7z"/>
<path class="e" d="M597.6 518.4L602.9 519.4M602.9 519.4L598.8 520.6"/>
<path class="ys" d="M597.6 512.7L602.9 511.7L598.8 515.8L593.5 516.7z"/>
<path class="e" d="M597.6 512.7L602.9 511.7M602.9 511.7L598.8 515.8"/>
<path class="gs" d="M597.6 393.3L602.9 389.8L598.8 391.0L593.5 394.5z"/>
<path class="e" d="M597.6 393.3L602.9 389.8M602.9 389.8L598.8 391.0"/>
<path class="rs" d="M593.5 519.7L598.8 520.6L594.7 521.8L589.4 520.9z"/>
<path class="e" d="M598.8 520.6L594.7 521.8"/>
<path class="ys" d="M593.5 516.7L598.8 515.8L594.7 519.9L589.4 520.8z"/>
<path class="e" d="M598.8 515.8L594.7 519.9"/>
<path class="gs" d="M593.5 394.5L598.8 391.0L594.7 392.2L589.4 395.7z"/>
<path class="e" d="M598.8 391.0L594.7 392.2"/>
<path class="ys" d="M589.4 520.8L594.7 519.9L590.5 524.1L585.3 524.9z"/>
<path class="e" d="M594.7 519.9L590.5 524.1"/>
<path class="rs" d="M589.4 520.9L594.7 521.8L590.5 523.0L585.3 522.1z"/>
<path class="e" d="M594.7 521.8L590.5 523.0"/>
<path class="gs" d="M589.4 395.7L594.7 392.2L590.5 393.4L585.3 396.9z"/>
<path class="e" d="M594.7 392.2L590.5 393.4"/>
<path class="ys" d="M585.3 524.9L590.5 524.1L586.4 528.2L581.1 529.0z"/>
<path class="e" d="M590.5 524.1L586.4 528.2M586.4 528.2L581.1 529.0"/>
<path class="rs" d="M585.3 522.1L590.5 523.0L586.4 524.3L581.1 523.3z"/>
<path class="e" d="M590.5 523.0L586.4 524.3M586.4 524.3L581.1 523.3"/>
<path class="gs" d="M585.3 396.9L590.5 393.4L586.4 394.7L581.1 398.1z"/>
<path class="e" d="M590.5 393.4L586.4 394.7M586.4 394.7L581.1 398.1"/>
<path class="y" d="M565.3 531.4L586.4 528.2L569.9 542.9L548.8 545.5z"/>
<path class="r" d="M565.3 520.5L586.4 524.3L569.9 529.1L548.8 525.3z"/>
<path class="g" d="M565.3 408.5L586.4 394.7L569.9 399.5L548.8 413.4z"/>
<path class="y" d="M548.8 545.5L569.9 542.9L553.4 556.1L532.3 558.2z"/>
<path class="r" d="M548.8 525.3L569.9 529.1L553.4 534.0L532.3 530.2z"/>
<path class="g" d="M548.8 413.4L569.9 399.5L553.4 404.4L532.3 418.3z"/>
<path class="y" d="M532.3 558.2L553.4 556.1L536.9 568.1L515.8 569.8z"/>
<path class="r" d="M532.3 530.2L553.4 534.0L536.9 538.9L515.8 535.1z"/>
<path class="g" d="M532.3 418.3L553.4 404.4L536.9 409.3L515.8 423.1z"/>
<path class="y" d="M515.8 569.8L536.9 568.1L520.4 579.3L499.3 580.6z"/>
<path class="r" d="M515.8 535.1L536.9 538.9L520.4 543.7L499.3 539.9z"/>
<path class="g" d="M515.8 423.1L536.9 409.3L520.4 414.1L499.3 428.0z"/>
<path class="y" d="M499.3 580.6L520.4 579.3L503.9 589.7L482.9 590.7z"/>
<path class="r" d="M499.3 539.9L520.4 543.7L503.9 548.6L482.9 544.8z"/>
<path class="g" d="M499.3 428.0L520.4 414.1L503.9 419.0L482.9 432.9z"/>
<path class="y" d="M482.9 590.7L503.9 589.7L487.4 599.4L466.4 600.2z"/>
<path class="r" d="M482.9 544.8L503.9 548.6L487.4 553.4L466.4 549.7z"/>
<path class="g" d="M482.9 432.9L503.9 419.0L487.4 423.8L466.4 437.7z"/>
<path class="y" d="M466.4 600.2L487.4 599.4L471.0 608.6L449.9 609.2z"/>
<path class="r" d="M466.4 549.7L487.4 553.4L471.0 558.3L449.9 554.5z"/>
<path class="g" d="M466.4 437.7L487.4 423.8L471.0 428.7L449.9 442.6z"/>
<path class="y" d="M449.9 609.2L471.0 608.6L454.5 617.4L433.4 617.8z"/>
<path class="r" d="M449.9 554.5L471.0 558.3L454.5 563.2L433.4 559.4z"/>
<path class="g" d="M449.9 442.6L471.0 428.7L454.5 433.6L433.4 447.5z"/>
<path class="y" d="M433.4 617.8L454.5 617.4L438.0 625.8L416.9 626.0z"/>
<path class="r" d="M433.4 559.4L454.5 563.2L438.0 568.0L416.9 564.3z"/>
<path class="g" d="M433.4 447.5L454.5 433.6L438.0 438.4L416.9 452.3z"/>
<path class="y" d="M416.9 626.0L438.0 625.8L421.5 633.8L400.4 633.9z"/>
<path class="r" d="M416.9 564.3L438.0 568.0L421.5 572.9L400.4 569.1z"/>
<path class="g" d="M416.9 452.3L438.0 438.4L421.5 443.3L400.4 457.2z"/>
<path class="y" d="M400.4 633.9L421.5 633.8L405.0 641.6L383.9 641.6z"/>
<path class="r" d="M400.4 569.1L421.5 572.9L405.0 577.8L383.9 574.0z"/>
<path class="g" d="M400.4 457.2L421.5 443.3L405.0 448.2L383.9 462.1z"/>
<path class="y" d="M383.9 641.6L405.0 641.6L388.5 649.2L367.4 649.0z"/>
<path class="r" d="M383.9 574.0L405.0 577.8L388.5 582.6L367.4 578.9z"/>
<path class="g" d="M383.9 462.1L405.0 448.2L388.5 453.0L367.4 466.9z"/>
<path class="y" d="M367.4 649.0L388.5 649.2L372.0 656.5L350.9 656.2z"/>
<path class="r" d="M367.4 578.9L388.5 582.6L372.0 587.5L350.9 583.7z"/>
<path class="g" d="M367.4 466.9L388.5 453.0L372.0 457.9L350.9 471.8z"/>
<path class="y" d="M350.9 656.2L372.0 656.5L355.5 663.6L334.4 663.2z"/>
<path class="r" d="M350.9 583.7L372.0 587.5L355.5 592.4L334.4 588.6z"/>
<path class="g" d="M350.9 471.8L372.0 457.9L355.5 462.8L334.4 476.7z"/>
<path class="r" d="M685.4 495.1L706.5 498.9L690.0 503.7L668.9 499.9z"/>
<path class="y" d="M685.4 365.5L706.5 349.6L690.0 398.1L668.9 409.7z"/>
<path class="g" d="M685.4 365.5L706.5 349.6L690.0 354.5L668.9 370.3z"/>
<path class="r" d="M668.9 499.9L690.0 503.7L673.5 508.6L652.4 504.8z"/>
<path class="y" d="M668.9 409.7L690.0 398.1L673.5 434.6L652.4 443.4z"/>
<path class="g" d="M668.9 370.3L690.0 354.5L673.5 359.3L652.4 375.2z"/>
<path class="r" d="M652.4 504.8L673.5 508.6L657.0 513.4L635.9 509.7z"/>
<path class="y" d="M652.4 443.4L673.5 434.6L657.0 463.4L635.9 470.4z"/>
<path class="g" d="M652.4 375.2L673.5 359.3L657.0 364.2L635.9 380.1z"/>
<path class="r" d="M635.9 509.7L657.0 513.4L640.5 518.3L619.4 514.5z"/>
<path class="y" d="M635.9 470.4L657.0 463.4L640.5 487.1L619.4 492.7z"/>
<path class="g" d="M635.9 380.1L657.0 364.2L640.5 369.1L619.4 384.9z"/>
<path class="r" d="M619.4 514.5L640.5 518.3L624.0 523.2L602.9 519.4z"/>
<path class="y" d="M619.4 492.7L640.5 487.1L624.0 507.2L602.9 511.7z"/>
<path class="g" d="M619.4 384.9L640.5 369.1L624.0 373.9L602.9 389.8z"/>
<path class="rs" d="M602.9 519.4L608.2 520.3L604.1 521.6L598.8 520.6z"/>
<path class="e" d="M602.9 519.4L608.2 520.3M598.8 520.6L602.9 519.4"/>
<path class="ys" d="M602.9 511.7L608.2 510.6L604.1 514.7L598.8 515.8z"/>
<path class="e" d="M602.9 511.7L608.2 510.6M598.8 515.8L602.9 511.7"/>
<path class="gs" d="M602.9 389.8L608.2 385.8L604.1 387.0L598.8 391.0z"/>
<path class="e" d="M602.9 389.8L608.2 385.8M598.8 391.0L602.9 389.8"/>
<path class="rs" d="M598.8 520.6L604.1 521.6L599.9 522.8L594.7 521.8z"/>
<path class="e" d="M594.7 521.8L598.8 520.6"/>
<path class="ys" d="M598.8 515.8L604.1 514.7L599.9 518.9L594.7 519.9z"/>
<path class="e" d="M594.7 519.9L598.8 515.8"/>
<path class="gs" d="M598.8 391.0L604.1 387.0L599.9 388.3L594.7 392.2z"/>
<path class="e" d="M594.7 392.2L598.8 391.0"/>
<path class="rs" d="M594.7 521.8L599.9 522.8L595.8 524.0L590.5 523.0z"/>
<path class="e" d="M590.5 523.0L594.7 521.8"/>
<path class="ys" d="M594.7 519.9L599.9 518.9L595.8 523.1L590.5 524.1z"/>
<path class="e" d="M590.5 524.1L594.7 519.9"/>
<path class="gs" d="M594.7 392.2L599.9 388.3L595.8 389.5L590.5 393.4z"/>
<path class="e" d="M590.5 393.4L594.7 392.2"/>
<path class="ys" d="M590.5 524.1L595.8 523.1L591.7 527.3L586.4 528.2z"/>
<path class="e" d="M591.7 527.3L586.4 528.2M586.4 528.2L590.5 524.1"/>
<path class="rs" d="M590.5 523.0L595.8 524.0L591.7 525.2L586.4 524.3z"/>
<path class="e" d="M591.7 525.2L586.4 524.3M586.4 524.3L590.5 523.0"/>
<path class="gs" d="M590.5 393.4L595.8 389.5L591.7 390.7L586.4 394.7z"/>
<path class="e" d="M591.7 390.7L586.4 394.7M586.4 394.7L590.5 393.4"/>
<path class="rs" d="M608.2 520.3L613.5 521.3L609.3 522.5L604.1 521.6z"/>
<path class="e" d="M608.2 520.3L613.5 521.3"/>
<path class="ys" d="M608.2 510.6L613.5 509.4L609.3 513.7L604.1 514.7z"/>
<path class="e" d="M608.2 510.6L613.5 509.4"/>
<path class="gs" d="M608.2 385.8L613.5 381.9L609.3 383.1L604.1 387.0z"/>
<path class="e" d="M608.2 385.8L613.5 381.9"/>
<path class="rs" d="M604.1 521.6L609.3 522.5L605.2 523.7L599.9 522.8z"/>
<path class="ys" d="M604.1 514.7L609.3 513.7L605.2 517.9L599.9 518.9z"/>
<path class="gs" d="M604.1 387.0L609.3 383.1L605.2 384.3L599.9 388.3z"/>
<path class="rs" d="M599.9 522.8L605.2 523.7L601.1 524.9L595.8 524.0z"/>
<path class="ys" d="M599.9 518.9L605.2 517.9L601.1 522.1L595.8 523.1z"/>
<path class="gs" d="M599.9 388.3L605.2 384.3L601.1 385.5L595.8 389.5z"/>
<path class="rs" d="M595.8 524.0L601.1 524.9L597.0 526.1L591.7 525.2z"/>
<path class="e" d="M597.0 526.1L591.7 525.2"/>
<path class="ys" d="M595.8 523.1L601.1 522.1L597.0 526.4L591.7 527.3z"/>
<path class="e" d="M597.0 526.4L591.7 527.3"/>
<path class="gs" d="M595.8 389.5L601.1 385.5L597.0 386.7L591.7 390.7z"/>
<path class="e" d="M597.0 386.7L591.7 390.7"/>
<path class="rs" d="M613.5 521.3L618.7 522.2L614.6 523.4L609.3 522.5z"/>
<path class="e" d="M613.5 521.3L618.7 522.2"/>
<path class="ys" d="M613.5 509.4L618.7 508.3L614.6 512.6L609.3 513.7z"/>
<path class="e" d="M613.5 509.4L618.7 508.3"/>
<path class="gs" d="M613.5 381.9L618.7 377.9L614.6 379.1L609.3 383.1z"/>
<path class="e" d="M613.5 381.9L618.7 377.9"/>
<path class="rs" d="M609.3 522.5L614.6 523.4L610.5 524.7L605.2 523.7z"/>
<path class="ys" d="M609.3 513.7L614.6 512.6L610.5 516.9L605.2 517.9z"/>
<path class="gs" d="M609.3 383.1L614.6 379.1L610.5 380.3L605.2 384.3z"/>
<path class="rs" d="M605.2 523.7L610.5 524.7L606.4 525.9L601.1 524.9z"/>
<path class="ys" d="M605.2 517.9L610.5 516.9L606.4 521.2L601.1 522.1z"/>
<path class="gs" d="M605.2 384.3L610.5 380.3L606.4 381.6L601.1 385.5z"/>
<path class="rs" d="M601.1 524.9L606.4 525.9L602.2 527.1L597.0 526.1z"/>
<path class="e" d="M602.2 527.1L597.0 526.1"/>
<path class="ys" d="M601.1 522.1L606.4 521.2L602.2 525.5L597.0 526.4z"/>
<path class="e" d="M602.2 525.5L597.0 526.4"/>
<path class="gs" d="M601.1 385.5L606.4 381.6L602.2 382.8L597.0 386.7z"/>
<path class="e" d="M602.2 382.8L597.0 386.7"/>
<path class="rs" d="M618.7 522.2L624.0 523.2L619.9 524.4L614.6 523.4z"/>
<path class="e" d="M618.7 522.2L624.0 523.2M624.0 523.2L619.9 524.4"/>
<path class="ys" d="M618.7 508.3L624.0 507.2L619.9 511.5L614.6 512.6z"/>
<path class="e" d="M618.7 508.3L624.0 507.2M624.0 507.2L619.9 511.5"/>
<path class="gs" d="M618.7 377.9L624.0 373.9L619.9 375.2L614.6 379.1z"/>
<path class="e" d="M618.7 377.9L624.0 373.9M624.0 373.9L619.9 375.2"/>
<path class="rs" d="M614.6 523.4L619.9 524.4L615.8 525.6L610.5 524.7z"/>
<path class="e" d="M619.9 524.4L615.8 525.6"/>
<path class="ys" d="M614.6 512.6L619.9 511.5L615.8 515.9L610.5 516.9z"/>
<path class="e" d="M619.9 511.5L615.8 515.9"/>
<path class="gs" d="M614.6 379.1L619.9 375.2L615.8 376.4L610.5 380.3z"/>
<path class="e" d="M619.9 375.2L615.8 376.4"/>
<path class="rs" d="M610.5 524.7L615.8 525.6L611.6 526.8L606.4 525.9z"/>
<path class="e" d="M615.8 525.6L611.6 526.8"/>
<path class="ys" d="M610.5 516.9L615.8 515.9L611.6 520.2L606.4 521.2z"/>
<path class="e" d="M615.8 515.9L611.6 520.2"/>
<path class="gs" d="M610.5 380.3L615.8 376.4L611.6 377.6L606.4 381.6z"/>
<path class="e" d="M615.8 376.4L611.6 377.6"/>
<path class="rs" d="M606.4 525.9L611.6 526.8L607.5 528.0L602.2 527.1z"/>
<path class="e" d="M611.6 526.8L607.5 528.0M607.5 528.0L602.2 527.1"/>
<path class="ys" d="M606.4 521.2L611.6 520.2L607.5 524.5L602.2 525.5z"/>
<path class="e" d="M611.6 520.2L607.5 524.5M607.5 524.5L602.2 525.5"/>
<path class="gs" d="M606.4 381.6L611.6 377.6L607.5 378.8L602.2 382.8z"/>
<path class="e" d="M611.6 377.6L607.5 378.8M607.5 378.8L602.2 382.8"/>
<path class="ys" d="M586.4 528.2L591.7 527.3L587.6 531.0L582.3 531.9z"/>
<path class="e" d="M586.4 528.2L591.7 527.3M582.3 531.9L586.4 528.2"/>
<path class="rs" d="M586.4 524.3L591.7 525.2L587.6 526.4L582.3 525.5z"/>
<path class="e" d="M586.4 524.3L591.7 525.2M582.3 525.5L586.4 524.3"/>
<path class="gs" d="M586.4 394.7L591.7 390.7L587.6 391.9L582.3 395.9z"/>
<path class="e" d="M586.4 394.7L591.7 390.7M582.3 395.9L586.4 394.7"/>
<path class="ys" d="M582.3 531.9L587.6 531.0L583.4 534.7L578.2 535.5z"/>
<path class="e" d="M578.2 535.5L582.3 531.9"/>
<path class="rs" d="M582.3 525.5L587.6 526.4L583.4 527.6L578.2 526.7z"/>
<path class="e" d="M578.2 526.7L582.3 525.5"/>
<path class="gs" d="M582.3 395.9L587.6 391.9L583.4 393.1L578.2 397.1z"/>
<path class="e" d="M578.2 397.1L582.3 395.9"/>
<path class="ys" d="M578.2 535.5L583.4 534.7L579.3 538.4L574.0 539.2z"/>
<path class="e" d="M574.0 539.2L578.2 535.5"/>
<path class="rs" d="M578.2 526.7L583.4 527.6L579.3 528.9L574.0 527.9z"/>
<path class="e" d="M574.0 527.9L578.2 526.7"/>
<path class="gs" d="M578.2 397.1L583.4 393.1L579.3 394.3L574.0 398.3z"/>
<path class="e" d="M574.0 398.3L578.2 397.1"/>
<path class="ys" d="M574.0 539.2L579.3 538.4L575.2 542.1L569.9 542.9z"/>
<path class="e" d="M575.2 542.1L569.9 542.9M569.9 542.9L574.0 539.2"/>
<path class="rs" d="M574.0 527.9L579.3 528.9L575.2 530.1L569.9 529.1z"/>
<path class="e" d="M575.2 530.1L569.9 529.1M569.9 529.1L574.0 527.9"/>
<path class="gs" d="M574.0 398.3L579.3 394.3L575.2 395.6L569.9 399.5z"/>
<path class="e" d="M575.2 395.6L569.9 399.5M569.9 399.5L574.0 398.3"/>
<path class="ys" d="M591.7 527.3L597.0 526.4L592.8 530.1L587.6 531.0z"/>
<path class="e" d="M591.7 527.3L597.0 526.4"/>
<path class="rs" d="M591.7 525.2L597.0 526.1L592.8 527.4L587.6 526.4z"/>
<path class="e" d="M591.7 525.2L597.0 526.1"/>
<path class="gs" d="M591.7 390.7L597.0 386.7L592.8 388.0L587.6 391.9z"/>
<path class="e" d="M591.7 390.7L597.0 386.7"/>
<path class="ys" d="M587.6 531.0L592.8 530.1L588.7 533.9L583.4 534.7z"/>
<path class="rs" d="M587.6 526.4L592.8 527.4L588.7 528.6L583.4 527.6z"/>
<path class="gs" d="M587.6 391.9L592.8 388.0L588.7 389.2L583.4 393.1z"/>
<path class="ys" d="M583.4 534.7L588.7 533.9L584.6 537.6L579.3 538.4z"/>
<path class="rs" d="M583.4 527.6L588.7 528.6L584.6 529.8L579.3 528.9z"/>
<path class="gs" d="M583.4 393.1L588.7 389.2L584.6 390.4L579.3 394.3z"/>
<path class="ys" d="M579.3 538.4L584.6 537.6L580.5 541.4L575.2 542.1z"/>
<path class="e" d="M580.5 541.4L575.2 542.1"/>
<path class="rs" d="M579.3 528.9L584.6 529.8L580.5 531.0L575.2 530.1z"/>
<path class="e" d="M580.5 531.0L575.2 530.1"/>
<path class="gs" d="M579.3 394.3L584.6 390.4L580.5 391.6L575.2 395.6z"/>
<path class="e" d="M580.5 391.6L575.2 395.6"/>
<path class="ys" d="M597.0 526.4L602.2 525.5L598.1 529.2L592.8 530.1z"/>
<path class="e" d="M597.0 526.4L602.2 525.5"/>
<path class="rs" d="M597.0 526.1L602.2 527.1L598.1 528.3L592.8 527.4z"/>
<path class="e" d="M597.0 526.1L602.2 527.1"/>
<path class="gs" d="M597.0 386.7L602.2 382.8L598.1 384.0L592.8 388.0z"/>
<path class="e" d="M597.0 386.7L602.2 382.8"/>
<path class="ys" d="M592.8 530.1L598.1 529.2L594.0 533.0L588.7 533.9z"/>
<path class="rs" d="M592.8 527.4L598.1 528.3L594.0 529.5L588.7 528.6z"/>
<path class="gs" d="M592.8 388.0L598.1 384.0L594.0 385.2L588.7 389.2z"/>
<path class="ys" d="M588.7 533.9L594.0 533.0L589.9 536.8L584.6 537.6z"/>
<path class="rs" d="M588.7 528.6L594.0 529.5L589.9 530.7L584.6 529.8z"/>
<path class="gs" d="M588.7 389.2L594.0 385.2L589.9 386.4L584.6 390.4z"/>
<path class="ys" d="M584.6 537.6L589.9 536.8L585.7 540.6L580.5 541.4z"/>
<path class="e" d="M585.7 540.6L580.5 541.4"/>
<path class="rs" d="M584.6 529.8L589.9 530.7L585.7 532.0L580.5 531.0z"/>
<path class="e" d="M585.7 532.0L580.5 531.0"/>
<path class="gs" d="M584.6 390.4L589.9 386.4L585.7 387.6L580.5 391.6z"/>
<path class="e" d="M585.7 387.6L580.5 391.6"/>
<path class="rs" d="M602.2 527.1L607.5 528.0L603.4 529.3L598.1 528.3z"/>
<path class="e" d="M602.2 527.1L607.5 528.0M607.5 528.0L603.4 529.3"/>
<path class="ys" d="M602.2 525.5L607.5 524.5L603.4 528.4L598.1 529.2z"/>
<path class="e" d="M602.2 525.5L607.5 524.5M607.5 524.5L603.4 528.4"/>
<path class="gs" d="M602.2 382.8L607.5 378.8L603.4 380.0L598.1 384.0z"/>
<path class="e" d="M602.2 382.8L607.5 378.8M607.5 378.8L603.4 380.0"/>
<path class="ys" d="M598.1 529.2L603.4 528.4L599.3 532.2L594.0 533.0z"/>
<path class="e" d="M603.4 528.4L599.3 532.2"/>
<path class="rs" d="M598.1 528.3L603.4 529.3L599.3 530.5L594.0 529.5z"/>
<path class="e" d="M603.4 529.3L599.3 530.5"/>
<path class="gs" d="M598.1 384.0L603.4 380.0L599.3 381.2L594.0 385.2z"/>
<path class="e" d="M603.4 380.0L599.3 381.2"/>
<path class="ys" d="M594.0 533.0L599.3 532.2L595.1 536.0L589.9 536.8z"/>
<path class="e" d="M599.3 532.2L595.1 536.0"/>
<path class="rs" d="M594.0 529.5L599.3 530.5L595.1 531.7L589.9 530.7z"/>
<path class="e" d="M599.3 530.5L595.1 531.7"/>
<path class="gs" d="M594.0 385.2L599.3 381.2L595.1 382.5L589.9 386.4z"/>
<path class="e" d="M599.3 381.2L595.1 382.5"/>
<path class="ys" d="M589.9 536.8L595.1 536.0L591.0 539.9L585.7 540.6z"/>
<path class="e" d="M595.1 536.0L591.0 539.9M591.0 539.9L585.7 540.6"/>
<path class="rs" d="M589.9 530.7L595.1 531.7L591.0 532.9L585.7 532.0z"/>
<path class="e" d="M595.1 531.7L591.0 532.9M591.0 532.9L585.7 532.0"/>
<path class="gs" d="M589.9 386.4L595.1 382.5L591.0 383.7L585.7 387.6z"/>
<path class="e" d="M595.1 382.5L591.0 383.7M591.0 383.7L585.7 387.6"/>
<path class="y" d="M569.9 542.9L591.0 539.9L574.5 553.6L553.4 556.1z"/>
<path class="r" d="M569.9 529.1L591.0 532.9L574.5 537.8L553.4 534.0z"/>
<path class="g" d="M569.9 399.5L591.0 383.7L574.5 388.5L553.4 404.4z"/>
<path class="y" d="M553.4 556.1L574.5 553.6L558.0 566.1L536.9 568.1z"/>
<path class="r" d="M553.4 534.0L574.5 537.8L558.0 542.6L536.9 538.9z"/>
<path class="g" d="M553.4 404.4L574.5 388.5L558.0 393.4L536.9 409.3z"/>
<path class="y" d="M536.9 568.1L558.0 566.1L541.5 577.6L520.4 579.3z"/>
<path class="r" d="M536.9 538.9L558.0 542.6L541.5 547.5L520.4 543.7z"/>
<path class="g" d="M536.9 409.3L558.0 393.4L541.5 398.3L520.4 414.1z"/>
<path class="y" d="M520.4 579.3L541.5 577.6L525.0 588.3L503.9 589.7z"/>
<path class="r" d="M520.4 543.7L541.5 547.5L525.0 552.4L503.9 548.6z"/>
<path class="g" d="M520.4 414.1L541.5 398.3L525.0 403.1L503.9 419.0z"/>
<path class="y" d="M503.9 589.7L525.0 588.3L508.5 598.3L487.4 599.4z"/>
<path class="r" d="M503.9 548.6L525.0 552.4L508.5 557.2L487.4 553.4z"/>
<path class="g" d="M503.9 419.0L525.0 403.1L508.5 408.0L487.4 423.8z"/>
<path class="y" d="M487.4 599.4L508.5 598.3L492.0 607.8L471.0 608.6z"/>
<path class="r" d="M487.4 553.4L508.5 557.2L492.0 562.1L471.0 558.3z"/>
<path class="g" d="M487.4 423.8L508.5 408.0L492.0 412.9L471.0 428.7z"/>
<path class="y" d="M471.0 608.6L492.0 607.8L475.6 616.8L454.5 617.4z"/>
<path class="r" d="M471.0 558.3L492.0 562.1L475.6 567.0L454.5 563.2z"/>
<path class="g" d="M471.0 428.7L492.0 412.9L475.6 417.7L454.5 433.6z"/>
<path class="y" d="M454.5 617.4L475.6 616.8L459.1 625.4L438.0 625.8z"/>
<path class="r" d="M454.5 563.2L475.6 567.0L459.1 571.8L438.0 568.0z"/>
<path class="g" d="M454.5 433.6L475.6 417.7L459.1 422.6L438.0 438.4z"/>
<path class="y" d="M438.0 625.8L459.1 625.4L442.6 633.6L421.5 633.8z"/>
<path class="r" d="M438.0 568.0L459.1 571.8L442.6 576.7L421.5 572.9z"/>
<path class="g" d="M438.0 438.4L459.1 422.6L442.6 427.5L421.5 443.3z"/>
<path class="y" d="M421.5 633.8L442.6 633.6L426.1 641.5L405.0 641.6z"/>
<path class="r" d="M421.5 572.9L442.6 576.7L426.1 581.6L405.0 577.8z"/>
<path class="g" d="M421.5 443.3L442.6 427.5L426.1 432.3L405.0 448.2z"/>
<path class="y" d="M405.0 641.6L426.1 641.5L409.6 649.2L388.5 649.2z"/>
<path class="r" d="M405.0 577.8L426.1 581.6L409.6 586.4L388.5 582.6z"/>
<path class="g" d="M405.0 448.2L426.1 432.3L409.6 437.2L388.5 453.0z"/>
<path class="y" d="M388.5 649.2L409.6 649.2L393.1 656.6L372.0 656.5z"/>
<path class="r" d="M388.5 582.6L409.6 586.4L393.1 591.3L372.0 587.5z"/>
<path class="g" d="M388.5 453.0L409.6 437.2L393.1 442.1L372.0 457.9z"/>
<path class="y" d="M372.0 656.5L393.1 656.6L376.6 663.8L355.5 663.6z"/>
<path class="r" d="M372.0 587.5L393.1 591.3L376.6 596.2L355.5 592.4z"/>
<path class="g" d="M372.0 457.9L393.1 442.1L376.6 446.9L355.5 462.8z"/>
<path class="r" d="M706.5 498.9L727.6 502.6L711.1 507.5L690.0 503.7z"/>
<path class="y" d="M706.5 349.6L727.6 331.5L711.1 384.9L690.0 398.1z"/>
<path class="g" d="M706.5 349.6L727.6 331.5L711.1 336.3L690.0 354.5z"/>
<path class="r" d="M690.0 503.7L711.1 507.5L694.6 512.4L673.5 508.6z"/>
<path class="y" d="M690.0 398.1L711.1 384.9L694.6 424.5L673.5 434.6z"/>
<path class="g" d="M690.0 354.5L711.1 336.3L694.6 341.2L673.5 359.3z"/>
<path class="r" d="M673.5 508.6L694.6 512.4L678.1 517.2L657.0 513.4z"/>
<path class="y" d="M673.5 434.6L694.6 424.5L678.1 455.6L657.0 463.4z"/>
<path class="g" d="M673.5 359.3L694.6 341.2L678.1 346.1L657.0 364.2z"/>
<path class="r" d="M657.0 513.4L678.1 517.2L661.6 522.1L640.5 518.3z"/>
<path class="y" d="M657.0 463.4L678.1 455.6L661.6 480.9L640.5 487.1z"/>
<path class="g" d="M657.0 364.2L678.1 346.1L661.6 350.9L640.5 369.1z"/>
<path class="r" d="M640.5 518.3L661.6 522.1L645.1 527.0L624.0 523.2z"/>
<path class="y" d="M640.5 487.1L661.6 480.9L645.1 502.1L624.0 507.2z"/>
<path class="g" d="M640.5 369.1L661.6 350.9L645.1 355.8L624.0 373.9z"/>
<path class="r" d="M624.0 523.2L645.1 527.0L628.6 531.8L607.5 528.0z"/>
<path class="y" d="M624.0 507.2L645.1 502.1L628.6 520.4L607.5 524.5z"/>
<path class="g" d="M624.0 373.9L645.1 355.8L628.6 360.6L607.5 378.8z"/>
<path class="rs" d="M607.5 528.0L612.8 529.0L608.7 530.2L603.4 529.3z"/>
<path class="e" d="M607.5 528.0L612.8 529.0M603.4 529.3L607.5 528.0"/>
<path class="ys" d="M607.5 524.5L612.8 523.5L608.7 527.4L603.4 528.4z"/>
<path class="e" d="M607.5 524.5L612.8 523.5M603.4 528.4L607.5 524.5"/>
<path class="gs" d="M607.5 378.8L612.8 374.3L608.7 375.5L603.4 380.0z"/>
<path class="e" d="M607.5 378.8L612.8 374.3M603.4 380.0L607.5 378.8"/>
<path class="rs" d="M603.4 529.3L608.7 530.2L604.5 531.4L599.3 530.5z"/>
<path class="e" d="M599.3 530.5L603.4 529.3"/>
<path class="ys" d="M603.4 528.4L608.7 527.4L604.5 531.3L599.3 532.2z"/>
<path class="e" d="M599.3 532.2L603.4 528.4"/>
<path class="gs" d="M603.4 380.0L608.7 375.5L604.5 376.7L599.3 381.2z"/>
<path class="e" d="M599.3 381.2L603.4 380.0"/>
<path class="ys" d="M599.3 532.2L604.5 531.3L600.4 535.1L595.1 536.0z"/>
<path class="e" d="M595.1 536.0L599.3 532.2"/>
<path class="rs" d="M599.3 530.5L604.5 531.4L600.4 532.6L595.1 531.7z"/>
<path class="e" d="M595.1 531.7L599.3 530.5"/>
<path class="gs" d="M599.3 381.2L604.5 376.7L600.4 377.9L595.1 382.5z"/>
<path class="e" d="M595.1 382.5L599.3 381.2"/>
<path class="ys" d="M595.1 536.0L600.4 535.1L596.3 539.0L591.0 539.9z"/>
<path class="e" d="M596.3 539.0L591.0 539.9M591.0 539.9L595.1 536.0"/>
<path class="rs" d="M595.1 531.7L600.4 532.6L596.3 533.9L591.0 532.9z"/>
<path class="e" d="M596.3 533.9L591.0 532.9M591.0 532.9L595.1 531.7"/>
<path class="gs" d="M595.1 382.5L600.4 377.9L596.3 379.1L591.0 383.7z"/>
<path class="e" d="M596.3 379.1L591.0 383.7M591.0 383.7L595.1 382.5"/>
<path class="rs" d="M612.8 529.0L618.1 529.9L613.9 531.2L608.7 530.2z"/>
<path class="e" d="M612.8 529.0L618.1 529.9"/>
<path class="ys" d="M612.8 523.5L618.1 522.5L613.9 526.4L608.7 527.4z"/>
<path class="e" d="M612.8 523.5L618.1 522.5"/>
<path class="gs" d="M612.8 374.3L618.1 369.7L613.9 370.9L608.7 375.5z"/>
<path class="e" d="M612.8 374.3L618.1 369.7"/>
<path class="rs" d="M608.7 530.2L613.9 531.2L609.8 532.4L604.5 531.4z"/>
<path class="ys" d="M608.7 527.4L613.9 526.4L609.8 530.3L604.5 531.3z"/>
<path class="gs" d="M608.7 375.5L613.9 370.9L609.8 372.2L604.5 376.7z"/>
<path class="ys" d="M604.5 531.3L609.8 530.3L605.7 534.2L600.4 535.1z"/>
<path class="rs" d="M604.5 531.4L609.8 532.4L605.7 533.6L600.4 532.6z"/>
<path class="gs" d="M604.5 376.7L609.8 372.2L605.7 373.4L600.4 377.9z"/>
<path class="ys" d="M600.4 535.1L605.7 534.2L601.6 538.1L596.3 539.0z"/>
<path class="e" d="M601.6 538.1L596.3 539.0"/>
<path class="rs" d="M600.4 532.6L605.7 533.6L601.6 534.8L596.3 533.9z"/>
<path class="e" d="M601.6 534.8L596.3 533.9"/>
<path class="gs" d="M600.4 377.9L605.7 373.4L601.6 374.6L596.3 379.1z"/>
<path class="e" d="M601.6 374.6L596.3 379.1"/>
<path class="rs" d="M618.1 529.9L623.3 530.9L619.2 532.1L613.9 531.2z"/>
<path class="e" d="M618.1 529.9L623.3 530.9"/>
<path class="ys" d="M618.1 522.5L623.3 521.4L619.2 525.4L613.9 526.4z"/>
<path class="e" d="M618.1 522.5L623.3 521.4"/>
<path class="gs" d="M618.1 369.7L623.3 365.2L619.2 366.4L613.9 370.9z"/>
<path class="e" d="M618.1 369.7L623.3 365.2"/>
<path class="rs" d="M613.9 531.2L619.2 532.1L615.1 533.3L609.8 532.4z"/>
<path class="ys" d="M613.9 526.4L619.2 525.4L615.1 529.3L609.8 530.3z"/>
<path class="gs" d="M613.9 370.9L619.2 366.4L615.1 367.6L609.8 372.2z"/>
<path class="rs" d="M609.8 532.4L615.1 533.3L611.0 534.5L605.7 533.6z"/>
<path class="ys" d="M609.8 530.3L615.1 529.3L611.0 533.3L605.7 534.2z"/>
<path class="gs" d="M609.8 372.2L615.1 367.6L611.0 368.8L605.7 373.4z"/>
<path class="ys" d="M605.7 534.2L611.0 533.3L606.8 537.3L601.6 538.1z"/>
<path class="e" d="M606.8 537.3L601.6 538.1"/>
<path class="rs" d="M605.7 533.6L611.0 534.5L606.8 535.7L601.6 534.8z"/>
<path class="e" d="M606.8 535.7L601.6 534.8"/>
<path class="gs" d="M605.7 373.4L611.0 368.8L606.8 370.1L601.6 374.6z"/>
<path class="e" d="M606.8 370.1L601.6 374.6"/>
<path class="rs" d="M623.3 530.9L628.6 531.8L624.5 533.0L619.2 532.1z"/>
<path class="e" d="M623.3 530.9L628.6 531.8M628.6 531.8L624.5 533.0"/>
<path class="ys" d="M623.3 521.4L628.6 520.4L624.5 524.4L619.2 525.4z"/>
<path class="e" d="M623.3 521.4L628.6 520.4M628.6 520.4L624.5 524.4"/>
<path class="gs" d="M623.3 365.2L628.6 360.6L624.5 361.9L619.2 366.4z"/>
<path class="e" d="M623.3 365.2L628.6 360.6M628.6 360.6L624.5 361.9"/>
<path class="rs" d="M619.2 532.1L624.5 533.0L620.4 534.3L615.1 533.3z"/>
<path class="e" d="M624.5 533.0L620.4 534.3"/>
<path class="ys" d="M619.2 525.4L624.5 524.4L620.4 528.4L615.1 529.3z"/>
<path class="e" d="M624.5 524.4L620.4 528.4"/>
<path class="gs" d="M619.2 366.4L624.5 361.9L620.4 363.1L615.1 367.6z"/>
<path class="e" d="M624.5 361.9L620.4 363.1"/>
<path class="rs" d="M615.1 533.3L620.4 534.3L616.2 535.5L611.0 534.5z"/>
<path class="e" d="M620.4 534.3L616.2 535.5"/>
<path class="ys" d="M615.1 529.3L620.4 528.4L616.2 532.4L611.0 533.3z"/>
<path class="e" d="M620.4 528.4L616.2 532.4"/>
<path class="gs" d="M615.1 367.6L620.4 363.1L616.2 364.3L611.0 368.8z"/>
<path class="e" d="M620.4 363.1L616.2 364.3"/>
<path class="rs" d="M611.0 534.5L616.2 535.5L612.1 536.7L606.8 535.7z"/>
<path class="e" d="M616.2 535.5L612.1 536.7M612.1 536.7L606.8 535.7"/>
<path class="ys" d="M611.0 533.3L616.2 532.4L612.1 536.4L606.8 537.3z"/>
<path class="e" d="M616.2 532.4L612.1 536.4M612.1 536.4L606.8 537.3"/>
<path class="gs" d="M611.0 368.8L616.2 364.3L612.1 365.5L606.8 370.1z"/>
<path class="e" d="M616.2 364.3L612.1 365.5M612.1 365.5L606.8 370.1"/>
<path class="ys" d="M591.0 539.9L596.3 539.0L592.2 542.5L586.9 543.3z"/>
<path class="e" d="M591.0 539.9L596.3 539.0M586.9 543.3L591.0 539.9"/>
<path class="rs" d="M591.0 532.9L596.3 533.9L592.2 535.1L586.9 534.1z"/>
<path class="e" d="M591.0 532.9L596.3 533.9M586.9 534.1L591.0 532.9"/>
<path class="gs" d="M591.0 383.7L596.3 379.1L592.2 380.3L586.9 384.9z"/>
<path class="e" d="M591.0 383.7L596.3 379.1M586.9 384.9L591.0 383.7"/>
<path class="ys" d="M586.9 543.3L592.2 542.5L588.0 546.0L582.8 546.7z"/>
<path class="e" d="M582.8 546.7L586.9 543.3"/>
<path class="rs" d="M586.9 534.1L592.2 535.1L588.0 536.3L582.8 535.3z"/>
<path class="e" d="M582.8 535.3L586.9 534.1"/>
<path class="gs" d="M586.9 384.9L592.2 380.3L588.0 381.6L582.8 386.1z"/>
<path class="e" d="M582.8 386.1L586.9 384.9"/>
<path class="ys" d="M582.8 546.7L588.0 546.0L583.9 549.4L578.6 550.2z"/>
<path class="e" d="M578.6 550.2L582.8 546.7"/>
<path class="rs" d="M582.8 535.3L588.0 536.3L583.9 537.5L578.6 536.6z"/>
<path class="e" d="M578.6 536.6L582.8 535.3"/>
<path class="gs" d="M582.8 386.1L588.0 381.6L583.9 382.8L578.6 387.3z"/>
<path class="e" d="M578.6 387.3L582.8 386.1"/>
<path class="ys" d="M578.6 550.2L583.9 549.4L579.8 552.9L574.5 553.6z"/>
<path class="e" d="M579.8 552.9L574.5 553.6M574.5 553.6L578.6 550.2"/>
<path class="rs" d="M578.6 536.6L583.9 537.5L579.8 538.7L574.5 537.8z"/>
<path class="e" d="M579.8 538.7L574.5 537.8M574.5 537.8L578.6 536.6"/>
<path class="gs" d="M578.6 387.3L583.9 382.8L579.8 384.0L574.5 388.5z"/>
<path class="e" d="M579.8 384.0L574.5 388.5M574.5 388.5L578.6 387.3"/>
<path class="ys" d="M596.3 539.0L601.6 538.1L597.4 541.7L592.2 542.5z"/>
<path class="e" d="M596.3 539.0L601.6 538.1"/>
<path class="rs" d="M596.3 533.9L601.6 534.8L597.4 536.0L592.2 535.1z"/>
<path class="e" d="M596.3 533.9L601.6 534.8"/>
<path class="gs" d="M596.3 379.1L601.6 374.6L597.4 375.8L592.2 380.3z"/>
<path class="e" d="M596.3 379.1L601.6 374.6"/>
<path class="ys" d="M592.2 542.5L597.4 541.7L593.3 545.2L588.0 546.0z"/>
<path class="rs" d="M592.2 535.1L597.4 536.0L593.3 537.2L588.0 536.3z"/>
<path class="gs" d="M592.2 380.3L597.4 375.8L593.3 377.0L588.0 381.6z"/>
<path class="ys" d="M588.0 546.0L593.3 545.2L589.2 548.7L583.9 549.4z"/>
<path class="rs" d="M588.0 536.3L593.3 537.2L589.2 538.4L583.9 537.5z"/>
<path class="gs" d="M588.0 381.6L593.3 377.0L589.2 378.2L583.9 382.8z"/>
<path class="ys" d="M583.9 549.4L589.2 548.7L585.1 552.2L579.8 552.9z"/>
<path class="e" d="M585.1 552.2L579.8 552.9"/>
<path class="rs" d="M583.9 537.5L589.2 538.4L585.1 539.7L579.8 538.7z"/>
<path class="e" d="M585.1 539.7L579.8 538.7"/>
<path class="gs" d="M583.9 382.8L589.2 378.2L585.1 379.5L579.8 384.0z"/>
<path class="e" d="M585.1 379.5L579.8 384.0"/>
<path class="ys" d="M601.6 538.1L606.8 537.3L602.7 540.8L597.4 541.7z"/>
<path class="e" d="M601.6 538.1L606.8 537.3"/>
<path class="rs" d="M601.6 534.8L606.8 535.7L602.7 537.0L597.4 536.0z"/>
<path class="e" d="M601.6 534.8L606.8 535.7"/>
<path class="gs" d="M601.6 374.6L606.8 370.1L602.7 371.3L597.4 375.8z"/>
<path class="e" d="M601.6 374.6L606.8 370.1"/>
<path class="ys" d="M597.4 541.7L602.7 540.8L598.6 544.4L593.3 545.2z"/>
<path class="rs" d="M597.4 536.0L602.7 537.0L598.6 538.2L593.3 537.2z"/>
<path class="gs" d="M597.4 375.8L602.7 371.3L598.6 372.5L593.3 377.0z"/>
<path class="ys" d="M593.3 545.2L598.6 544.4L594.5 547.9L589.2 548.7z"/>
<path class="rs" d="M593.3 537.2L598.6 538.2L594.5 539.4L589.2 538.4z"/>
<path class="gs" d="M593.3 377.0L598.6 372.5L594.5 373.7L589.2 378.2z"/>
<path class="ys" d="M589.2 548.7L594.5 547.9L590.3 551.5L585.1 552.2z"/>
<path class="e" d="M590.3 551.5L585.1 552.2"/>
<path class="rs" d="M589.2 538.4L594.5 539.4L590.3 540.6L585.1 539.7z"/>
<path class="e" d="M590.3 540.6L585.1 539.7"/>
<path class="gs" d="M589.2 378.2L594.5 373.7L590.3 374.9L585.1 379.5z"/>
<path class="e" d="M590.3 374.9L585.1 379.5"/>
<path class="ys" d="M606.8 537.3L612.1 536.4L608.0 540.0L602.7 540.8z"/>
<path class="e" d="M606.8 537.3L612.1 536.4M612.1 536.4L608.0 540.0"/>
<path class="rs" d="M606.8 535.7L612.1 536.7L608.0 537.9L602.7 537.0z"/>
<path class="e" d="M606.8 535.7L612.1 536.7M612.1 536.7L608.0 537.9"/>
<path class="gs" d="M606.8 370.1L612.1 365.5L608.0 366.7L602.7 371.3z"/>
<path class="e" d="M606.8 370.1L612.1 365.5M612.1 365.5L608.0 366.7"/>
<path class="ys" d="M602.7 540.8L608.0 540.0L603.9 543.6L598.6 544.4z"/>
<path class="e" d="M608.0 540.0L603.9 543.6"/>
<path class="rs" d="M602.7 537.0L608.0 537.9L603.9 539.1L598.6 538.2z"/>
<path class="e" d="M608.0 537.9L603.9 539.1"/>
<path class="gs" d="M602.7 371.3L608.0 366.7L603.9 367.9L598.6 372.5z"/>
<path class="e" d="M608.0 366.7L603.9 367.9"/>
<path class="ys" d="M598.6 544.4L603.9 543.6L599.7 547.2L594.5 547.9z"/>
<path class="e" d="M603.9 543.6L599.7 547.2"/>
<path class="rs" d="M598.6 538.2L603.9 539.1L599.7 540.3L594.5 539.4z"/>
<path class="e" d="M603.9 539.1L599.7 540.3"/>
<path class="gs" d="M598.6 372.5L603.9 367.9L599.7 369.2L594.5 373.7z"/>
<path class="e" d="M603.9 367.9L599.7 369.2"/>
<path class="ys" d="M594.5 547.9L599.7 547.2L595.6 550.8L590.3 551.5z"/>
<path class="e" d="M599.7 547.2L595.6 550.8M595.6 550.8L590.3 551.5"/>
<path class="rs" d="M594.5 539.4L599.7 540.3L595.6 541.6L590.3 540.6z"/>
<path class="e" d="M599.7 540.3L595.6 541.6M595.6 541.6L590.3 540.6"/>
<path class="gs" d="M594.5 373.7L599.7 369.2L595.6 370.4L590.3 374.9z"/>
<path class="e" d="M599.7 369.2L595.6 370.4M595.6 370.4L590.3 374.9"/>
<path class="y" d="M574.5 553.6L595.6 550.8L579.1 563.8L558.0 566.1z"/>
<path class="r" d="M574.5 537.8L595.6 541.6L579.1 546.4L558.0 542.6z"/>
<path class="g" d="M574.5 388.5L595.6 370.4L579.1 375.2L558.0 393.4z"/>
<path class="y" d="M558.0 566.1L579.1 563.8L562.6 575.7L541.5 577.6z"/>
<path class="r" d="M558.0 542.6L579.1 546.4L562.6 551.3L541.5 547.5z"/>
<path class="g" d="M558.0 393.4L579.1 375.2L562.6 380.1L541.5 398.3z"/>
<path class="y" d="M541.5 577.6L562.6 575.7L546.1 586.7L525.0 588.3z"/>
<path class="r" d="M541.5 547.5L562.6 551.3L546.1 556.2L525.0 552.4z"/>
<path class="g" d="M541.5 398.3L562.6 380.1L546.1 385.0L525.0 403.1z"/>
<path class="y" d="M525.0 588.3L546.1 586.7L529.6 597.0L508.5 598.3z"/>
<path class="r" d="M525.0 552.4L546.1 556.2L529.6 561.0L508.5 557.2z"/>
<path class="g" d="M525.0 403.1L546.1 385.0L529.6 389.8L508.5 408.0z"/>
<path class="y" d="M508.5 598.3L529.6 597.0L513.1 606.7L492.0 607.8z"/>
<path class="r" d="M508.5 557.2L529.6 561.0L513.1 565.9L492.0 562.1z"/>
<path class="g" d="M508.5 408.0L529.6 389.8L513.1 394.7L492.0 412.9z"/>
<path class="y" d="M492.0 607.8L513.1 606.7L496.6 615.9L475.6 616.8z"/>
<path class="r" d="M492.0 562.1L513.1 565.9L496.6 570.7L475.6 567.0z"/>
<path class="g" d="M492.0 412.9L513.1 394.7L496.6 399.6L475.6 417.7z"/>
<path class="y" d="M475.6 616.8L496.6 615.9L480.1 624.7L459.1 625.4z"/>
<path class="r" d="M475.6 567.0L496.6 570.7L480.1 575.6L459.1 571.8z"/>
<path class="g" d="M475.6 417.7L496.6 399.6L480.1 404.4L459.1 422.6z"/>
<path class="y" d="M459.1 625.4L480.1 624.7L463.6 633.1L442.6 633.6z"/>
<path class="r" d="M459.1 571.8L480.1 575.6L463.6 580.5L442.6 576.7z"/>
<path class="g" d="M459.1 422.6L480.1 404.4L463.6 409.3L442.6 427.5z"/>
<path class="y" d="M442.6 633.6L463.6 633.1L447.2 641.2L426.1 641.5z"/>
<path class="r" d="M442.6 576.7L463.6 580.5L447.2 585.3L426.1 581.6z"/>
<path class="g" d="M442.6 427.5L463.6 409.3L447.2 414.2L426.1 432.3z"/>
<path class="y" d="M426.1 641.5L447.2 641.2L430.7 649.0L409.6 649.2z"/>
<path class="r" d="M426.1 581.6L447.2 585.3L430.7 590.2L409.6 586.4z"/>
<path class="g" d="M426.1 432.3L447.2 414.2L430.7 419.0L409.6 437.2z"/>
<path class="y" d="M409.6 649.2L430.7 649.0L414.2 656.6L393.1 656.6z"/>
<path class="r" d="M409.6 586.4L430.7 590.2L414.2 595.1L393.1 591.3z"/>
<path class="g" d="M409.6 437.2L430.7 419.0L414.2 423.9L393.1 442.1z"/>
<path class="y" d="M393.1 656.6L414.2 656.6L397.7 663.9L376.6 663.8z"/>
<path class="r" d="M393.1 591.3L414.2 595.1L397.7 599.9L376.6 596.2z"/>
<path class="g" d="M393.1 442.1L414.2 423.9L397.7 428.8L376.6 446.9z"/>
<path class="r" d="M727.6 502.6L748.7 506.4L732.2 511.3L711.1 507.5z"/>
<path class="y" d="M727.6 331.5L748.7 310.6L732.2 369.8L711.1 384.9z"/>
<path class="g" d="M727.6 331.5L748.7 310.6L732.2 315.4L711.1 336.3z"/>
<path class="r" d="M711.1 507.5L732.2 511.3L715.7 516.2L694.6 512.4z"/>
<path class="y" d="M711.1 384.9L732.2 369.8L715.7 413.1L694.6 424.5z"/>
<path class="g" d="M711.1 336.3L732.2 315.4L715.7 320.3L694.6 341.2z"/>
<path class="r" d="M694.6 512.4L715.7 516.2L699.2 521.0L678.1 517.2z"/>
<path class="y" d="M694.6 424.5L715.7 413.1L699.2 446.7L678.1 455.6z"/>
<path class="g" d="M694.6 341.2L715.7 320.3L699.2 325.1L678.1 346.1z"/>
<path class="r" d="M678.1 517.2L699.2 521.0L682.7 525.9L661.6 522.1z"/>
<path class="y" d="M678.1 455.6L699.2 446.7L682.7 473.8L661.6 480.9z"/>
<path class="g" d="M678.1 346.1L699.2 325.1L682.7 330.0L661.6 350.9z"/>
<path class="r" d="M661.6 522.1L682.7 525.9L666.2 530.7L645.1 527.0z"/>
<path class="y" d="M661.6 480.9L682.7 473.8L666.2 496.3L645.1 502.1z"/>
<path class="g" d="M661.6 350.9L682.7 330.0L666.2 334.9L645.1 355.8z"/>
<path class="r" d="M645.1 527.0L666.2 530.7L649.7 535.6L628.6 531.8z"/>
<path class="y" d="M645.1 502.1L666.2 496.3L649.7 515.6L628.6 520.4z"/>
<path class="g" d="M645.1 355.8L666.2 334.9L649.7 339.7L628.6 360.6z"/>
<path class="r" d="M628.6 531.8L649.7 535.6L633.2 540.5L612.1 536.7z"/>
<path class="y" d="M628.6 520.4L649.7 515.6L633.2 532.5L612.1 536.4z"/>
<path class="g" d="M628.6 360.6L649.7 339.7L633.2 344.6L612.1 365.5z"/>
<path class="rs" d="M612.1 536.7L617.4 537.6L613.3 538.9L608.0 537.9z"/>
<path class="e" d="M612.1 536.7L617.4 537.6M608.0 537.9L612.1 536.7"/>
<path class="ys" d="M612.1 536.4L617.4 535.4L613.3 539.1L608.0 540.0z"/>
<path class="e" d="M612.1 536.4L617.4 535.4M608.0 540.0L612.1 536.4"/>
<path class="gs" d="M612.1 365.5L617.4 360.3L613.3 361.5L608.0 366.7z"/>
<path class="e" d="M612.1 365.5L617.4 360.3M608.0 366.7L612.1 365.5"/>
<path class="ys" d="M608.0 540.0L613.3 539.1L609.1 542.7L603.9 543.6z"/>
<path class="e" d="M603.9 543.6L608.0 540.0"/>
<path class="rs" d="M608.0 537.9L613.3 538.9L609.1 540.1L603.9 539.1z"/>
<path class="e" d="M603.9 539.1L608.0 537.9"/>
<path class="gs" d="M608.0 366.7L613.3 361.5L609.1 362.7L603.9 367.9z"/>
<path class="e" d="M603.9 367.9L608.0 366.7"/>
<path class="ys" d="M603.9 543.6L609.1 542.7L605.0 546.3L599.7 547.2z"/>
<path class="e" d="M599.7 547.2L603.9 543.6"/>
<path class="rs" d="M603.9 539.1L609.1 540.1L605.0 541.3L599.7 540.3z"/>
<path class="e" d="M599.7 540.3L603.9 539.1"/>
<path class="gs" d="M603.9 367.9L609.1 362.7L605.0 363.9L599.7 369.2z"/>
<path class="e" d="M599.7 369.2L603.9 367.9"/>
<path class="ys" d="M599.7 547.2L605.0 546.3L600.9 549.9L595.6 550.8z"/>
<path class="e" d="M600.9 549.9L595.6 550.8M595.6 550.8L599.7 547.2"/>
<path class="rs" d="M599.7 540.3L605.0 541.3L600.9 542.5L595.6 541.6z"/>
<path class="e" d="M600.9 542.5L595.6 541.6M595.6 541.6L599.7 540.3"/>
<path class="gs" d="M599.7 369.2L605.0 363.9L600.9 365.2L595.6 370.4z"/>
<path class="e" d="M600.9 365.2L595.6 370.4M595.6 370.4L599.7 369.2"/>
<path class="rs" d="M617.4 537.6L622.6 538.6L618.5 539.8L613.3 538.9z"/>
<path class="e" d="M617.4 537.6L622.6 538.6"/>
<path class="ys" d="M617.4 535.4L622.6 534.4L618.5 538.1L613.3 539.1z"/>
<path class="e" d="M617.4 535.4L622.6 534.4"/>
<path class="gs" d="M617.4 360.3L622.6 355.1L618.5 356.3L613.3 361.5z"/>
<path class="e" d="M617.4 360.3L622.6 355.1"/>
<path class="ys" d="M613.3 539.1L618.5 538.1L614.4 541.8L609.1 542.7z"/>
<path class="rs" d="M613.3 538.9L618.5 539.8L614.4 541.0L609.1 540.1z"/>
<path class="gs" d="M613.3 361.5L618.5 356.3L614.4 357.5L609.1 362.7z"/>
<path class="ys" d="M609.1 542.7L614.4 541.8L610.3 545.4L605.0 546.3z"/>
<path class="rs" d="M609.1 540.1L614.4 541.0L610.3 542.2L605.0 541.3z"/>
<path class="gs" d="M609.1 362.7L614.4 357.5L610.3 358.7L605.0 363.9z"/>
<path class="ys" d="M605.0 546.3L610.3 545.4L606.2 549.1L600.9 549.9z"/>
<path class="e" d="M606.2 549.1L600.9 549.9"/>
<path class="rs" d="M605.0 541.3L610.3 542.2L606.2 543.4L600.9 542.5z"/>
<path class="e" d="M606.2 543.4L600.9 542.5"/>
<path class="gs" d="M605.0 363.9L610.3 358.7L606.2 359.9L600.9 365.2z"/>
<path class="e" d="M606.2 359.9L600.9 365.2"/>
<path class="rs" d="M622.6 538.6L627.9 539.5L623.8 540.7L618.5 539.8z"/>
<path class="e" d="M622.6 538.6L627.9 539.5"/>
<path class="ys" d="M622.6 534.4L627.9 533.5L623.8 537.2L618.5 538.1z"/>
<path class="e" d="M622.6 534.4L627.9 533.5"/>
<path class="gs" d="M622.6 355.1L627.9 349.8L623.8 351.1L618.5 356.3z"/>
<path class="e" d="M622.6 355.1L627.9 349.8"/>
<path class="rs" d="M618.5 539.8L623.8 540.7L619.7 542.0L614.4 541.0z"/>
<path class="ys" d="M618.5 538.1L623.8 537.2L619.7 540.9L614.4 541.8z"/>
<path class="gs" d="M618.5 356.3L623.8 351.1L619.7 352.3L614.4 357.5z"/>
<path class="ys" d="M614.4 541.8L619.7 540.9L615.6 544.6L610.3 545.4z"/>
<path class="rs" d="M614.4 541.0L619.7 542.0L615.6 543.2L610.3 542.2z"/>
<path class="gs" d="M614.4 357.5L619.7 352.3L615.6 353.5L610.3 358.7z"/>
<path class="ys" d="M610.3 545.4L615.6 544.6L611.4 548.3L606.2 549.1z"/>
<path class="e" d="M611.4 548.3L606.2 549.1"/>
<path class="rs" d="M610.3 542.2L615.6 543.2L611.4 544.4L606.2 543.4z"/>
<path class="e" d="M611.4 544.4L606.2 543.4"/>
<path class="gs" d="M610.3 358.7L615.6 353.5L611.4 354.7L606.2 359.9z"/>
<path class="e" d="M611.4 354.7L606.2 359.9"/>
<path class="rs" d="M627.9 539.5L633.2 540.5L629.1 541.7L623.8 540.7z"/>
<path class="e" d="M627.9 539.5L633.2 540.5M633.2 540.5L629.1 541.7"/>
<path class="ys" d="M627.9 533.5L633.2 532.5L629.1 536.2L623.8 537.2z"/>
<path class="e" d="M627.9 533.5L633.2 532.5M633.2 532.5L629.1 536.2"/>
<path class="gs" d="M627.9 349.8L633.2 344.6L629.1 345.8L623.8 351.1z"/>
<path class="e" d="M627.9 349.8L633.2 344.6M633.2 344.6L629.1 345.8"/>
<path class="rs" d="M623.8 540.7L629.1 541.7L624.9 542.9L619.7 542.0z"/>
<path class="e" d="M629.1 541.7L624.9 542.9"/>
<path class="ys" d="M623.8 537.2L629.1 536.2L624.9 540.0L619.7 540.9z"/>
<path class="e" d="M629.1 536.2L624.9 540.0"/>
<path class="gs" d="M623.8 351.1L629.1 345.8L624.9 347.0L619.7 352.3z"/>
<path class="e" d="M629.1 345.8L624.9 347.0"/>
<path class="rs" d="M619.7 542.0L624.9 542.9L620.8 544.1L615.6 543.2z"/>
<path class="e" d="M624.9 542.9L620.8 544.1"/>
<path class="ys" d="M619.7 540.9L624.9 540.0L620.8 543.7L615.6 544.6z"/>
<path class="e" d="M624.9 540.0L620.8 543.7"/>
<path class="gs" d="M619.7 352.3L624.9 347.0L620.8 348.3L615.6 353.5z"/>
<path class="e" d="M624.9 347.0L620.8 348.3"/>
<path class="ys" d="M615.6 544.6L620.8 543.7L616.7 547.5L611.4 548.3z"/>
<path class="e" d="M620.8 543.7L616.7 547.5M616.7 547.5L611.4 548.3"/>
<path class="rs" d="M615.6 543.2L620.8 544.1L616.7 545.3L611.4 544.4z"/>
<path class="e" d="M620.8 544.1L616.7 545.3M616.7 545.3L611.4 544.4"/>
<path class="gs" d="M615.6 353.5L620.8 348.3L616.7 349.5L611.4 354.7z"/>
<path class="e" d="M620.8 348.3L616.7 349.5M616.7 349.5L611.4 354.7"/>
<path class="y" d="M595.6 550.8L616.7 547.5L600.2 561.0L579.1 563.8z"/>
<path class="r" d="M595.6 541.6L616.7 545.3L600.2 550.2L579.1 546.4z"/>
<path class="g" d="M595.6 370.4L616.7 349.5L600.2 354.3L579.1 375.2z"/>
<path class="y" d="M579.1 563.8L600.2 561.0L583.7 573.3L562.6 575.7z"/>
<path class="r" d="M579.1 546.4L600.2 550.2L583.7 555.1L562.6 551.3z"/>
<path class="g" d="M579.1 375.2L600.2 354.3L583.7 359.2L562.6 380.1z"/>
<path class="y" d="M562.6 575.7L583.7 573.3L567.2 584.8L546.1 586.7z"/>
<path class="r" d="M562.6 551.3L583.7 555.1L567.2 559.9L546.1 556.2z"/>
<path class="g" d="M562.6 380.1L583.7 359.2L567.2 364.1L546.1 385.0z"/>
<path class="y" d="M546.1 586.7L567.2 584.8L550.7 595.4L529.6 597.0z"/>
<path class="r" d="M546.1 556.2L567.2 559.9L550.7 564.8L529.6 561.0z"/>
<path class="g" d="M546.1 385.0L567.2 364.1L550.7 368.9L529.6 389.8z"/>
<path class="y" d="M529.6 597.0L550.7 595.4L534.2 605.4L513.1 606.7z"/>
<path class="r" d="M529.6 561.0L550.7 564.8L534.2 569.7L513.1 565.9z"/>
<path class="g" d="M529.6 389.8L550.7 368.9L534.2 373.8L513.1 394.7z"/>
<path class="y" d="M513.1 606.7L534.2 605.4L517.7 614.8L496.6 615.9z"/>
<path class="r" d="M513.1 565.9L534.2 569.7L517.7 574.5L496.6 570.7z"/>
<path class="g" d="M513.1 394.7L534.2 373.8L517.7 378.7L496.6 399.6z"/>
<path class="y" d="M496.6 615.9L517.7 614.8L501.2 623.8L480.1 624.7z"/>
<path class="r" d="M496.6 570.7L517.7 574.5L501.2 579.4L480.1 575.6z"/>
<path class="g" d="M496.6 399.6L517.7 378.7L501.2 383.5L480.1 404.4z"/>
<path class="y" d="M480.1 624.7L501.2 623.8L484.7 632.4L463.6 633.1z"/>
<path class="r" d="M480.1 575.6L501.2 579.4L484.7 584.3L463.6 580.5z"/>
<path class="g" d="M480.1 404.4L501.2 383.5L484.7 388.4L463.6 409.3z"/>
<path class="y" d="M463.6 633.1L484.7 632.4L468.2 640.7L447.2 641.2z"/>
<path class="r" d="M463.6 580.5L484.7 584.3L468.2 589.1L447.2 585.3z"/>
<path class="g" d="M463.6 409.3L484.7 388.4L468.2 393.3L447.2 414.2z"/>
<path class="y" d="M447.2 641.2L468.2 640.7L451.8 648.6L430.7 649.0z"/>
<path class="r" d="M447.2 585.3L468.2 589.1L451.8 594.0L430.7 590.2z"/>
<path class="g" d="M447.2 414.2L468.2 393.3L451.8 398.1L430.7 419.0z"/>
<path class="y" d="M430.7 649.0L451.8 648.6L435.3 656.3L414.2 656.6z"/>
<path class="r" d="M430.7 590.2L451.8 594.0L435.3 598.9L414.2 595.1z"/>
<path class="g" d="M430.7 419.0L451.8 398.1L435.3 403.0L414.2 423.9z"/>
<path class="y" d="M414.2 656.6L435.3 656.3L418.8 663.8L397.7 663.9z"/>
<path class="r" d="M414.2 595.1L435.3 598.9L418.8 603.7L397.7 599.9z"/>
<path class="g" d="M414.2 423.9L435.3 403.0L418.8 407.9L397.7 428.8z"/>
<path class="r" d="M748.7 506.4L769.8 510.2L753.3 515.1L732.2 511.3z"/>
<path class="y" d="M748.7 310.6L769.8 286.4L753.3 352.6L732.2 369.8z"/>
<path class="g" d="M748.7 310.6L769.8 286.4L753.3 291.2L732.2 315.4z"/>
<path class="r" d="M732.2 511.3L753.3 515.1L736.8 519.9L715.7 516.2z"/>
<path class="y" d="M732.2 369.8L753.3 352.6L736.8 400.2L715.7 413.1z"/>
<path class="g" d="M732.2 315.4L753.3 291.2L736.8 296.1L715.7 320.3z"/>
<path class="r" d="M715.7 516.2L736.8 519.9L720.3 524.8L699.2 521.0z"/>
<path class="y" d="M715.7 413.1L736.8 400.2L720.3 436.6L699.2 446.7z"/>
<path class="g" d="M715.7 320.3L736.8 296.1L720.3 301.0L699.2 325.1z"/>
<path class="r" d="M699.2 521.0L720.3 524.8L703.8 529.7L682.7 525.9z"/>
<path class="y" d="M699.2 446.7L720.3 436.6L703.8 465.7L682.7 473.8z"/>
<path class="g" d="M699.2 325.1L720.3 301.0L703.8 305.8L682.7 330.0z"/>
<path class="r" d="M682.7 525.9L703.8 529.7L687.3 534.5L666.2 530.7z"/>
<path class="y" d="M682.7 473.8L703.8 465.7L687.3 489.8L666.2 496.3z"/>
<path class="g" d="M682.7 330.0L703.8 305.8L687.3 310.7L666.2 334.9z"/>
<path class="r" d="M666.2 530.7L687.3 534.5L670.8 539.4L649.7 535.6z"/>
<path class="y" d="M666.2 496.3L687.3 489.8L670.8 510.2L649.7 515.6z"/>
<path class="g" d="M666.2 334.9L687.3 310.7L670.8 315.5L649.7 339.7z"/>
<path class="r" d="M649.7 535.6L670.8 539.4L654.3 544.3L633.2 540.5z"/>
<path class="y" d="M649.7 515.6L670.8 510.2L654.3 528.0L633.2 532.5z"/>
<path class="g" d="M649.7 339.7L670.8 315.5L654.3 320.4L633.2 344.6z"/>
<path class="rs" d="M633.2 540.5L638.5 541.4L634.3 542.6L629.1 541.7z"/>
<path class="e" d="M633.2 540.5L638.5 541.4M629.1 541.7L633.2 540.5"/>
<path class="ys" d="M633.2 532.5L638.5 531.3L634.3 535.1L629.1 536.2z"/>
<path class="e" d="M633.2 532.5L638.5 531.3M629.1 536.2L633.2 532.5"/>
<path class="gs" d="M633.2 344.6L638.5 338.6L634.3 339.8L629.1 345.8z"/>
<path class="e" d="M633.2 344.6L638.5 338.6M629.1 345.8L633.2 344.6"/>
<path class="rs" d="M629.1 541.7L634.3 542.6L630.2 543.9L624.9 542.9z"/>
<path class="e" d="M624.9 542.9L629.1 541.7"/>
<path class="ys" d="M629.1 536.2L634.3 535.1L630.2 538.9L624.9 540.0z"/>
<path class="e" d="M624.9 540.0L629.1 536.2"/>
<path class="gs" d="M629.1 345.8L634.3 339.8L630.2 341.0L624.9 347.0z"/>
<path class="e" d="M624.9 347.0L629.1 345.8"/>
<path class="rs" d="M624.9 542.9L630.2 543.9L626.1 545.1L620.8 544.1z"/>
<path class="e" d="M620.8 544.1L624.9 542.9"/>
<path class="ys" d="M624.9 540.0L630.2 538.9L626.1 542.7L620.8 543.7z"/>
<path class="e" d="M620.8 543.7L624.9 540.0"/>
<path class="gs" d="M624.9 347.0L630.2 341.0L626.1 342.2L620.8 348.3z"/>
<path class="e" d="M620.8 348.3L624.9 347.0"/>
<path class="rs" d="M620.8 544.1L626.1 545.1L622.0 546.3L616.7 545.3z"/>
<path class="e" d="M622.0 546.3L616.7 545.3M616.7 545.3L620.8 544.1"/>
<path class="ys" d="M620.8 543.7L626.1 542.7L622.0 546.5L616.7 547.5z"/>
<path class="e" d="M622.0 546.5L616.7 547.5M616.7 547.5L620.8 543.7"/>
<path class="gs" d="M620.8 348.3L626.1 342.2L622.0 343.4L616.7 349.5z"/>
<path class="e" d="M622.0 343.4L616.7 349.5M616.7 349.5L620.8 348.3"/>
<path class="rs" d="M638.5 541.4L643.7 542.4L639.6 543.6L634.3 542.6z"/>
<path class="e" d="M638.5 541.4L643.7 542.4"/>
<path class="ys" d="M638.5 531.3L643.7 530.2L639.6 534.0L634.3 535.1z"/>
<path class="e" d="M638.5 531.3L643.7 530.2"/>
<path class="gs" d="M638.5 338.6L643.7 332.5L639.6 333.7L634.3 339.8z"/>
<path class="e" d="M638.5 338.6L643.7 332.5"/>
<path class="rs" d="M634.3 542.6L639.6 543.6L635.5 544.8L630.2 543.9z"/>
<path class="ys" d="M634.3 535.1L639.6 534.0L635.5 537.9L630.2 538.9z"/>
<path class="gs" d="M634.3 339.8L639.6 333.7L635.5 334.9L630.2 341.0z"/>
<path class="rs" d="M630.2 543.9L635.5 544.8L631.4 546.0L626.1 545.1z"/>
<path class="ys" d="M630.2 538.9L635.5 537.9L631.4 541.7L626.1 542.7z"/>
<path class="gs" d="M630.2 341.0L635.5 334.9L631.4 336.2L626.1 342.2z"/>
<path class="rs" d="M626.1 545.1L631.4 546.0L627.2 547.2L622.0 546.3z"/>
<path class="e" d="M627.2 547.2L622.0 546.3"/>
<path class="ys" d="M626.1 542.7L631.4 541.7L627.2 545.6L622.0 546.5z"/>
<path class="e" d="M627.2 545.6L622.0 546.5"/>
<path class="gs" d="M626.1 342.2L631.4 336.2L627.2 337.4L622.0 343.4z"/>
<path class="e" d="M627.2 337.4L622.0 343.4"/>
<path class="rs" d="M643.7 542.4L649.0 543.3L644.9 544.5L639.6 543.6z"/>
<path class="e" d="M643.7 542.4L649.0 543.3"/>
<path class="ys" d="M643.7 530.2L649.0 529.1L644.9 533.0L639.6 534.0z"/>
<path class="e" d="M643.7 530.2L649.0 529.1"/>
<path class="gs" d="M643.7 332.5L649.0 326.5L644.9 327.7L639.6 333.7z"/>
<path class="e" d="M643.7 332.5L649.0 326.5"/>
<path class="rs" d="M639.6 543.6L644.9 544.5L640.8 545.7L635.5 544.8z"/>
<path class="ys" d="M639.6 534.0L644.9 533.0L640.8 536.8L635.5 537.9z"/>
<path class="gs" d="M639.6 333.7L644.9 327.7L640.8 328.9L635.5 334.9z"/>
<path class="rs" d="M635.5 544.8L640.8 545.7L636.6 547.0L631.4 546.0z"/>
<path class="ys" d="M635.5 537.9L640.8 536.8L636.6 540.7L631.4 541.7z"/>
<path class="gs" d="M635.5 334.9L640.8 328.9L636.6 330.1L631.4 336.2z"/>
<path class="rs" d="M631.4 546.0L636.6 547.0L632.5 548.2L627.2 547.2z"/>
<path class="e" d="M632.5 548.2L627.2 547.2"/>
<path class="ys" d="M631.4 541.7L636.6 540.7L632.5 544.6L627.2 545.6z"/>
<path class="e" d="M632.5 544.6L627.2 545.6"/>
<path class="gs" d="M631.4 336.2L636.6 330.1L632.5 331.3L627.2 337.4z"/>
<path class="e" d="M632.5 331.3L627.2 337.4"/>
<path class="rs" d="M649.0 543.3L654.3 544.3L650.2 545.5L644.9 544.5z"/>
<path class="e" d="M649.0 543.3L654.3 544.3M654.3 544.3L650.2 545.5"/>
<path class="ys" d="M649.0 529.1L654.3 528.0L650.2 531.9L644.9 533.0z"/>
<path class="e" d="M649.0 529.1L654.3 528.0M654.3 528.0L650.2 531.9"/>
<path class="gs" d="M649.0 326.5L654.3 320.4L650.2 321.6L644.9 327.7z"/>
<path class="e" d="M649.0 326.5L654.3 320.4M654.3 320.4L650.2 321.6"/>
<path class="rs" d="M644.9 544.5L650.2 545.5L646.0 546.7L640.8 545.7z"/>
<path class="e" d="M650.2 545.5L646.0 546.7"/>
<path class="ys" d="M644.9 533.0L650.2 531.9L646.0 535.8L640.8 536.8z"/>
<path class="e" d="M650.2 531.9L646.0 535.8"/>
<path class="gs" d="M644.9 327.7L650.2 321.6L646.0 322.8L640.8 328.9z"/>
<path class="e" d="M650.2 321.6L646.0 322.8"/>
<path class="rs" d="M640.8 545.7L646.0 546.7L641.9 547.9L636.6 547.0z"/>
<path class="e" d="M646.0 546.7L641.9 547.9"/>
<path class="ys" d="M640.8 536.8L646.0 535.8L641.9 539.7L636.6 540.7z"/>
<path class="e" d="M646.0 535.8L641.9 539.7"/>
<path class="gs" d="M640.8 328.9L646.0 322.8L641.9 324.1L636.6 330.1z"/>
<path class="e" d="M646.0 322.8L641.9 324.1"/>
<path class="rs" d="M636.6 547.0L641.9 547.9L637.8 549.1L632.5 548.2z"/>
<path class="e" d="M641.9 547.9L637.8 549.1M637.8 549.1L632.5 548.2"/>
<path class="ys" d="M636.6 540.7L641.9 539.7L637.8 543.7L632.5 544.6z"/>
<path class="e" d="M641.9 539.7L637.8 543.7M637.8 543.7L632.5 544.6"/>
<path class="gs" d="M636.6 330.1L641.9 324.1L637.8 325.3L632.5 331.3z"/>
<path class="e" d="M641.9 324.1L637.8 325.3M637.8 325.3L632.5 331.3"/>
<path class="ys" d="M616.7 547.5L622.0 546.5L617.8 549.9L612.6 550.8z"/>
<path class="e" d="M616.7 547.5L622.0 546.5M612.6 550.8L616.7 547.5"/>
<path class="rs" d="M616.7 545.3L622.0 546.3L617.8 547.5L612.6 546.6z"/>
<path class="e" d="M616.7 545.3L622.0 546.3M612.6 546.6L616.7 545.3"/>
<path class="gs" d="M616.7 349.5L622.0 343.4L617.8 344.6L612.6 350.7z"/>
<path class="e" d="M616.7 349.5L622.0 343.4M612.6 350.7L616.7 349.5"/>
<path class="ys" d="M612.6 550.8L617.8 549.9L613.7 553.3L608.5 554.2z"/>
<path class="e" d="M608.5 554.2L612.6 550.8"/>
<path class="rs" d="M612.6 546.6L617.8 547.5L613.7 548.7L608.5 547.8z"/>
<path class="e" d="M608.5 547.8L612.6 546.6"/>
<path class="gs" d="M612.6 350.7L617.8 344.6L613.7 345.9L608.5 351.9z"/>
<path class="e" d="M608.5 351.9L612.6 350.7"/>
<path class="ys" d="M608.5 554.2L613.7 553.3L609.6 556.8L604.3 557.6z"/>
<path class="e" d="M604.3 557.6L608.5 554.2"/>
<path class="rs" d="M608.5 547.8L613.7 548.7L609.6 549.9L604.3 549.0z"/>
<path class="e" d="M604.3 549.0L608.5 547.8"/>
<path class="gs" d="M608.5 351.9L613.7 345.9L609.6 347.1L604.3 353.1z"/>
<path class="e" d="M604.3 353.1L608.5 351.9"/>
<path class="ys" d="M604.3 557.6L609.6 556.8L605.5 560.2L600.2 561.0z"/>
<path class="e" d="M605.5 560.2L600.2 561.0M600.2 561.0L604.3 557.6"/>
<path class="rs" d="M604.3 549.0L609.6 549.9L605.5 551.2L600.2 550.2z"/>
<path class="e" d="M605.5 551.2L600.2 550.2M600.2 550.2L604.3 549.0"/>
<path class="gs" d="M604.3 353.1L609.6 347.1L605.5 348.3L600.2 354.3z"/>
<path class="e" d="M605.5 348.3L600.2 354.3M600.2 354.3L604.3 353.1"/>
<path class="ys" d="M622.0 546.5L627.2 545.6L623.1 549.0L617.8 549.9z"/>
<path class="e" d="M622.0 546.5L627.2 545.6"/>
<path class="rs" d="M622.0 546.3L627.2 547.2L623.1 548.5L617.8 547.5z"/>
<path class="e" d="M622.0 546.3L627.2 547.2"/>
<path class="gs" d="M622.0 343.4L627.2 337.4L623.1 338.6L617.8 344.6z"/>
<path class="e" d="M622.0 343.4L627.2 337.4"/>
<path class="ys" d="M617.8 549.9L623.1 549.0L619.0 552.5L613.7 553.3z"/>
<path class="rs" d="M617.8 547.5L623.1 548.5L619.0 549.7L613.7 548.7z"/>
<path class="gs" d="M617.8 344.6L623.1 338.6L619.0 339.8L613.7 345.9z"/>
<path class="ys" d="M613.7 553.3L619.0 552.5L614.9 555.9L609.6 556.8z"/>
<path class="rs" d="M613.7 548.7L619.0 549.7L614.9 550.9L609.6 549.9z"/>
<path class="gs" d="M613.7 345.9L619.0 339.8L614.9 341.0L609.6 347.1z"/>
<path class="ys" d="M609.6 556.8L614.9 555.9L610.8 559.4L605.5 560.2z"/>
<path class="e" d="M610.8 559.4L605.5 560.2"/>
<path class="rs" d="M609.6 549.9L614.9 550.9L610.8 552.1L605.5 551.2z"/>
<path class="e" d="M610.8 552.1L605.5 551.2"/>
<path class="gs" d="M609.6 347.1L614.9 341.0L610.8 342.2L605.5 348.3z"/>
<path class="e" d="M610.8 342.2L605.5 348.3"/>
<path class="rs" d="M627.2 547.2L632.5 548.2L628.4 549.4L623.1 548.5z"/>
<path class="e" d="M627.2 547.2L632.5 548.2"/>
<path class="ys" d="M627.2 545.6L632.5 544.6L628.4 548.1L623.1 549.0z"/>
<path class="e" d="M627.2 545.6L632.5 544.6"/>
<path class="gs" d="M627.2 337.4L632.5 331.3L628.4 332.5L623.1 338.6z"/>
<path class="e" d="M627.2 337.4L632.5 331.3"/>
<path class="ys" d="M623.1 549.0L628.4 548.1L624.3 551.6L619.0 552.5z"/>
<path class="rs" d="M623.1 548.5L628.4 549.4L624.3 550.6L619.0 549.7z"/>
<path class="gs" d="M623.1 338.6L628.4 332.5L624.3 333.8L619.0 339.8z"/>
<path class="ys" d="M619.0 552.5L624.3 551.6L620.1 555.1L614.9 555.9z"/>
<path class="rs" d="M619.0 549.7L624.3 550.6L620.1 551.8L614.9 550.9z"/>
<path class="gs" d="M619.0 339.8L624.3 333.8L620.1 335.0L614.9 341.0z"/>
<path class="ys" d="M614.9 555.9L620.1 555.1L616.0 558.6L610.8 559.4z"/>
<path class="e" d="M616.0 558.6L610.8 559.4"/>
<path class="rs" d="M614.9 550.9L620.1 551.8L616.0 553.0L610.8 552.1z"/>
<path class="e" d="M616.0 553.0L610.8 552.1"/>
<path class="gs" d="M614.9 341.0L620.1 335.0L616.0 336.2L610.8 342.2z"/>
<path class="e" d="M616.0 336.2L610.8 342.2"/>
<path class="rs" d="M632.5 548.2L637.8 549.1L633.7 550.3L628.4 549.4z"/>
<path class="e" d="M632.5 548.2L637.8 549.1M637.8 549.1L633.7 550.3"/>
<path class="ys" d="M632.5 544.6L637.8 543.7L633.7 547.2L628.4 548.1z"/>
<path class="e" d="M632.5 544.6L637.8 543.7M637.8 543.7L633.7 547.2"/>
<path class="gs" d="M632.5 331.3L637.8 325.3L633.7 326.5L628.4 332.5z"/>
<path class="e" d="M632.5 331.3L637.8 325.3M637.8 325.3L633.7 326.5"/>
<path class="rs" d="M628.4 549.4L633.7 550.3L629.5 551.6L624.3 550.6z"/>
<path class="e" d="M633.7 550.3L629.5 551.6"/>
<path class="ys" d="M628.4 548.1L633.7 547.2L629.5 550.7L624.3 551.6z"/>
<path class="e" d="M633.7 547.2L629.5 550.7"/>
<path class="gs" d="M628.4 332.5L633.7 326.5L629.5 327.7L624.3 333.8z"/>
<path class="e" d="M633.7 326.5L629.5 327.7"/>
<path class="ys" d="M624.3 551.6L629.5 550.7L625.4 554.3L620.1 555.1z"/>
<path class="e" d="M629.5 550.7L625.4 554.3"/>
<path class="rs" d="M624.3 550.6L629.5 551.6L625.4 552.8L620.1 551.8z"/>
<path class="e" d="M629.5 551.6L625.4 552.8"/>
<path class="gs" d="M624.3 333.8L629.5 327.7L625.4 328.9L620.1 335.0z"/>
<path class="e" d="M629.5 327.7L625.4 328.9"/>
<path class="ys" d="M620.1 555.1L625.4 554.3L621.3 557.8L616.0 558.6z"/>
<path class="e" d="M625.4 554.3L621.3 557.8M621.3 557.8L616.0 558.6"/>
<path class="rs" d="M620.1 551.8L625.4 552.8L621.3 554.0L616.0 553.0z"/>
<path class="e" d="M625.4 552.8L621.3 554.0M621.3 554.0L616.0 553.0"/>
<path class="gs" d="M620.1 335.0L625.4 328.9L621.3 330.1L616.0 336.2z"/>
<path class="e" d="M625.4 328.9L621.3 330.1M621.3 330.1L616.0 336.2"/>
<path class="y" d="M600.2 561.0L621.3 557.8L604.8 570.6L583.7 573.3z"/>
<path class="r" d="M600.2 550.2L621.3 554.0L604.8 558.9L583.7 555.1z"/>
<path class="g" d="M600.2 354.3L621.3 330.1L604.8 335.0L583.7 359.2z"/>
<path class="y" d="M583.7 573.3L604.8 570.6L588.3 582.5L567.2 584.8z"/>
<path class="r" d="M583.7 555.1L604.8 558.9L588.3 563.7L567.2 559.9z"/>
<path class="g" d="M583.7 359.2L604.8 335.0L588.3 339.9L567.2 364.1z"/>
<path class="y" d="M567.2 584.8L588.3 582.5L571.8 593.5L550.7 595.4z"/>
<path class="r" d="M567.2 559.9L588.3 563.7L571.8 568.6L550.7 564.8z"/>
<path class="g" d="M567.2 364.1L588.3 339.9L571.8 344.7L550.7 368.9z"/>
<path class="y" d="M550.7 595.4L571.8 593.5L555.3 603.8L534.2 605.4z"/>
<path class="r" d="M550.7 564.8L571.8 568.6L555.3 573.5L534.2 569.7z"/>
<path class="g" d="M550.7 368.9L571.8 344.7L555.3 349.6L534.2 373.8z"/>
<path class="y" d="M534.2 605.4L555.3 603.8L538.8 613.5L517.7 614.8z"/>
<path class="r" d="M534.2 569.7L555.3 573.5L538.8 578.3L517.7 574.5z"/>
<path class="g" d="M534.2 373.8L555.3 349.6L538.8 354.5L517.7 378.7z"/>
<path class="y" d="M517.7 614.8L538.8 613.5L522.3 622.7L501.2 623.8z"/>
<path class="r" d="M517.7 574.5L538.8 578.3L522.3 583.2L501.2 579.4z"/>
<path class="g" d="M517.7 378.7L538.8 354.5L522.3 359.3L501.2 383.5z"/>
<path class="y" d="M501.2 623.8L522.3 622.7L505.8 631.5L484.7 632.4z"/>
<path class="r" d="M501.2 579.4L522.3 583.2L505.8 588.0L484.7 584.3z"/>
<path class="g" d="M501.2 383.5L522.3 359.3L505.8 364.2L484.7 388.4z"/>
<path class="y" d="M484.7 632.4L505.8 631.5L489.3 639.9L468.2 640.7z"/>
<path class="r" d="M484.7 584.3L505.8 588.0L489.3 592.9L468.2 589.1z"/>
<path class="g" d="M484.7 388.4L505.8 364.2L489.3 369.1L468.2 393.3z"/>
<path class="y" d="M468.2 640.7L489.3 639.9L472.8 648.0L451.8 648.6z"/>
<path class="r" d="M468.2 589.1L489.3 592.9L472.8 597.8L451.8 594.0z"/>
<path class="g" d="M468.2 393.3L489.3 369.1L472.8 373.9L451.8 398.1z"/>
<path class="y" d="M451.8 648.6L472.8 648.0L456.3 655.9L435.3 656.3z"/>
<path class="r" d="M451.8 594.0L472.8 597.8L456.3 602.6L435.3 598.9z"/>
<path class="g" d="M451.8 398.1L472.8 373.9L456.3 378.8L435.3 403.0z"/>
<path class="y" d="M435.3 656.3L456.3 655.9L439.9 663.5L418.8 663.8z"/>
<path class="r" d="M435.3 598.9L456.3 602.6L439.9 607.5L418.8 603.7z"/>
<path class="g" d="M435.3 403.0L456.3 378.8L439.9 383.7L418.8 407.9z"/>
<path class="r" d="M769.8 510.2L790.8 514.0L774.3 518.9L753.3 515.1z"/>
<path class="y" d="M769.8 286.4L790.8 258.2L774.3 332.7L753.3 352.6z"/>
<path class="g" d="M769.8 286.4L790.8 258.2L774.3 263.0L753.3 291.2z"/>
<path class="r" d="M753.3 515.1L774.3 518.9L757.9 523.7L736.8 519.9z"/>
<path class="y" d="M753.3 352.6L774.3 332.7L757.9 385.5L736.8 400.2z"/>
<path class="g" d="M753.3 291.2L774.3 263.0L757.9 267.9L736.8 296.1z"/>
<path class="r" d="M736.8 519.9L757.9 523.7L741.4 528.6L720.3 524.8z"/>
<path class="y" d="M736.8 400.2L757.9 385.5L741.4 425.2L720.3 436.6z"/>
<path class="g" d="M736.8 296.1L757.9 267.9L741.4 272.8L720.3 301.0z"/>
<path class="r" d="M720.3 524.8L741.4 528.6L724.9 533.5L703.8 529.7z"/>
<path class="y" d="M720.3 436.6L741.4 425.2L724.9 456.6L703.8 465.7z"/>
<path class="g" d="M720.3 301.0L741.4 272.8L724.9 277.6L703.8 305.8z"/>
<path class="r" d="M703.8 529.7L724.9 533.5L708.4 538.3L687.3 534.5z"/>
<path class="y" d="M703.8 465.7L724.9 456.6L708.4 482.4L687.3 489.8z"/>
<path class="g" d="M703.8 305.8L724.9 277.6L708.4 282.5L687.3 310.7z"/>
<path class="r" d="M687.3 534.5L708.4 538.3L691.9 543.2L670.8 539.4z"/>
<path class="y" d="M687.3 489.8L708.4 482.4L691.9 504.1L670.8 510.2z"/>
<path class="g" d="M687.3 310.7L708.4 282.5L691.9 287.4L670.8 315.5z"/>
<path class="r" d="M670.8 539.4L691.9 543.2L675.4 548.0L654.3 544.3z"/>
<path class="y" d="M670.8 510.2L691.9 504.1L675.4 522.8L654.3 528.0z"/>
<path class="g" d="M670.8 315.5L691.9 287.4L675.4 292.2L654.3 320.4z"/>
<path class="r" d="M654.3 544.3L675.4 548.0L658.9 552.9L637.8 549.1z"/>
<path class="y" d="M654.3 528.0L675.4 522.8L658.9 539.3L637.8 543.7z"/>
<path class="g" d="M654.3 320.4L675.4 292.2L658.9 297.1L637.8 325.3z"/>
<path class="rs" d="M637.8 549.1L643.1 550.1L638.9 551.3L633.7 550.3z"/>
<path class="e" d="M637.8 549.1L643.1 550.1M633.7 550.3L637.8 549.1"/>
<path class="ys" d="M637.8 543.7L643.1 542.6L638.9 546.2L633.7 547.2z"/>
<path class="e" d="M637.8 543.7L643.1 542.6M633.7 547.2L637.8 543.7"/>
<path class="gs" d="M637.8 325.3L643.1 318.2L638.9 319.4L633.7 326.5z"/>
<path class="e" d="M637.8 325.3L643.1 318.2M633.7 326.5L637.8 325.3"/>
<path class="rs" d="M633.7 550.3L638.9 551.3L634.8 552.5L629.5 551.6z"/>
<path class="e" d="M629.5 551.6L633.7 550.3"/>
<path class="ys" d="M633.7 547.2L638.9 546.2L634.8 549.7L629.5 550.7z"/>
<path class="e" d="M629.5 550.7L633.7 547.2"/>
<path class="gs" d="M633.7 326.5L638.9 319.4L634.8 320.7L629.5 327.7z"/>
<path class="e" d="M629.5 327.7L633.7 326.5"/>
<path class="rs" d="M629.5 551.6L634.8 552.5L630.7 553.7L625.4 552.8z"/>
<path class="e" d="M625.4 552.8L629.5 551.6"/>
<path class="ys" d="M629.5 550.7L634.8 549.7L630.7 553.3L625.4 554.3z"/>
<path class="e" d="M625.4 554.3L629.5 550.7"/>
<path class="gs" d="M629.5 327.7L634.8 320.7L630.7 321.9L625.4 328.9z"/>
<path class="e" d="M625.4 328.9L629.5 327.7"/>
<path class="ys" d="M625.4 554.3L630.7 553.3L626.6 556.9L621.3 557.8z"/>
<path class="e" d="M626.6 556.9L621.3 557.8M621.3 557.8L625.4 554.3"/>
<path class="rs" d="M625.4 552.8L630.7 553.7L626.6 554.9L621.3 554.0z"/>
<path class="e" d="M626.6 554.9L621.3 554.0M621.3 554.0L625.4 552.8"/>
<path class="gs" d="M625.4 328.9L630.7 321.9L626.6 323.1L621.3 330.1z"/>
<path class="e" d="M626.6 323.1L621.3 330.1M621.3 330.1L625.4 328.9"/>
<path class="rs" d="M643.1 550.1L648.3 551.0L644.2 552.2L638.9 551.3z"/>
<path class="e" d="M643.1 550.1L648.3 551.0"/>
<path class="ys" d="M643.1 542.6L648.3 541.5L644.2 545.1L638.9 546.2z"/>
<path class="e" d="M643.1 542.6L648.3 541.5"/>
<path class="gs" d="M643.1 318.2L648.3 311.2L644.2 312.4L638.9 319.4z"/>
<path class="e" d="M643.1 318.2L648.3 311.2"/>
<path class="rs" d="M638.9 551.3L644.2 552.2L640.1 553.5L634.8 552.5z"/>
<path class="ys" d="M638.9 546.2L644.2 545.1L640.1 548.7L634.8 549.7z"/>
<path class="gs" d="M638.9 319.4L644.2 312.4L640.1 313.6L634.8 320.7z"/>
<path class="rs" d="M634.8 552.5L640.1 553.5L636.0 554.7L630.7 553.7z"/>
<path class="ys" d="M634.8 549.7L640.1 548.7L636.0 552.3L630.7 553.3z"/>
<path class="gs" d="M634.8 320.7L640.1 313.6L636.0 314.8L630.7 321.9z"/>
<path class="rs" d="M630.7 553.7L636.0 554.7L631.8 555.9L626.6 554.9z"/>
<path class="e" d="M631.8 555.9L626.6 554.9"/>
<path class="ys" d="M630.7 553.3L636.0 552.3L631.8 556.0L626.6 556.9z"/>
<path class="e" d="M631.8 556.0L626.6 556.9"/>
<path class="gs" d="M630.7 321.9L636.0 314.8L631.8 316.0L626.6 323.1z"/>
<path class="e" d="M631.8 316.0L626.6 323.1"/>
<path class="rs" d="M648.3 551.0L653.6 552.0L649.5 553.2L644.2 552.2z"/>
<path class="e" d="M648.3 551.0L653.6 552.0"/>
<path class="ys" d="M648.3 541.5L653.6 540.4L649.5 544.1L644.2 545.1z"/>
<path class="e" d="M648.3 541.5L653.6 540.4"/>
<path class="gs" d="M648.3 311.2L653.6 304.1L649.5 305.3L644.2 312.4z"/>
<path class="e" d="M648.3 311.2L653.6 304.1"/>
<path class="rs" d="M644.2 552.2L649.5 553.2L645.4 554.4L640.1 553.5z"/>
<path class="ys" d="M644.2 545.1L649.5 544.1L645.4 547.7L640.1 548.7z"/>
<path class="gs" d="M644.2 312.4L649.5 305.3L645.4 306.6L640.1 313.6z"/>
<path class="rs" d="M640.1 553.5L645.4 554.4L641.2 555.6L636.0 554.7z"/>
<path class="ys" d="M640.1 548.7L645.4 547.7L641.2 551.4L636.0 552.3z"/>
<path class="gs" d="M640.1 313.6L645.4 306.6L641.2 307.8L636.0 314.8z"/>
<path class="rs" d="M636.0 554.7L641.2 555.6L637.1 556.8L631.8 555.9z"/>
<path class="e" d="M637.1 556.8L631.8 555.9"/>
<path class="ys" d="M636.0 552.3L641.2 551.4L637.1 555.0L631.8 556.0z"/>
<path class="e" d="M637.1 555.0L631.8 556.0"/>
<path class="gs" d="M636.0 314.8L641.2 307.8L637.1 309.0L631.8 316.0z"/>
<path class="e" d="M637.1 309.0L631.8 316.0"/>
<path class="rs" d="M653.6 552.0L658.9 552.9L654.8 554.1L649.5 553.2z"/>
<path class="e" d="M653.6 552.0L658.9 552.9M658.9 552.9L654.8 554.1"/>
<path class="ys" d="M653.6 540.4L658.9 539.3L654.8 543.0L649.5 544.1z"/>
<path class="e" d="M653.6 540.4L658.9 539.3M658.9 539.3L654.8 543.0"/>
<path class="gs" d="M653.6 304.1L658.9 297.1L654.8 298.3L649.5 305.3z"/>
<path class="e" d="M653.6 304.1L658.9 297.1M658.9 297.1L654.8 298.3"/>
<path class="rs" d="M649.5 553.2L654.8 554.1L650.6 555.3L645.4 554.4z"/>
<path class="e" d="M654.8 554.1L650.6 555.3"/>
<path class="ys" d="M649.5 544.1L654.8 543.0L650.6 546.7L645.4 547.7z"/>
<path class="e" d="M654.8 543.0L650.6 546.7"/>
<path class="gs" d="M649.5 305.3L654.8 298.3L650.6 299.5L645.4 306.6z"/>
<path class="e" d="M654.8 298.3L650.6 299.5"/>
<path class="rs" d="M645.4 554.4L650.6 555.3L646.5 556.6L641.2 555.6z"/>
<path class="e" d="M650.6 555.3L646.5 556.6"/>
<path class="ys" d="M645.4 547.7L650.6 546.7L646.5 550.4L641.2 551.4z"/>
<path class="e" d="M650.6 546.7L646.5 550.4"/>
<path class="gs" d="M645.4 306.6L650.6 299.5L646.5 300.7L641.2 307.8z"/>
<path class="e" d="M650.6 299.5L646.5 300.7"/>
<path class="rs" d="M641.2 555.6L646.5 556.6L642.4 557.8L637.1 556.8z"/>
<path class="e" d="M646.5 556.6L642.4 557.8M642.4 557.8L637.1 556.8"/>
<path class="ys" d="M641.2 551.4L646.5 550.4L642.4 554.1L637.1 555.0z"/>
<path class="e" d="M646.5 550.4L642.4 554.1M642.4 554.1L637.1 555.0"/>
<path class="gs" d="M641.2 307.8L646.5 300.7L642.4 301.9L637.1 309.0z"/>
<path class="e" d="M646.5 300.7L642.4 301.9M642.4 301.9L637.1 309.0"/>
<path class="ys" d="M621.3 557.8L626.6 556.9L622.4 560.1L617.2 561.0z"/>
<path class="e" d="M621.3 557.8L626.6 556.9M617.2 561.0L621.3 557.8"/>
<path class="rs" d="M621.3 554.0L626.6 554.9L622.4 556.2L617.2 555.2z"/>
<path class="e" d="M621.3 554.0L626.6 554.9M617.2 555.2L621.3 554.0"/>
<path class="gs" d="M621.3 330.1L626.6 323.1L622.4 324.3L617.2 331.4z"/>
<path class="e" d="M621.3 330.1L626.6 323.1M617.2 331.4L621.3 330.1"/>
<path class="ys" d="M617.2 561.0L622.4 560.1L618.3 563.4L613.0 564.2z"/>
<path class="e" d="M613.0 564.2L617.2 561.0"/>
<path class="rs" d="M617.2 555.2L622.4 556.2L618.3 557.4L613.0 556.4z"/>
<path class="e" d="M613.0 556.4L617.2 555.2"/>
<path class="gs" d="M617.2 331.4L622.4 324.3L618.3 325.5L613.0 332.6z"/>
<path class="e" d="M613.0 332.6L617.2 331.4"/>
<path class="ys" d="M613.0 564.2L618.3 563.4L614.2 566.6L608.9 567.4z"/>
<path class="e" d="M608.9 567.4L613.0 564.2"/>
<path class="rs" d="M613.0 556.4L618.3 557.4L614.2 558.6L608.9 557.6z"/>
<path class="e" d="M608.9 557.6L613.0 556.4"/>
<path class="gs" d="M613.0 332.6L618.3 325.5L614.2 326.7L608.9 333.8z"/>
<path class="e" d="M608.9 333.8L613.0 332.6"/>
<path class="ys" d="M608.9 567.4L614.2 566.6L610.1 569.9L604.8 570.6z"/>
<path class="e" d="M610.1 569.9L604.8 570.6M604.8 570.6L608.9 567.4"/>
<path class="rs" d="M608.9 557.6L614.2 558.6L610.1 559.8L604.8 558.9z"/>
<path class="e" d="M610.1 559.8L604.8 558.9M604.8 558.9L608.9 557.6"/>
<path class="gs" d="M608.9 333.8L614.2 326.7L610.1 328.0L604.8 335.0z"/>
<path class="e" d="M610.1 328.0L604.8 335.0M604.8 335.0L608.9 333.8"/>
<path class="ys" d="M626.6 556.9L631.8 556.0L627.7 559.2L622.4 560.1z"/>
<path class="e" d="M626.6 556.9L631.8 556.0"/>
<path class="rs" d="M626.6 554.9L631.8 555.9L627.7 557.1L622.4 556.2z"/>
<path class="e" d="M626.6 554.9L631.8 555.9"/>
<path class="gs" d="M626.6 323.1L631.8 316.0L627.7 317.3L622.4 324.3z"/>
<path class="e" d="M626.6 323.1L631.8 316.0"/>
<path class="ys" d="M622.4 560.1L627.7 559.2L623.6 562.5L618.3 563.4z"/>
<path class="rs" d="M622.4 556.2L627.7 557.1L623.6 558.3L618.3 557.4z"/>
<path class="gs" d="M622.4 324.3L627.7 317.3L623.6 318.5L618.3 325.5z"/>
<path class="ys" d="M618.3 563.4L623.6 562.5L619.5 565.8L614.2 566.6z"/>
<path class="rs" d="M618.3 557.4L623.6 558.3L619.5 559.5L614.2 558.6z"/>
<path class="gs" d="M618.3 325.5L623.6 318.5L619.5 319.7L614.2 326.7z"/>
<path class="ys" d="M614.2 566.6L619.5 565.8L615.3 569.1L610.1 569.9z"/>
<path class="e" d="M615.3 569.1L610.1 569.9"/>
<path class="rs" d="M614.2 558.6L619.5 559.5L615.3 560.7L610.1 559.8z"/>
<path class="e" d="M615.3 560.7L610.1 559.8"/>
<path class="gs" d="M614.2 326.7L619.5 319.7L615.3 320.9L610.1 328.0z"/>
<path class="e" d="M615.3 320.9L610.1 328.0"/>
<path class="ys" d="M631.8 556.0L637.1 555.0L633.0 558.3L627.7 559.2z"/>
<path class="e" d="M631.8 556.0L637.1 555.0"/>
<path class="rs" d="M631.8 555.9L637.1 556.8L633.0 558.0L627.7 557.1z"/>
<path class="e" d="M631.8 555.9L637.1 556.8"/>
<path class="gs" d="M631.8 316.0L637.1 309.0L633.0 310.2L627.7 317.3z"/>
<path class="e" d="M631.8 316.0L637.1 309.0"/>
<path class="ys" d="M627.7 559.2L633.0 558.3L628.9 561.7L623.6 562.5z"/>
<path class="rs" d="M627.7 557.1L633.0 558.0L628.9 559.3L623.6 558.3z"/>
<path class="gs" d="M627.7 317.3L633.0 310.2L628.9 311.4L623.6 318.5z"/>
<path class="ys" d="M623.6 562.5L628.9 561.7L624.7 565.0L619.5 565.8z"/>
<path class="rs" d="M623.6 558.3L628.9 559.3L624.7 560.5L619.5 559.5z"/>
<path class="gs" d="M623.6 318.5L628.9 311.4L624.7 312.6L619.5 319.7z"/>
<path class="ys" d="M619.5 565.8L624.7 565.0L620.6 568.3L615.3 569.1z"/>
<path class="e" d="M620.6 568.3L615.3 569.1"/>
<path class="rs" d="M619.5 559.5L624.7 560.5L620.6 561.7L615.3 560.7z"/>
<path class="e" d="M620.6 561.7L615.3 560.7"/>
<path class="gs" d="M619.5 319.7L624.7 312.6L620.6 313.9L615.3 320.9z"/>
<path class="e" d="M620.6 313.9L615.3 320.9"/>
<path class="rs" d="M637.1 556.8L642.4 557.8L638.3 559.0L633.0 558.0z"/>
<path class="e" d="M637.1 556.8L642.4 557.8M642.4 557.8L638.3 559.0"/>
<path class="ys" d="M637.1 555.0L642.4 554.1L638.3 557.5L633.0 558.3z"/>
<path class="e" d="M637.1 555.0L642.4 554.1M642.4 554.1L638.3 557.5"/>
<path class="gs" d="M637.1 309.0L642.4 301.9L638.3 303.2L633.0 310.2z"/>
<path class="e" d="M637.1 309.0L642.4 301.9M642.4 301.9L638.3 303.2"/>
<path class="ys" d="M633.0 558.3L638.3 557.5L634.1 560.8L628.9 561.7z"/>
<path class="e" d="M638.3 557.5L634.1 560.8"/>
<path class="rs" d="M633.0 558.0L638.3 559.0L634.1 560.2L628.9 559.3z"/>
<path class="e" d="M638.3 559.0L634.1 560.2"/>
<path class="gs" d="M633.0 310.2L638.3 303.2L634.1 304.4L628.9 311.4z"/>
<path class="e" d="M638.3 303.2L634.1 304.4"/>
<path class="ys" d="M628.9 561.7L634.1 560.8L630.0 564.2L624.7 565.0z"/>
<path class="e" d="M634.1 560.8L630.0 564.2"/>
<path class="rs" d="M628.9 559.3L634.1 560.2L630.0 561.4L624.7 560.5z"/>
<path class="e" d="M634.1 560.2L630.0 561.4"/>
<path class="gs" d="M628.9 311.4L634.1 304.4L630.0 305.6L624.7 312.6z"/>
<path class="e" d="M634.1 304.4L630.0 305.6"/>
<path class="ys" d="M624.7 565.0L630.0 564.2L625.9 567.5L620.6 568.3z"/>
<path class="e" d="M630.0 564.2L625.9 567.5M625.9 567.5L620.6 568.3"/>
<path class="rs" d="M624.7 560.5L630.0 561.4L625.9 562.6L620.6 561.7z"/>
<path class="e" d="M630.0 561.4L625.9 562.6M625.9 562.6L620.6 561.7"/>
<path class="gs" d="M624.7 312.6L630.0 305.6L625.9 306.8L620.6 313.9z"/>
<path class="e" d="M630.0 305.6L625.9 306.8M625.9 306.8L620.6 313.9"/>
<path class="y" d="M604.8 570.6L625.9 567.5L609.4 579.8L588.3 582.5z"/>
<path class="r" d="M604.8 558.9L625.9 562.6L609.4 567.5L588.3 563.7z"/>
<path class="g" d="M604.8 335.0L625.9 306.8L609.4 311.7L588.3 339.9z"/>
<path class="y" d="M588.3 582.5L609.4 579.8L592.9 591.2L571.8 593.5z"/>
<path class="r" d="M588.3 563.7L609.4 567.5L592.9 572.4L571.8 568.6z"/>
<path class="g" d="M588.3 339.9L609.4 311.7L592.9 316.5L571.8 344.7z"/>
<path class="y" d="M571.8 593.5L592.9 591.2L576.4 601.8L555.3 603.8z"/>
<path class="r" d="M571.8 568.6L592.9 572.4L576.4 577.2L555.3 573.5z"/>
<path class="g" d="M571.8 344.7L592.9 316.5L576.4 321.4L555.3 349.6z"/>
<path class="y" d="M555.3 603.8L576.4 601.8L559.9 611.8L538.8 613.5z"/>
<path class="r" d="M555.3 573.5L576.4 577.2L559.9 582.1L538.8 578.3z"/>
<path class="g" d="M555.3 349.6L576.4 321.4L559.9 326.3L538.8 354.5z"/>
<path class="y" d="M538.8 613.5L559.9 611.8L543.4 621.3L522.3 622.7z"/>
<path class="r" d="M538.8 578.3L559.9 582.1L543.4 587.0L522.3 583.2z"/>
<path class="g" d="M538.8 354.5L559.9 326.3L543.4 331.1L522.3 359.3z"/>
<path class="y" d="M522.3 622.7L543.4 621.3L526.9 630.3L505.8 631.5z"/>
<path class="r" d="M522.3 583.2L543.4 587.0L526.9 591.8L505.8 588.0z"/>
<path class="g" d="M522.3 359.3L543.4 331.1L526.9 336.0L505.8 364.2z"/>
<path class="y" d="M505.8 631.5L526.9 630.3L510.4 638.9L489.3 639.9z"/>
<path class="r" d="M505.8 588.0L526.9 591.8L510.4 596.7L489.3 592.9z"/>
<path class="g" d="M505.8 364.2L526.9 336.0L510.4 340.9L489.3 369.1z"/>
<path class="y" d="M489.3 639.9L510.4 638.9L493.9 647.2L472.8 648.0z"/>
<path class="r" d="M489.3 592.9L510.4 596.7L493.9 601.6L472.8 597.8z"/>
<path class="g" d="M489.3 369.1L510.4 340.9L493.9 345.7L472.8 373.9z"/>
<path class="y" d="M472.8 648.0L493.9 647.2L477.4 655.2L456.3 655.9z"/>
<path class="r" d="M472.8 597.8L493.9 601.6L477.4 606.4L456.3 602.6z"/>
<path class="g" d="M472.8 373.9L493.9 345.7L477.4 350.6L456.3 378.8z"/>
<path class="y" d="M456.3 655.9L477.4 655.2L460.9 662.9L439.9 663.5z"/>
<path class="r" d="M456.3 602.6L477.4 606.4L460.9 611.3L439.9 607.5z"/>
<path class="g" d="M456.3 378.8L477.4 350.6L460.9 355.5L439.9 383.7z"/>
<path class="r" d="M790.8 514.0L811.9 517.8L795.4 522.6L774.3 518.9z"/>
<path class="y" d="M790.8 258.2L811.9 225.0L795.4 309.9L774.3 332.7z"/>
<path class="g" d="M790.8 258.2L811.9 225.0L795.4 229.9L774.3 263.0z"/>
<path class="r" d="M774.3 518.9L795.4 522.6L778.9 527.5L757.9 523.7z"/>
<path class="y" d="M774.3 332.7L795.4 309.9L778.9 368.6L757.9 385.5z"/>
<path class="g" d="M774.3 263.0L795.4 229.9L778.9 234.8L757.9 267.9z"/>
<path class="r" d="M757.9 523.7L778.9 527.5L762.4 532.4L741.4 528.6z"/>
<path class="y" d="M757.9 385.5L778.9 368.6L762.4 412.2L741.4 425.2z"/>
<path class="g" d="M757.9 267.9L778.9 234.8L762.4 239.6L741.4 272.8z"/>
<path class="r" d="M741.4 528.6L762.4 532.4L746.0 537.2L724.9 533.5z"/>
<path class="y" d="M741.4 425.2L762.4 412.2L746.0 446.3L724.9 456.6z"/>
<path class="g" d="M741.4 272.8L762.4 239.6L746.0 244.5L724.9 277.6z"/>
<path class="r" d="M724.9 533.5L746.0 537.2L729.5 542.1L708.4 538.3z"/>
<path class="y" d="M724.9 456.6L746.0 446.3L729.5 474.0L708.4 482.4z"/>
<path class="g" d="M724.9 277.6L746.0 244.5L729.5 249.4L708.4 282.5z"/>
<path class="r" d="M708.4 538.3L729.5 542.1L713.0 547.0L691.9 543.2z"/>
<path class="y" d="M708.4 482.4L729.5 474.0L713.0 497.1L691.9 504.1z"/>
<path class="g" d="M708.4 282.5L729.5 249.4L713.0 254.2L691.9 287.4z"/>
<path class="r" d="M691.9 543.2L713.0 547.0L696.5 551.8L675.4 548.0z"/>
<path class="y" d="M691.9 504.1L713.0 497.1L696.5 517.0L675.4 522.8z"/>
<path class="g" d="M691.9 287.4L713.0 254.2L696.5 259.1L675.4 292.2z"/>
<path class="r" d="M675.4 548.0L696.5 551.8L680.0 556.7L658.9 552.9z"/>
<path class="y" d="M675.4 522.8L696.5 517.0L680.0 534.4L658.9 539.3z"/>
<path class="g" d="M675.4 292.2L696.5 259.1L680.0 264.0L658.9 297.1z"/>
<path class="r" d="M658.9 552.9L680.0 556.7L663.5 561.6L642.4 557.8z"/>
<path class="y" d="M658.9 539.3L680.0 534.4L663.5 549.9L642.4 554.1z"/>
<path class="g" d="M658.9 297.1L680.0 264.0L663.5 268.8L642.4 301.9z"/>
<path class="rs" d="M642.4 557.8L647.7 558.7L643.5 559.9L638.3 559.0z"/>
<path class="e" d="M642.4 557.8L647.7 558.7M638.3 559.0L642.4 557.8"/>
<path class="ys" d="M642.4 554.1L647.7 553.1L643.5 556.5L638.3 557.5z"/>
<path class="e" d="M642.4 554.1L647.7 553.1M638.3 557.5L642.4 554.1"/>
<path class="gs" d="M642.4 301.9L647.7 293.7L643.5 294.9L638.3 303.2z"/>
<path class="e" d="M642.4 301.9L647.7 293.7M638.3 303.2L642.4 301.9"/>
<path class="rs" d="M638.3 559.0L643.5 559.9L639.4 561.2L634.1 560.2z"/>
<path class="e" d="M634.1 560.2L638.3 559.0"/>
<path class="ys" d="M638.3 557.5L643.5 556.5L639.4 559.8L634.1 560.8z"/>
<path class="e" d="M634.1 560.8L638.3 557.5"/>
<path class="gs" d="M638.3 303.2L643.5 294.9L639.4 296.1L634.1 304.4z"/>
<path class="e" d="M634.1 304.4L638.3 303.2"/>
<path class="ys" d="M634.1 560.8L639.4 559.8L635.3 563.2L630.0 564.2z"/>
<path class="e" d="M630.0 564.2L634.1 560.8"/>
<path class="rs" d="M634.1 560.2L639.4 561.2L635.3 562.4L630.0 561.4z"/>
<path class="e" d="M630.0 561.4L634.1 560.2"/>
<path class="gs" d="M634.1 304.4L639.4 296.1L635.3 297.3L630.0 305.6z"/>
<path class="e" d="M630.0 305.6L634.1 304.4"/>
<path class="ys" d="M630.0 564.2L635.3 563.2L631.2 566.6L625.9 567.5z"/>
<path class="e" d="M631.2 566.6L625.9 567.5M625.9 567.5L630.0 564.2"/>
<path class="rs" d="M630.0 561.4L635.3 562.4L631.2 563.6L625.9 562.6z"/>
<path class="e" d="M631.2 563.6L625.9 562.6M625.9 562.6L630.0 561.4"/>
<path class="gs" d="M630.0 305.6L635.3 297.3L631.2 298.5L625.9 306.8z"/>
<path class="e" d="M631.2 298.5L625.9 306.8M625.9 306.8L630.0 305.6"/>
<path class="rs" d="M647.7 558.7L652.9 559.7L648.8 560.9L643.5 559.9z"/>
<path class="e" d="M647.7 558.7L652.9 559.7"/>
<path class="ys" d="M647.7 553.1L652.9 552.0L648.8 555.4L643.5 556.5z"/>
<path class="e" d="M647.7 553.1L652.9 552.0"/>
<path class="gs" d="M647.7 293.7L652.9 285.4L648.8 286.6L643.5 294.9z"/>
<path class="e" d="M647.7 293.7L652.9 285.4"/>
<path class="rs" d="M643.5 559.9L648.8 560.9L644.7 562.1L639.4 561.2z"/>
<path class="ys" d="M643.5 556.5L648.8 555.4L644.7 558.9L639.4 559.8z"/>
<path class="gs" d="M643.5 294.9L648.8 286.6L644.7 287.8L639.4 296.1z"/>
<path class="rs" d="M639.4 561.2L644.7 562.1L640.6 563.3L635.3 562.4z"/>
<path class="ys" d="M639.4 559.8L644.7 558.9L640.6 562.3L635.3 563.2z"/>
<path class="gs" d="M639.4 296.1L644.7 287.8L640.6 289.0L635.3 297.3z"/>
<path class="ys" d="M635.3 563.2L640.6 562.3L636.4 565.7L631.2 566.6z"/>
<path class="e" d="M636.4 565.7L631.2 566.6"/>
<path class="rs" d="M635.3 562.4L640.6 563.3L636.4 564.5L631.2 563.6z"/>
<path class="e" d="M636.4 564.5L631.2 563.6"/>
<path class="gs" d="M635.3 297.3L640.6 289.0L636.4 290.3L631.2 298.5z"/>
<path class="e" d="M636.4 290.3L631.2 298.5"/>
<path class="rs" d="M652.9 559.7L658.2 560.6L654.1 561.8L648.8 560.9z"/>
<path class="e" d="M652.9 559.7L658.2 560.6"/>
<path class="ys" d="M652.9 552.0L658.2 551.0L654.1 554.4L648.8 555.4z"/>
<path class="e" d="M652.9 552.0L658.2 551.0"/>
<path class="gs" d="M652.9 285.4L658.2 277.1L654.1 278.3L648.8 286.6z"/>
<path class="e" d="M652.9 285.4L658.2 277.1"/>
<path class="rs" d="M648.8 560.9L654.1 561.8L650.0 563.0L644.7 562.1z"/>
<path class="ys" d="M648.8 555.4L654.1 554.4L650.0 557.9L644.7 558.9z"/>
<path class="gs" d="M648.8 286.6L654.1 278.3L650.0 279.5L644.7 287.8z"/>
<path class="rs" d="M644.7 562.1L650.0 563.0L645.8 564.3L640.6 563.3z"/>
<path class="ys" d="M644.7 558.9L650.0 557.9L645.8 561.4L640.6 562.3z"/>
<path class="gs" d="M644.7 287.8L650.0 279.5L645.8 280.8L640.6 289.0z"/>
<path class="rs" d="M640.6 563.3L645.8 564.3L641.7 565.5L636.4 564.5z"/>
<path class="e" d="M641.7 565.5L636.4 564.5"/>
<path class="ys" d="M640.6 562.3L645.8 561.4L641.7 564.8L636.4 565.7z"/>
<path class="e" d="M641.7 564.8L636.4 565.7"/>
<path class="gs" d="M640.6 289.0L645.8 280.8L641.7 282.0L636.4 290.3z"/>
<path class="e" d="M641.7 282.0L636.4 290.3"/>
<path class="rs" d="M658.2 560.6L663.5 561.6L659.4 562.8L654.1 561.8z"/>
<path class="e" d="M658.2 560.6L663.5 561.6M663.5 561.6L659.4 562.8"/>
<path class="ys" d="M658.2 551.0L663.5 549.9L659.4 553.4L654.1 554.4z"/>
<path class="e" d="M658.2 551.0L663.5 549.9M663.5 549.9L659.4 553.4"/>
<path class="gs" d="M658.2 277.1L663.5 268.8L659.4 270.1L654.1 278.3z"/>
<path class="e" d="M658.2 277.1L663.5 268.8M663.5 268.8L659.4 270.1"/>
<path class="rs" d="M654.1 561.8L659.4 562.8L655.2 564.0L650.0 563.0z"/>
<path class="e" d="M659.4 562.8L655.2 564.0"/>
<path class="ys" d="M654.1 554.4L659.4 553.4L655.2 556.9L650.0 557.9z"/>
<path class="e" d="M659.4 553.4L655.2 556.9"/>
<path class="gs" d="M654.1 278.3L659.4 270.1L655.2 271.3L650.0 279.5z"/>
<path class="e" d="M659.4 270.1L655.2 271.3"/>
<path class="rs" d="M650.0 563.0L655.2 564.0L651.1 565.2L645.8 564.3z"/>
<path class="e" d="M655.2 564.0L651.1 565.2"/>
<path class="ys" d="M650.0 557.9L655.2 556.9L651.1 560.4L645.8 561.4z"/>
<path class="e" d="M655.2 556.9L651.1 560.4"/>
<path class="gs" d="M650.0 279.5L655.2 271.3L651.1 272.5L645.8 280.8z"/>
<path class="e" d="M655.2 271.3L651.1 272.5"/>
<path class="rs" d="M645.8 564.3L651.1 565.2L647.0 566.4L641.7 565.5z"/>
<path class="e" d="M651.1 565.2L647.0 566.4M647.0 566.4L641.7 565.5"/>
<path class="ys" d="M645.8 561.4L651.1 560.4L647.0 563.9L641.7 564.8z"/>
<path class="e" d="M651.1 560.4L647.0 563.9M647.0 563.9L641.7 564.8"/>
<path class="gs" d="M645.8 280.8L651.1 272.5L647.0 273.7L641.7 282.0z"/>
<path class="e" d="M651.1 272.5L647.0 273.7M647.0 273.7L641.7 282.0"/>
<path class="ys" d="M625.9 567.5L631.2 566.6L627.0 569.7L621.8 570.6z"/>
<path class="e" d="M625.9 567.5L631.2 566.6M621.8 570.6L625.9 567.5"/>
<path class="rs" d="M625.9 562.6L631.2 563.6L627.0 564.8L621.8 563.9z"/>
<path class="e" d="M625.9 562.6L631.2 563.6M621.8 563.9L625.9 562.6"/>
<path class="gs" d="M625.9 306.8L631.2 298.5L627.0 299.8L621.8 308.0z"/>
<path class="e" d="M625.9 306.8L631.2 298.5M621.8 308.0L625.9 306.8"/>
<path class="ys" d="M621.8 570.6L627.0 569.7L622.9 572.8L617.6 573.6z"/>
<path class="e" d="M617.6 573.6L621.8 570.6"/>
<path class="rs" d="M621.8 563.9L627.0 564.8L622.9 566.0L617.6 565.1z"/>
<path class="e" d="M617.6 565.1L621.8 563.9"/>
<path class="gs" d="M621.8 308.0L627.0 299.8L622.9 301.0L617.6 309.2z"/>
<path class="e" d="M617.6 309.2L621.8 308.0"/>
<path class="ys" d="M617.6 573.6L622.9 572.8L618.8 575.9L613.5 576.7z"/>
<path class="e" d="M613.5 576.7L617.6 573.6"/>
<path class="rs" d="M617.6 565.1L622.9 566.0L618.8 567.2L613.5 566.3z"/>
<path class="e" d="M613.5 566.3L617.6 565.1"/>
<path class="gs" d="M617.6 309.2L622.9 301.0L618.8 302.2L613.5 310.5z"/>
<path class="e" d="M613.5 310.5L617.6 309.2"/>
<path class="ys" d="M613.5 576.7L618.8 575.9L614.7 579.0L609.4 579.8z"/>
<path class="e" d="M614.7 579.0L609.4 579.8M609.4 579.8L613.5 576.7"/>
<path class="rs" d="M613.5 566.3L618.8 567.2L614.7 568.5L609.4 567.5z"/>
<path class="e" d="M614.7 568.5L609.4 567.5M609.4 567.5L613.5 566.3"/>
<path class="gs" d="M613.5 310.5L618.8 302.2L614.7 303.4L609.4 311.7z"/>
<path class="e" d="M614.7 303.4L609.4 311.7M609.4 311.7L613.5 310.5"/>
<path class="ys" d="M631.2 566.6L636.4 565.7L632.3 568.8L627.0 569.7z"/>
<path class="e" d="M631.2 566.6L636.4 565.7"/>
<path class="rs" d="M631.2 563.6L636.4 564.5L632.3 565.8L627.0 564.8z"/>
<path class="e" d="M631.2 563.6L636.4 564.5"/>
<path class="gs" d="M631.2 298.5L636.4 290.3L632.3 291.5L627.0 299.8z"/>
<path class="e" d="M631.2 298.5L636.4 290.3"/>
<path class="ys" d="M627.0 569.7L632.3 568.8L628.2 572.0L622.9 572.8z"/>
<path class="rs" d="M627.0 564.8L632.3 565.8L628.2 567.0L622.9 566.0z"/>
<path class="gs" d="M627.0 299.8L632.3 291.5L628.2 292.7L622.9 301.0z"/>
<path class="ys" d="M622.9 572.8L628.2 572.0L624.1 575.1L618.8 575.9z"/>
<path class="rs" d="M622.9 566.0L628.2 567.0L624.1 568.2L618.8 567.2z"/>
<path class="gs" d="M622.9 301.0L628.2 292.7L624.1 293.9L618.8 302.2z"/>
<path class="ys" d="M618.8 575.9L624.1 575.1L619.9 578.2L614.7 579.0z"/>
<path class="e" d="M619.9 578.2L614.7 579.0"/>
<path class="rs" d="M618.8 567.2L624.1 568.2L619.9 569.4L614.7 568.5z"/>
<path class="e" d="M619.9 569.4L614.7 568.5"/>
<path class="gs" d="M618.8 302.2L624.1 293.9L619.9 295.1L614.7 303.4z"/>
<path class="e" d="M619.9 295.1L614.7 303.4"/>
<path class="ys" d="M636.4 565.7L641.7 564.8L637.6 568.0L632.3 568.8z"/>
<path class="e" d="M636.4 565.7L641.7 564.8"/>
<path class="rs" d="M636.4 564.5L641.7 565.5L637.6 566.7L632.3 565.8z"/>
<path class="e" d="M636.4 564.5L641.7 565.5"/>
<path class="gs" d="M636.4 290.3L641.7 282.0L637.6 283.2L632.3 291.5z"/>
<path class="e" d="M636.4 290.3L641.7 282.0"/>
<path class="ys" d="M632.3 568.8L637.6 568.0L633.5 571.1L628.2 572.0z"/>
<path class="rs" d="M632.3 565.8L637.6 566.7L633.5 567.9L628.2 567.0z"/>
<path class="gs" d="M632.3 291.5L637.6 283.2L633.5 284.4L628.2 292.7z"/>
<path class="ys" d="M628.2 572.0L633.5 571.1L629.3 574.3L624.1 575.1z"/>
<path class="rs" d="M628.2 567.0L633.5 567.9L629.3 569.1L624.1 568.2z"/>
<path class="gs" d="M628.2 292.7L633.5 284.4L629.3 285.6L624.1 293.9z"/>
<path class="ys" d="M624.1 575.1L629.3 574.3L625.2 577.5L619.9 578.2z"/>
<path class="e" d="M625.2 577.5L619.9 578.2"/>
<path class="rs" d="M624.1 568.2L629.3 569.1L625.2 570.3L619.9 569.4z"/>
<path class="e" d="M625.2 570.3L619.9 569.4"/>
<path class="gs" d="M624.1 293.9L629.3 285.6L625.2 286.8L619.9 295.1z"/>
<path class="e" d="M625.2 286.8L619.9 295.1"/>
<path class="rs" d="M641.7 565.5L647.0 566.4L642.9 567.6L637.6 566.7z"/>
<path class="e" d="M641.7 565.5L647.0 566.4M647.0 566.4L642.9 567.6"/>
<path class="ys" d="M641.7 564.8L647.0 563.9L642.9 567.1L637.6 568.0z"/>
<path class="e" d="M641.7 564.8L647.0 563.9M647.0 563.9L642.9 567.1"/>
<path class="gs" d="M641.7 282.0L647.0 273.7L642.9 274.9L637.6 283.2z"/>
<path class="e" d="M641.7 282.0L647.0 273.7M647.0 273.7L642.9 274.9"/>
<path class="ys" d="M637.6 568.0L642.9 567.1L638.7 570.3L633.5 571.1z"/>
<path class="e" d="M642.9 567.1L638.7 570.3"/>
<path class="rs" d="M637.6 566.7L642.9 567.6L638.7 568.9L633.5 567.9z"/>
<path class="e" d="M642.9 567.6L638.7 568.9"/>
<path class="gs" d="M637.6 283.2L642.9 274.9L638.7 276.1L633.5 284.4z"/>
<path class="e" d="M642.9 274.9L638.7 276.1"/>
<path class="ys" d="M633.5 571.1L638.7 570.3L634.6 573.5L629.3 574.3z"/>
<path class="e" d="M638.7 570.3L634.6 573.5"/>
<path class="rs" d="M633.5 567.9L638.7 568.9L634.6 570.1L629.3 569.1z"/>
<path class="e" d="M638.7 568.9L634.6 570.1"/>
<path class="gs" d="M633.5 284.4L638.7 276.1L634.6 277.3L629.3 285.6z"/>
<path class="e" d="M638.7 276.1L634.6 277.3"/>
<path class="ys" d="M629.3 574.3L634.6 573.5L630.5 576.7L625.2 577.5z"/>
<path class="e" d="M634.6 573.5L630.5 576.7M630.5 576.7L625.2 577.5"/>
<path class="rs" d="M629.3 569.1L634.6 570.1L630.5 571.3L625.2 570.3z"/>
<path class="e" d="M634.6 570.1L630.5 571.3M630.5 571.3L625.2 570.3"/>
<path class="gs" d="M629.3 285.6L634.6 277.3L630.5 278.6L625.2 286.8z"/>
<path class="e" d="M634.6 277.3L630.5 278.6M630.5 278.6L625.2 286.8"/>
<path class="y" d="M609.4 579.8L630.5 576.7L614.0 588.5L592.9 591.2z"/>
<path class="r" d="M609.4 567.5L630.5 571.3L614.0 576.2L592.9 572.4z"/>
<path class="g" d="M609.4 311.7L630.5 278.6L614.0 283.4L592.9 316.5z"/>
<path class="y" d="M592.9 591.2L614.0 588.5L597.5 599.5L576.4 601.8z"/>
<path class="r" d="M592.9 572.4L614.0 576.2L597.5 581.0L576.4 577.2z"/>
<path class="g" d="M592.9 316.5L614.0 283.4L597.5 288.3L576.4 321.4z"/>
<path class="y" d="M576.4 601.8L597.5 599.5L581.0 609.8L559.9 611.8z"/>
<path class="r" d="M576.4 577.2L597.5 581.0L581.0 585.9L559.9 582.1z"/>
<path class="g" d="M576.4 321.4L597.5 288.3L581.0 293.2L559.9 326.3z"/>
<path class="y" d="M559.9 611.8L581.0 609.8L564.5 619.5L543.4 621.3z"/>
<path class="r" d="M559.9 582.1L581.0 585.9L564.5 590.8L543.4 587.0z"/>
<path class="g" d="M559.9 326.3L581.0 293.2L564.5 298.0L543.4 331.1z"/>
<path class="y" d="M543.4 621.3L564.5 619.5L548.0 628.8L526.9 630.3z"/>
<path class="r" d="M543.4 587.0L564.5 590.8L548.0 595.6L526.9 591.8z"/>
<path class="g" d="M543.4 331.1L564.5 298.0L548.0 302.9L526.9 336.0z"/>
<path class="y" d="M526.9 630.3L548.0 628.8L531.5 637.7L510.4 638.9z"/>
<path class="r" d="M526.9 591.8L548.0 595.6L531.5 600.5L510.4 596.7z"/>
<path class="g" d="M526.9 336.0L548.0 302.9L531.5 307.8L510.4 340.9z"/>
<path class="y" d="M510.4 638.9L531.5 637.7L515.0 646.1L493.9 647.2z"/>
<path class="r" d="M510.4 596.7L531.5 600.5L515.0 605.3L493.9 601.6z"/>
<path class="g" d="M510.4 340.9L531.5 307.8L515.0 312.6L493.9 345.7z"/>
<path class="y" d="M493.9 647.2L515.0 646.1L498.5 654.3L477.4 655.2z"/>
<path class="r" d="M493.9 601.6L515.0 605.3L498.5 610.2L477.4 606.4z"/>
<path class="g" d="M493.9 345.7L515.0 312.6L498.5 317.5L477.4 350.6z"/>
<path class="y" d="M477.4 655.2L498.5 654.3L482.0 662.2L460.9 662.9z"/>
<path class="r" d="M477.4 606.4L498.5 610.2L482.0 615.1L460.9 611.3z"/>
<path class="g" d="M477.4 350.6L498.5 317.5L482.0 322.3L460.9 355.5z"/>
<path class="r" d="M811.9 517.8L833.0 521.6L816.5 526.4L795.4 522.6z"/>
<path class="y" d="M811.9 225.0L833.0 185.8L816.5 283.3L795.4 309.9z"/>
<path class="g" d="M811.9 225.0L833.0 185.8L816.5 190.7L795.4 229.9z"/>
<path class="r" d="M795.4 522.6L816.5 526.4L800.0 531.3L778.9 527.5z"/>
<path class="y" d="M795.4 309.9L816.5 283.3L800.0 349.3L778.9 368.6z"/>
<path class="g" d="M795.4 229.9L816.5 190.7L800.0 195.5L778.9 234.8z"/>
<path class="r" d="M778.9 527.5L800.0 531.3L783.5 536.2L762.4 532.4z"/>
<path class="y" d="M778.9 368.6L800.0 349.3L783.5 397.4L762.4 412.2z"/>
<path class="g" d="M778.9 234.8L800.0 195.5L783.5 200.4L762.4 239.6z"/>
<path class="r" d="M762.4 532.4L783.5 536.2L767.0 541.0L746.0 537.2z"/>
<path class="y" d="M762.4 412.2L783.5 397.4L767.0 434.6L746.0 446.3z"/>
<path class="g" d="M762.4 239.6L783.5 200.4L767.0 205.2L746.0 244.5z"/>
<path class="r" d="M746.0 537.2L767.0 541.0L750.5 545.9L729.5 542.1z"/>
<path class="y" d="M746.0 446.3L767.0 434.6L750.5 464.5L729.5 474.0z"/>
<path class="g" d="M746.0 244.5L767.0 205.2L750.5 210.1L729.5 249.4z"/>
<path class="r" d="M729.5 542.1L750.5 545.9L734.0 550.8L713.0 547.0z"/>
<path class="y" d="M729.5 474.0L750.5 464.5L734.0 489.3L713.0 497.1z"/>
<path class="g" d="M729.5 249.4L750.5 210.1L734.0 215.0L713.0 254.2z"/>
<path class="r" d="M713.0 547.0L734.0 550.8L717.6 555.6L696.5 551.8z"/>
<path class="y" d="M713.0 497.1L734.0 489.3L717.6 510.4L696.5 517.0z"/>
<path class="g" d="M713.0 254.2L734.0 215.0L717.6 219.8L696.5 259.1z"/>
<path class="r" d="M696.5 551.8L717.6 555.6L701.1 560.5L680.0 556.7z"/>
<path class="y" d="M696.5 517.0L717.6 510.4L701.1 528.9L680.0 534.4z"/>
<path class="g" d="M696.5 259.1L717.6 219.8L701.1 224.7L680.0 264.0z"/>
<path class="r" d="M680.0 556.7L701.1 560.5L684.6 565.3L663.5 561.6z"/>
<path class="y" d="M680.0 534.4L701.1 528.9L684.6 545.1L663.5 549.9z"/>
<path class="g" d="M680.0 264.0L701.1 224.7L684.6 229.6L663.5 268.8z"/>
<path class="r" d="M663.5 561.6L684.6 565.3L668.1 570.2L647.0 566.4z"/>
<path class="y" d="M663.5 549.9L684.6 545.1L668.1 559.8L647.0 563.9z"/>
<path class="g" d="M663.5 268.8L684.6 229.6L668.1 234.4L647.0 273.7z"/>
<path class="rs" d="M647.0 566.4L652.3 567.4L648.1 568.6L642.9 567.6z"/>
<path class="e" d="M647.0 566.4L652.3 567.4M642.9 567.6L647.0 566.4"/>
<path class="ys" d="M647.0 563.9L652.3 562.9L648.1 566.1L642.9 567.1z"/>
<path class="e" d="M647.0 563.9L652.3 562.9M642.9 567.1L647.0 563.9"/>
<path class="gs" d="M647.0 273.7L652.3 263.9L648.1 265.1L642.9 274.9z"/>
<path class="e" d="M647.0 273.7L652.3 263.9M642.9 274.9L647.0 273.7"/>
<path class="rs" d="M642.9 567.6L648.1 568.6L644.0 569.8L638.7 568.9z"/>
<path class="e" d="M638.7 568.9L642.9 567.6"/>
<path class="ys" d="M642.9 567.1L648.1 566.1L644.0 569.3L638.7 570.3z"/>
<path class="e" d="M638.7 570.3L642.9 567.1"/>
<path class="gs" d="M642.9 274.9L648.1 265.1L644.0 266.3L638.7 276.1z"/>
<path class="e" d="M638.7 276.1L642.9 274.9"/>
<path class="ys" d="M638.7 570.3L644.0 569.3L639.9 572.6L634.6 573.5z"/>
<path class="e" d="M634.6 573.5L638.7 570.3"/>
<path class="rs" d="M638.7 568.9L644.0 569.8L639.9 571.0L634.6 570.1z"/>
<path class="e" d="M634.6 570.1L638.7 568.9"/>
<path class="gs" d="M638.7 276.1L644.0 266.3L639.9 267.5L634.6 277.3z"/>
<path class="e" d="M634.6 277.3L638.7 276.1"/>
<path class="ys" d="M634.6 573.5L639.9 572.6L635.8 575.8L630.5 576.7z"/>
<path class="e" d="M635.8 575.8L630.5 576.7M630.5 576.7L634.6 573.5"/>
<path class="rs" d="M634.6 570.1L639.9 571.0L635.8 572.2L630.5 571.3z"/>
<path class="e" d="M635.8 572.2L630.5 571.3M630.5 571.3L634.6 570.1"/>
<path class="gs" d="M634.6 277.3L639.9 267.5L635.8 268.7L630.5 278.6z"/>
<path class="e" d="M635.8 268.7L630.5 278.6M630.5 278.6L634.6 277.3"/>
<path class="rs" d="M652.3 567.4L657.5 568.3L653.4 569.5L648.1 568.6z"/>
<path class="e" d="M652.3 567.4L657.5 568.3"/>
<path class="ys" d="M652.3 562.9L657.5 561.9L653.4 565.1L648.1 566.1z"/>
<path class="e" d="M652.3 562.9L657.5 561.9"/>
<path class="gs" d="M652.3 263.9L657.5 254.1L653.4 255.3L648.1 265.1z"/>
<path class="e" d="M652.3 263.9L657.5 254.1"/>
<path class="rs" d="M648.1 568.6L653.4 569.5L649.3 570.8L644.0 569.8z"/>
<path class="ys" d="M648.1 566.1L653.4 565.1L649.3 568.4L644.0 569.3z"/>
<path class="gs" d="M648.1 265.1L653.4 255.3L649.3 256.5L644.0 266.3z"/>
<path class="rs" d="M644.0 569.8L649.3 570.8L645.2 572.0L639.9 571.0z"/>
<path class="ys" d="M644.0 569.3L649.3 568.4L645.2 571.6L639.9 572.6z"/>
<path class="gs" d="M644.0 266.3L649.3 256.5L645.2 257.7L639.9 267.5z"/>
<path class="ys" d="M639.9 572.6L645.2 571.6L641.0 574.9L635.8 575.8z"/>
<path class="e" d="M641.0 574.9L635.8 575.8"/>
<path class="rs" d="M639.9 571.0L645.2 572.0L641.0 573.2L635.8 572.2z"/>
<path class="e" d="M641.0 573.2L635.8 572.2"/>
<path class="gs" d="M639.9 267.5L645.2 257.7L641.0 258.9L635.8 268.7z"/>
<path class="e" d="M641.0 258.9L635.8 268.7"/>
<path class="rs" d="M657.5 568.3L662.8 569.3L658.7 570.5L653.4 569.5z"/>
<path class="e" d="M657.5 568.3L662.8 569.3"/>
<path class="ys" d="M657.5 561.9L662.8 560.8L658.7 564.1L653.4 565.1z"/>
<path class="e" d="M657.5 561.9L662.8 560.8"/>
<path class="gs" d="M657.5 254.1L662.8 244.3L658.7 245.5L653.4 255.3z"/>
<path class="e" d="M657.5 254.1L662.8 244.3"/>
<path class="rs" d="M653.4 569.5L658.7 570.5L654.5 571.7L649.3 570.8z"/>
<path class="ys" d="M653.4 565.1L658.7 564.1L654.5 567.4L649.3 568.4z"/>
<path class="gs" d="M653.4 255.3L658.7 245.5L654.5 246.7L649.3 256.5z"/>
<path class="rs" d="M649.3 570.8L654.5 571.7L650.4 572.9L645.2 572.0z"/>
<path class="ys" d="M649.3 568.4L654.5 567.4L650.4 570.7L645.2 571.6z"/>
<path class="gs" d="M649.3 256.5L654.5 246.7L650.4 247.9L645.2 257.7z"/>
<path class="rs" d="M645.2 572.0L650.4 572.9L646.3 574.1L641.0 573.2z"/>
<path class="e" d="M646.3 574.1L641.0 573.2"/>
<path class="ys" d="M645.2 571.6L650.4 570.7L646.3 574.0L641.0 574.9z"/>
<path class="e" d="M646.3 574.0L641.0 574.9"/>
<path class="gs" d="M645.2 257.7L650.4 247.9L646.3 249.1L641.0 258.9z"/>
<path class="e" d="M646.3 249.1L641.0 258.9"/>
<path class="rs" d="M662.8 569.3L668.1 570.2L663.9 571.4L658.7 570.5z"/>
<path class="e" d="M662.8 569.3L668.1 570.2M668.1 570.2L663.9 571.4"/>
<path class="ys" d="M662.8 560.8L668.1 559.8L663.9 563.1L658.7 564.1z"/>
<path class="e" d="M662.8 560.8L668.1 559.8M668.1 559.8L663.9 563.1"/>
<path class="gs" d="M662.8 244.3L668.1 234.4L663.9 235.7L658.7 245.5z"/>
<path class="e" d="M662.8 244.3L668.1 234.4M668.1 234.4L663.9 235.7"/>
<path class="rs" d="M658.7 570.5L663.9 571.4L659.8 572.6L654.5 571.7z"/>
<path class="e" d="M663.9 571.4L659.8 572.6"/>
<path class="ys" d="M658.7 564.1L663.9 563.1L659.8 566.5L654.5 567.4z"/>
<path class="e" d="M663.9 563.1L659.8 566.5"/>
<path class="gs" d="M658.7 245.5L663.9 235.7L659.8 236.9L654.5 246.7z"/>
<path class="e" d="M663.9 235.7L659.8 236.9"/>
<path class="rs" d="M654.5 571.7L659.8 572.6L655.7 573.9L650.4 572.9z"/>
<path class="e" d="M659.8 572.6L655.7 573.9"/>
<path class="ys" d="M654.5 567.4L659.8 566.5L655.7 569.8L650.4 570.7z"/>
<path class="e" d="M659.8 566.5L655.7 569.8"/>
<path class="gs" d="M654.5 246.7L659.8 236.9L655.7 238.1L650.4 247.9z"/>
<path class="e" d="M659.8 236.9L655.7 238.1"/>
<path class="rs" d="M650.4 572.9L655.7 573.9L651.6 575.1L646.3 574.1z"/>
<path class="e" d="M655.7 573.9L651.6 575.1M651.6 575.1L646.3 574.1"/>
<path class="ys" d="M650.4 570.7L655.7 569.8L651.6 573.1L646.3 574.0z"/>
<path class="e" d="M655.7 569.8L651.6 573.1M651.6 573.1L646.3 574.0"/>
<path class="gs" d="M650.4 247.9L655.7 238.1L651.6 239.3L646.3 249.1z"/>
<path class="e" d="M655.7 238.1L651.6 239.3M651.6 239.3L646.3 249.1"/>
<path class="ys" d="M630.5 576.7L635.8 575.8L631.6 578.8L626.4 579.6z"/>
<path class="e" d="M630.5 576.7L635.8 575.8M626.4 579.6L630.5 576.7"/>
<path class="rs" d="M630.5 571.3L635.8 572.2L631.6 573.5L626.4 572.5z"/>
<path class="e" d="M630.5 571.3L635.8 572.2M626.4 572.5L630.5 571.3"/>
<path class="gs" d="M630.5 278.6L635.8 268.7L631.6 270.0L626.4 279.8z"/>
<path class="e" d="M630.5 278.6L635.8 268.7M626.4 279.8L630.5 278.6"/>
<path class="ys" d="M626.4 579.6L631.6 578.8L627.5 581.8L622.2 582.6z"/>
<path class="e" d="M622.2 582.6L626.4 579.6"/>
<path class="rs" d="M626.4 572.5L631.6 573.5L627.5 574.7L622.2 573.7z"/>
<path class="e" d="M622.2 573.7L626.4 572.5"/>
<path class="gs" d="M626.4 279.8L631.6 270.0L627.5 271.2L622.2 281.0z"/>
<path class="e" d="M622.2 281.0L626.4 279.8"/>
<path class="ys" d="M622.2 582.6L627.5 581.8L623.4 584.7L618.1 585.5z"/>
<path class="e" d="M618.1 585.5L622.2 582.6"/>
<path class="rs" d="M622.2 573.7L627.5 574.7L623.4 575.9L618.1 574.9z"/>
<path class="e" d="M618.1 574.9L622.2 573.7"/>
<path class="gs" d="M622.2 281.0L627.5 271.2L623.4 272.4L618.1 282.2z"/>
<path class="e" d="M618.1 282.2L622.2 281.0"/>
<path class="ys" d="M618.1 585.5L623.4 584.7L619.3 587.7L614.0 588.5z"/>
<path class="e" d="M619.3 587.7L614.0 588.5M614.0 588.5L618.1 585.5"/>
<path class="rs" d="M618.1 574.9L623.4 575.9L619.3 577.1L614.0 576.2z"/>
<path class="e" d="M619.3 577.1L614.0 576.2M614.0 576.2L618.1 574.9"/>
<path class="gs" d="M618.1 282.2L623.4 272.4L619.3 273.6L614.0 283.4z"/>
<path class="e" d="M619.3 273.6L614.0 283.4M614.0 283.4L618.1 282.2"/>
<path class="ys" d="M635.8 575.8L641.0 574.9L636.9 577.9L631.6 578.8z"/>
<path class="e" d="M635.8 575.8L641.0 574.9"/>
<path class="rs" d="M635.8 572.2L641.0 573.2L636.9 574.4L631.6 573.5z"/>
<path class="e" d="M635.8 572.2L641.0 573.2"/>
<path class="gs" d="M635.8 268.7L641.0 258.9L636.9 260.1L631.6 270.0z"/>
<path class="e" d="M635.8 268.7L641.0 258.9"/>
<path class="ys" d="M631.6 578.8L636.9 577.9L632.8 580.9L627.5 581.8z"/>
<path class="rs" d="M631.6 573.5L636.9 574.4L632.8 575.6L627.5 574.7z"/>
<path class="gs" d="M631.6 270.0L636.9 260.1L632.8 261.4L627.5 271.2z"/>
<path class="ys" d="M627.5 581.8L632.8 580.9L628.7 583.9L623.4 584.7z"/>
<path class="rs" d="M627.5 574.7L632.8 575.6L628.7 576.8L623.4 575.9z"/>
<path class="gs" d="M627.5 271.2L632.8 261.4L628.7 262.6L623.4 272.4z"/>
<path class="ys" d="M623.4 584.7L628.7 583.9L624.5 586.9L619.3 587.7z"/>
<path class="e" d="M624.5 586.9L619.3 587.7"/>
<path class="rs" d="M623.4 575.9L628.7 576.8L624.5 578.0L619.3 577.1z"/>
<path class="e" d="M624.5 578.0L619.3 577.1"/>
<path class="gs" d="M623.4 272.4L628.7 262.6L624.5 263.8L619.3 273.6z"/>
<path class="e" d="M624.5 263.8L619.3 273.6"/>
<path class="ys" d="M641.0 574.9L646.3 574.0L642.2 577.1L636.9 577.9z"/>
<path class="e" d="M641.0 574.9L646.3 574.0"/>
<path class="rs" d="M641.0 573.2L646.3 574.1L642.2 575.3L636.9 574.4z"/>
<path class="e" d="M641.0 573.2L646.3 574.1"/>
<path class="gs" d="M641.0 258.9L646.3 249.1L642.2 250.3L636.9 260.1z"/>
<path class="e" d="M641.0 258.9L646.3 249.1"/>
<path class="ys" d="M636.9 577.9L642.2 577.1L638.1 580.1L632.8 580.9z"/>
<path class="rs" d="M636.9 574.4L642.2 575.3L638.1 576.6L632.8 575.6z"/>
<path class="gs" d="M636.9 260.1L642.2 250.3L638.1 251.6L632.8 261.4z"/>
<path class="ys" d="M632.8 580.9L638.1 580.1L633.9 583.1L628.7 583.9z"/>
<path class="rs" d="M632.8 575.6L638.1 576.6L633.9 577.8L628.7 576.8z"/>
<path class="gs" d="M632.8 261.4L638.1 251.6L633.9 252.8L628.7 262.6z"/>
<path class="ys" d="M628.7 583.9L633.9 583.1L629.8 586.2L624.5 586.9z"/>
<path class="e" d="M629.8 586.2L624.5 586.9"/>
<path class="rs" d="M628.7 576.8L633.9 577.8L629.8 579.0L624.5 578.0z"/>
<path class="e" d="M629.8 579.0L624.5 578.0"/>
<path class="gs" d="M628.7 262.6L633.9 252.8L629.8 254.0L624.5 263.8z"/>
<path class="e" d="M629.8 254.0L624.5 263.8"/>
<path class="rs" d="M646.3 574.1L651.6 575.1L647.5 576.3L642.2 575.3z"/>
<path class="e" d="M646.3 574.1L651.6 575.1M651.6 575.1L647.5 576.3"/>
<path class="ys" d="M646.3 574.0L651.6 573.1L647.5 576.2L642.2 577.1z"/>
<path class="e" d="M646.3 574.0L651.6 573.1M651.6 573.1L647.5 576.2"/>
<path class="gs" d="M646.3 249.1L651.6 239.3L647.5 240.5L642.2 250.3z"/>
<path class="e" d="M646.3 249.1L651.6 239.3M651.6 239.3L647.5 240.5"/>
<path class="ys" d="M642.2 577.1L647.5 576.2L643.3 579.3L638.1 580.1z"/>
<path class="e" d="M647.5 576.2L643.3 579.3"/>
<path class="rs" d="M642.2 575.3L647.5 576.3L643.3 577.5L638.1 576.6z"/>
<path class="e" d="M647.5 576.3L643.3 577.5"/>
<path class="gs" d="M642.2 250.3L647.5 240.5L643.3 241.7L638.1 251.6z"/>
<path class="e" d="M647.5 240.5L643.3 241.7"/>
<path class="ys" d="M638.1 580.1L643.3 579.3L639.2 582.3L633.9 583.1z"/>
<path class="e" d="M643.3 579.3L639.2 582.3"/>
<path class="rs" d="M638.1 576.6L643.3 577.5L639.2 578.7L633.9 577.8z"/>
<path class="e" d="M643.3 577.5L639.2 578.7"/>
<path class="gs" d="M638.1 251.6L643.3 241.7L639.2 243.0L633.9 252.8z"/>
<path class="e" d="M643.3 241.7L639.2 243.0"/>
<path class="ys" d="M633.9 583.1L639.2 582.3L635.1 585.4L629.8 586.2z"/>
<path class="e" d="M639.2 582.3L635.1 585.4M635.1 585.4L629.8 586.2"/>
<path class="rs" d="M633.9 577.8L639.2 578.7L635.1 579.9L629.8 579.0z"/>
<path class="e" d="M639.2 578.7L635.1 579.9M635.1 579.9L629.8 579.0"/>
<path class="gs" d="M633.9 252.8L639.2 243.0L635.1 244.2L629.8 254.0z"/>
<path class="e" d="M639.2 243.0L635.1 244.2M635.1 244.2L629.8 254.0"/>
<path class="y" d="M614.0 588.5L635.1 585.4L618.6 596.8L597.5 599.5z"/>
<path class="r" d="M614.0 576.2L635.1 579.9L618.6 584.8L597.5 581.0z"/>
<path class="g" d="M614.0 283.4L635.1 244.2L618.6 249.0L597.5 288.3z"/>
<path class="y" d="M597.5 599.5L618.6 596.8L602.1 607.5L581.0 609.8z"/>
<path class="r" d="M597.5 581.0L618.6 584.8L602.1 589.7L581.0 585.9z"/>
<path class="g" d="M597.5 288.3L618.6 249.0L602.1 253.9L581.0 293.2z"/>
<path class="y" d="M581.0 609.8L602.1 607.5L585.6 617.5L564.5 619.5z"/>
<path class="r" d="M581.0 585.9L602.1 589.7L585.6 594.5L564.5 590.8z"/>
<path class="g" d="M581.0 293.2L602.1 253.9L585.6 258.8L564.5 298.0z"/>
<path class="y" d="M564.5 619.5L585.6 617.5L569.1 627.0L548.0 628.8z"/>
<path class="r" d="M564.5 590.8L585.6 594.5L569.1 599.4L548.0 595.6z"/>
<path class="g" d="M564.5 298.0L585.6 258.8L569.1 263.6L548.0 302.9z"/>
<path class="y" d="M548.0 628.8L569.1 627.0L552.6 636.1L531.5 637.7z"/>
<path class="r" d="M548.0 595.6L569.1 599.4L552.6 604.3L531.5 600.5z"/>
<path class="g" d="M548.0 302.9L569.1 263.6L552.6 268.5L531.5 307.8z"/>
<path class="y" d="M531.5 637.7L552.6 636.1L536.1 644.8L515.0 646.1z"/>
<path class="r" d="M531.5 600.5L552.6 604.3L536.1 609.1L515.0 605.3z"/>
<path class="g" d="M531.5 307.8L552.6 268.5L536.1 273.4L515.0 312.6z"/>
<path class="y" d="M515.0 646.1L536.1 644.8L519.6 653.1L498.5 654.3z"/>
<path class="r" d="M515.0 605.3L536.1 609.1L519.6 614.0L498.5 610.2z"/>
<path class="g" d="M515.0 312.6L536.1 273.4L519.6 278.2L498.5 317.5z"/>
<path class="y" d="M498.5 654.3L519.6 653.1L503.1 661.2L482.0 662.2z"/>
<path class="r" d="M498.5 610.2L519.6 614.0L503.1 618.9L482.0 615.1z"/>
<path class="g" d="M498.5 317.5L519.6 278.2L503.1 283.1L482.0 322.3z"/>
<path class="r" d="M833.0 521.6L854.1 525.3L837.6 530.2L816.5 526.4z"/>
<path class="y" d="M833.0 185.8L854.1 138.7L837.6 252.2L816.5 283.3z"/>
<path class="g" d="M833.0 185.8L854.1 138.7L837.6 143.6L816.5 190.7z"/>
<path class="r" d="M816.5 526.4L837.6 530.2L821.1 535.1L800.0 531.3z"/>
<path class="y" d="M816.5 283.3L837.6 252.2L821.1 326.9L800.0 349.3z"/>
<path class="g" d="M816.5 190.7L837.6 143.6L821.1 148.4L800.0 195.5z"/>
<path class="r" d="M800.0 531.3L821.1 535.1L804.6 539.9L783.5 536.2z"/>
<path class="y" d="M800.0 349.3L821.1 326.9L804.6 380.5L783.5 397.4z"/>
<path class="g" d="M800.0 195.5L821.1 148.4L804.6 153.3L783.5 200.4z"/>
<path class="r" d="M783.5 536.2L804.6 539.9L788.1 544.8L767.0 541.0z"/>
<path class="y" d="M783.5 397.4L804.6 380.5L788.1 421.3L767.0 434.6z"/>
<path class="g" d="M783.5 200.4L804.6 153.3L788.1 158.2L767.0 205.2z"/>
<path class="r" d="M767.0 541.0L788.1 544.8L771.6 549.7L750.5 545.9z"/>
<path class="y" d="M767.0 434.6L788.1 421.3L771.6 453.7L750.5 464.5z"/>
<path class="g" d="M767.0 205.2L788.1 158.2L771.6 163.0L750.5 210.1z"/>
<path class="r" d="M750.5 545.9L771.6 549.7L755.1 554.5L734.0 550.8z"/>
<path class="y" d="M750.5 464.5L771.6 453.7L755.1 480.4L734.0 489.3z"/>
<path class="g" d="M750.5 210.1L771.6 163.0L755.1 167.9L734.0 215.0z"/>
<path class="r" d="M734.0 550.8L755.1 554.5L738.6 559.4L717.6 555.6z"/>
<path class="y" d="M734.0 489.3L755.1 480.4L738.6 503.0L717.6 510.4z"/>
<path class="g" d="M734.0 215.0L755.1 167.9L738.6 172.8L717.6 219.8z"/>
<path class="r" d="M717.6 555.6L738.6 559.4L722.1 564.3L701.1 560.5z"/>
<path class="y" d="M717.6 510.4L738.6 503.0L722.1 522.5L701.1 528.9z"/>
<path class="g" d="M717.6 219.8L738.6 172.8L722.1 177.6L701.1 224.7z"/>
<path class="r" d="M701.1 560.5L722.1 564.3L705.7 569.1L684.6 565.3z"/>
<path class="y" d="M701.1 528.9L722.1 522.5L705.7 539.7L684.6 545.1z"/>
<path class="g" d="M701.1 224.7L722.1 177.6L705.7 182.5L684.6 229.6z"/>
<path class="r" d="M684.6 565.3L705.7 569.1L689.2 574.0L668.1 570.2z"/>
<path class="y" d="M684.6 545.1L705.7 539.7L689.2 555.1L668.1 559.8z"/>
<path class="g" d="M684.6 229.6L705.7 182.5L689.2 187.3L668.1 234.4z"/>
<path class="r" d="M668.1 570.2L689.2 574.0L672.7 578.9L651.6 575.1z"/>
<path class="y" d="M668.1 559.8L689.2 555.1L672.7 569.1L651.6 573.1z"/>
<path class="g" d="M668.1 234.4L689.2 187.3L672.7 192.2L651.6 239.3z"/>
<path class="rs" d="M651.6 575.1L656.8 576.0L652.7 577.2L647.5 576.3z"/>
<path class="e" d="M651.6 575.1L656.8 576.0M647.5 576.3L651.6 575.1"/>
<path class="ys" d="M651.6 573.1L656.8 572.1L652.7 575.2L647.5 576.2z"/>
<path class="e" d="M651.6 573.1L656.8 572.1M647.5 576.2L651.6 573.1"/>
<path class="gs" d="M651.6 239.3L656.8 227.5L652.7 228.7L647.5 240.5z"/>
<path class="e" d="M651.6 239.3L656.8 227.5M647.5 240.5L651.6 239.3"/>
<path class="rs" d="M647.5 576.3L652.7 577.2L648.6 578.5L643.3 577.5z"/>
<path class="e" d="M643.3 577.5L647.5 576.3"/>
<path class="ys" d="M647.5 576.2L652.7 575.2L648.6 578.3L643.3 579.3z"/>
<path class="e" d="M643.3 579.3L647.5 576.2"/>
<path class="gs" d="M647.5 240.5L652.7 228.7L648.6 230.0L643.3 241.7z"/>
<path class="e" d="M643.3 241.7L647.5 240.5"/>
<path class="ys" d="M643.3 579.3L648.6 578.3L644.5 581.4L639.2 582.3z"/>
<path class="e" d="M639.2 582.3L643.3 579.3"/>
<path class="rs" d="M643.3 577.5L648.6 578.5L644.5 579.7L639.2 578.7z"/>
<path class="e" d="M639.2 578.7L643.3 577.5"/>
<path class="gs" d="M643.3 241.7L648.6 230.0L644.5 231.2L639.2 243.0z"/>
<path class="e" d="M639.2 243.0L643.3 241.7"/>
<path class="ys" d="M639.2 582.3L644.5 581.4L640.4 584.5L635.1 585.4z"/>
<path class="e" d="M640.4 584.5L635.1 585.4M635.1 585.4L639.2 582.3"/>
<path class="rs" d="M639.2 578.7L644.5 579.7L640.4 580.9L635.1 579.9z"/>
<path class="e" d="M640.4 580.9L635.1 579.9M635.1 579.9L639.2 578.7"/>
<path class="gs" d="M639.2 243.0L644.5 231.2L640.4 232.4L635.1 244.2z"/>
<path class="e" d="M640.4 232.4L635.1 244.2M635.1 244.2L639.2 243.0"/>
<path class="rs" d="M656.8 576.0L662.1 577.0L658.0 578.2L652.7 577.2z"/>
<path class="e" d="M656.8 576.0L662.1 577.0"/>
<path class="ys" d="M656.8 572.1L662.1 571.1L658.0 574.2L652.7 575.2z"/>
<path class="e" d="M656.8 572.1L662.1 571.1"/>
<path class="gs" d="M656.8 227.5L662.1 215.8L658.0 217.0L652.7 228.7z"/>
<path class="e" d="M656.8 227.5L662.1 215.8"/>
<path class="rs" d="M652.7 577.2L658.0 578.2L653.9 579.4L648.6 578.5z"/>
<path class="ys" d="M652.7 575.2L658.0 574.2L653.9 577.4L648.6 578.3z"/>
<path class="gs" d="M652.7 228.7L658.0 217.0L653.9 218.2L648.6 230.0z"/>
<path class="rs" d="M648.6 578.5L653.9 579.4L649.7 580.6L644.5 579.7z"/>
<path class="ys" d="M648.6 578.3L653.9 577.4L649.7 580.5L644.5 581.4z"/>
<path class="gs" d="M648.6 230.0L653.9 218.2L649.7 219.4L644.5 231.2z"/>
<path class="ys" d="M644.5 581.4L649.7 580.5L645.6 583.6L640.4 584.5z"/>
<path class="e" d="M645.6 583.6L640.4 584.5"/>
<path class="rs" d="M644.5 579.7L649.7 580.6L645.6 581.8L640.4 580.9z"/>
<path class="e" d="M645.6 581.8L640.4 580.9"/>
<path class="gs" d="M644.5 231.2L649.7 219.4L645.6 220.6L640.4 232.4z"/>
<path class="e" d="M645.6 220.6L640.4 232.4"/>
<path class="rs" d="M662.1 577.0L667.4 577.9L663.3 579.1L658.0 578.2z"/>
<path class="e" d="M662.1 577.0L667.4 577.9"/>
<path class="ys" d="M662.1 571.1L667.4 570.1L663.3 573.2L658.0 574.2z"/>
<path class="e" d="M662.1 571.1L667.4 570.1"/>
<path class="gs" d="M662.1 215.8L667.4 204.0L663.3 205.2L658.0 217.0z"/>
<path class="e" d="M662.1 215.8L667.4 204.0"/>
<path class="rs" d="M658.0 578.2L663.3 579.1L659.1 580.3L653.9 579.4z"/>
<path class="ys" d="M658.0 574.2L663.3 573.2L659.1 576.4L653.9 577.4z"/>
<path class="gs" d="M658.0 217.0L663.3 205.2L659.1 206.4L653.9 218.2z"/>
<path class="rs" d="M653.9 579.4L659.1 580.3L655.0 581.6L649.7 580.6z"/>
<path class="ys" d="M653.9 577.4L659.1 576.4L655.0 579.6L649.7 580.5z"/>
<path class="gs" d="M653.9 218.2L659.1 206.4L655.0 207.6L649.7 219.4z"/>
<path class="rs" d="M649.7 580.6L655.0 581.6L650.9 582.8L645.6 581.8z"/>
<path class="e" d="M650.9 582.8L645.6 581.8"/>
<path class="ys" d="M649.7 580.5L655.0 579.6L650.9 582.7L645.6 583.6z"/>
<path class="e" d="M650.9 582.7L645.6 583.6"/>
<path class="gs" d="M649.7 219.4L655.0 207.6L650.9 208.8L645.6 220.6z"/>
<path class="e" d="M650.9 208.8L645.6 220.6"/>
<path class="rs" d="M667.4 577.9L672.7 578.9L668.5 580.1L663.3 579.1z"/>
<path class="e" d="M667.4 577.9L672.7 578.9M672.7 578.9L668.5 580.1"/>
<path class="ys" d="M667.4 570.1L672.7 569.1L668.5 572.3L663.3 573.2z"/>
<path class="e" d="M667.4 570.1L672.7 569.1M672.7 569.1L668.5 572.3"/>
<path class="gs" d="M667.4 204.0L672.7 192.2L668.5 193.4L663.3 205.2z"/>
<path class="e" d="M667.4 204.0L672.7 192.2M672.7 192.2L668.5 193.4"/>
<path class="rs" d="M663.3 579.1L668.5 580.1L664.4 581.3L659.1 580.3z"/>
<path class="e" d="M668.5 580.1L664.4 581.3"/>
<path class="ys" d="M663.3 573.2L668.5 572.3L664.4 575.5L659.1 576.4z"/>
<path class="e" d="M668.5 572.3L664.4 575.5"/>
<path class="gs" d="M663.3 205.2L668.5 193.4L664.4 194.6L659.1 206.4z"/>
<path class="e" d="M668.5 193.4L664.4 194.6"/>
<path class="rs" d="M659.1 580.3L664.4 581.3L660.3 582.5L655.0 581.6z"/>
<path class="e" d="M664.4 581.3L660.3 582.5"/>
<path class="ys" d="M659.1 576.4L664.4 575.5L660.3 578.7L655.0 579.6z"/>
<path class="e" d="M664.4 575.5L660.3 578.7"/>
<path class="gs" d="M659.1 206.4L664.4 194.6L660.3 195.9L655.0 207.6z"/>
<path class="e" d="M664.4 194.6L660.3 195.9"/>
<path class="rs" d="M655.0 581.6L660.3 582.5L656.2 583.7L650.9 582.8z"/>
<path class="e" d="M660.3 582.5L656.2 583.7M656.2 583.7L650.9 582.8"/>
<path class="ys" d="M655.0 579.6L660.3 578.7L656.2 581.8L650.9 582.7z"/>
<path class="e" d="M660.3 578.7L656.2 581.8M656.2 581.8L650.9 582.7"/>
<path class="gs" d="M655.0 207.6L660.3 195.9L656.2 197.1L650.9 208.8z"/>
<path class="e" d="M660.3 195.9L656.2 197.1M656.2 197.1L650.9 208.8"/>
<path class="ys" d="M635.1 585.4L640.4 584.5L636.2 587.4L631.0 588.2z"/>
<path class="e" d="M635.1 585.4L640.4 584.5M631.0 588.2L635.1 585.4"/>
<path class="rs" d="M635.1 579.9L640.4 580.9L636.2 582.1L631.0 581.2z"/>
<path class="e" d="M635.1 579.9L640.4 580.9M631.0 581.2L635.1 579.9"/>
<path class="gs" d="M635.1 244.2L640.4 232.4L636.2 233.6L631.0 245.4z"/>
<path class="e" d="M635.1 244.2L640.4 232.4M631.0 245.4L635.1 244.2"/>
<path class="ys" d="M631.0 588.2L636.2 587.4L632.1 590.3L626.8 591.1z"/>
<path class="e" d="M626.8 591.1L631.0 588.2"/>
<path class="rs" d="M631.0 581.2L636.2 582.1L632.1 583.3L626.8 582.4z"/>
<path class="e" d="M626.8 582.4L631.0 581.2"/>
<path class="gs" d="M631.0 245.4L636.2 233.6L632.1 234.8L626.8 246.6z"/>
<path class="e" d="M626.8 246.6L631.0 245.4"/>
<path class="ys" d="M626.8 591.1L632.1 590.3L628.0 593.1L622.7 593.9z"/>
<path class="e" d="M622.7 593.9L626.8 591.1"/>
<path class="rs" d="M626.8 582.4L632.1 583.3L628.0 584.5L622.7 583.6z"/>
<path class="e" d="M622.7 583.6L626.8 582.4"/>
<path class="gs" d="M626.8 246.6L632.1 234.8L628.0 236.0L622.7 247.8z"/>
<path class="e" d="M622.7 247.8L626.8 246.6"/>
<path class="ys" d="M622.7 593.9L628.0 593.1L623.9 596.0L618.6 596.8z"/>
<path class="e" d="M623.9 596.0L618.6 596.8M618.6 596.8L622.7 593.9"/>
<path class="rs" d="M622.7 583.6L628.0 584.5L623.9 585.8L618.6 584.8z"/>
<path class="e" d="M623.9 585.8L618.6 584.8M618.6 584.8L622.7 583.6"/>
<path class="gs" d="M622.7 247.8L628.0 236.0L623.9 237.3L618.6 249.0z"/>
<path class="e" d="M623.9 237.3L618.6 249.0M618.6 249.0L622.7 247.8"/>
<path class="ys" d="M640.4 584.5L645.6 583.6L641.5 586.5L636.2 587.4z"/>
<path class="e" d="M640.4 584.5L645.6 583.6"/>
<path class="rs" d="M640.4 580.9L645.6 581.8L641.5 583.1L636.2 582.1z"/>
<path class="e" d="M640.4 580.9L645.6 581.8"/>
<path class="gs" d="M640.4 232.4L645.6 220.6L641.5 221.8L636.2 233.6z"/>
<path class="e" d="M640.4 232.4L645.6 220.6"/>
<path class="ys" d="M636.2 587.4L641.5 586.5L637.4 589.4L632.1 590.3z"/>
<path class="rs" d="M636.2 582.1L641.5 583.1L637.4 584.3L632.1 583.3z"/>
<path class="gs" d="M636.2 233.6L641.5 221.8L637.4 223.1L632.1 234.8z"/>
<path class="ys" d="M632.1 590.3L637.4 589.4L633.3 592.3L628.0 593.1z"/>
<path class="rs" d="M632.1 583.3L637.4 584.3L633.3 585.5L628.0 584.5z"/>
<path class="gs" d="M632.1 234.8L637.4 223.1L633.3 224.3L628.0 236.0z"/>
<path class="ys" d="M628.0 593.1L633.3 592.3L629.1 595.2L623.9 596.0z"/>
<path class="e" d="M629.1 595.2L623.9 596.0"/>
<path class="rs" d="M628.0 584.5L633.3 585.5L629.1 586.7L623.9 585.8z"/>
<path class="e" d="M629.1 586.7L623.9 585.8"/>
<path class="gs" d="M628.0 236.0L633.3 224.3L629.1 225.5L623.9 237.3z"/>
<path class="e" d="M629.1 225.5L623.9 237.3"/>
<path class="ys" d="M645.6 583.6L650.9 582.7L646.8 585.7L641.5 586.5z"/>
<path class="e" d="M645.6 583.6L650.9 582.7"/>
<path class="rs" d="M645.6 581.8L650.9 582.8L646.8 584.0L641.5 583.1z"/>
<path class="e" d="M645.6 581.8L650.9 582.8"/>
<path class="gs" d="M645.6 220.6L650.9 208.8L646.8 210.1L641.5 221.8z"/>
<path class="e" d="M645.6 220.6L650.9 208.8"/>
<path class="ys" d="M641.5 586.5L646.8 585.7L642.6 588.6L637.4 589.4z"/>
<path class="rs" d="M641.5 583.1L646.8 584.0L642.6 585.2L637.4 584.3z"/>
<path class="gs" d="M641.5 221.8L646.8 210.1L642.6 211.3L637.4 223.1z"/>
<path class="ys" d="M637.4 589.4L642.6 588.6L638.5 591.5L633.3 592.3z"/>
<path class="rs" d="M637.4 584.3L642.6 585.2L638.5 586.4L633.3 585.5z"/>
<path class="gs" d="M637.4 223.1L642.6 211.3L638.5 212.5L633.3 224.3z"/>
<path class="ys" d="M633.3 592.3L638.5 591.5L634.4 594.5L629.1 595.2z"/>
<path class="e" d="M634.4 594.5L629.1 595.2"/>
<path class="rs" d="M633.3 585.5L638.5 586.4L634.4 587.6L629.1 586.7z"/>
<path class="e" d="M634.4 587.6L629.1 586.7"/>
<path class="gs" d="M633.3 224.3L638.5 212.5L634.4 213.7L629.1 225.5z"/>
<path class="e" d="M634.4 213.7L629.1 225.5"/>
<path class="rs" d="M650.9 582.8L656.2 583.7L652.0 584.9L646.8 584.0z"/>
<path class="e" d="M650.9 582.8L656.2 583.7M656.2 583.7L652.0 584.9"/>
<path class="ys" d="M650.9 582.7L656.2 581.8L652.0 584.8L646.8 585.7z"/>
<path class="e" d="M650.9 582.7L656.2 581.8M656.2 581.8L652.0 584.8"/>
<path class="gs" d="M650.9 208.8L656.2 197.1L652.0 198.3L646.8 210.1z"/>
<path class="e" d="M650.9 208.8L656.2 197.1M656.2 197.1L652.0 198.3"/>
<path class="ys" d="M646.8 585.7L652.0 584.8L647.9 587.8L642.6 588.6z"/>
<path class="e" d="M652.0 584.8L647.9 587.8"/>
<path class="rs" d="M646.8 584.0L652.0 584.9L647.9 586.2L642.6 585.2z"/>
<path class="e" d="M652.0 584.9L647.9 586.2"/>
<path class="gs" d="M646.8 210.1L652.0 198.3L647.9 199.5L642.6 211.3z"/>
<path class="e" d="M652.0 198.3L647.9 199.5"/>
<path class="ys" d="M642.6 588.6L647.9 587.8L643.8 590.7L638.5 591.5z"/>
<path class="e" d="M647.9 587.8L643.8 590.7"/>
<path class="rs" d="M642.6 585.2L647.9 586.2L643.8 587.4L638.5 586.4z"/>
<path class="e" d="M647.9 586.2L643.8 587.4"/>
<path class="gs" d="M642.6 211.3L647.9 199.5L643.8 200.7L638.5 212.5z"/>
<path class="e" d="M647.9 199.5L643.8 200.7"/>
<path class="ys" d="M638.5 591.5L643.8 590.7L639.7 593.7L634.4 594.5z"/>
<path class="e" d="M643.8 590.7L639.7 593.7M639.7 593.7L634.4 594.5"/>
<path class="rs" d="M638.5 586.4L643.8 587.4L639.7 588.6L634.4 587.6z"/>
<path class="e" d="M643.8 587.4L639.7 588.6M639.7 588.6L634.4 587.6"/>
<path class="gs" d="M638.5 212.5L643.8 200.7L639.7 201.9L634.4 213.7z"/>
<path class="e" d="M643.8 200.7L639.7 201.9M639.7 201.9L634.4 213.7"/>
<path class="y" d="M618.6 596.8L639.7 593.7L623.2 604.7L602.1 607.5z"/>
<path class="r" d="M618.6 584.8L639.7 588.6L623.2 593.5L602.1 589.7z"/>
<path class="g" d="M618.6 249.0L639.7 201.9L623.2 206.8L602.1 253.9z"/>
<path class="y" d="M602.1 607.5L623.2 604.7L606.7 615.1L585.6 617.5z"/>
<path class="r" d="M602.1 589.7L623.2 593.5L606.7 598.3L585.6 594.5z"/>
<path class="g" d="M602.1 253.9L623.2 206.8L606.7 211.7L585.6 258.8z"/>
<path class="y" d="M585.6 617.5L606.7 615.1L590.2 624.9L569.1 627.0z"/>
<path class="r" d="M585.6 594.5L606.7 598.3L590.2 603.2L569.1 599.4z"/>
<path class="g" d="M585.6 258.8L606.7 211.7L590.2 216.5L569.1 263.6z"/>
<path class="y" d="M569.1 627.0L590.2 624.9L573.7 634.2L552.6 636.1z"/>
<path class="r" d="M569.1 599.4L590.2 603.2L573.7 608.1L552.6 604.3z"/>
<path class="g" d="M569.1 263.6L590.2 216.5L573.7 221.4L552.6 268.5z"/>
<path class="y" d="M552.6 636.1L573.7 634.2L557.2 643.1L536.1 644.8z"/>
<path class="r" d="M552.6 604.3L573.7 608.1L557.2 612.9L536.1 609.1z"/>
<path class="g" d="M552.6 268.5L573.7 221.4L557.2 226.3L536.1 273.4z"/>
<path class="y" d="M536.1 644.8L557.2 643.1L540.7 651.7L519.6 653.1z"/>
<path class="r" d="M536.1 609.1L557.2 612.9L540.7 617.8L519.6 614.0z"/>
<path class="g" d="M536.1 273.4L557.2 226.3L540.7 231.1L519.6 278.2z"/>
<path class="y" d="M519.6 653.1L540.7 651.7L524.2 660.0L503.1 661.2z"/>
<path class="r" d="M519.6 614.0L540.7 617.8L524.2 622.6L503.1 618.9z"/>
<path class="g" d="M519.6 278.2L540.7 231.1L524.2 236.0L503.1 283.1z"/>
<path class="r" d="M854.1 525.3L875.2 529.1L858.7 534.0L837.6 530.2z"/>
<path class="y" d="M854.1 138.7L875.2 81.4L858.7 215.4L837.6 252.2z"/>
<path class="g" d="M854.1 138.7L875.2 81.4L858.7 86.3L837.6 143.6z"/>
<path class="r" d="M837.6 530.2L858.7 534.0L842.2 538.9L821.1 535.1z"/>
<path class="y" d="M837.6 252.2L858.7 215.4L842.2 301.0L821.1 326.9z"/>
<path class="g" d="M837.6 143.6L858.7 86.3L842.2 91.2L821.1 148.4z"/>
<path class="r" d="M821.1 535.1L842.2 538.9L825.7 543.7L804.6 539.9z"/>
<path class="y" d="M821.1 326.9L842.2 301.0L825.7 361.1L804.6 380.5z"/>
<path class="g" d="M821.1 148.4L842.2 91.2L825.7 96.0L804.6 153.3z"/>
<path class="r" d="M804.6 539.9L825.7 543.7L809.2 548.6L788.1 544.8z"/>
<path class="y" d="M804.6 380.5L825.7 361.1L809.2 406.1L788.1 421.3z"/>
<path class="g" d="M804.6 153.3L825.7 96.0L809.2 100.9L788.1 158.2z"/>
<path class="r" d="M788.1 544.8L809.2 548.6L792.7 553.5L771.6 549.7z"/>
<path class="y" d="M788.1 421.3L809.2 406.1L792.7 441.5L771.6 453.7z"/>
<path class="g" d="M788.1 158.2L809.2 100.9L792.7 105.8L771.6 163.0z"/>
<path class="r" d="M771.6 549.7L792.7 553.5L776.2 558.3L755.1 554.5z"/>
<path class="y" d="M771.6 453.7L792.7 441.5L776.2 470.4L755.1 480.4z"/>
<path class="g" d="M771.6 163.0L792.7 105.8L776.2 110.6L755.1 167.9z"/>
<path class="r" d="M755.1 554.5L776.2 558.3L759.7 563.2L738.6 559.4z"/>
<path class="y" d="M755.1 480.4L776.2 470.4L759.7 494.6L738.6 503.0z"/>
<path class="g" d="M755.1 167.9L776.2 110.6L759.7 115.5L738.6 172.8z"/>
<path class="r" d="M738.6 559.4L759.7 563.2L743.2 568.1L722.1 564.3z"/>
<path class="y" d="M738.6 503.0L759.7 494.6L743.2 515.4L722.1 522.5z"/>
<path class="g" d="M738.6 172.8L759.7 115.5L743.2 120.4L722.1 177.6z"/>
<path class="r" d="M722.1 564.3L743.2 568.1L726.7 572.9L705.7 569.1z"/>
<path class="y" d="M722.1 522.5L743.2 515.4L726.7 533.6L705.7 539.7z"/>
<path class="g" d="M722.1 177.6L743.2 120.4L726.7 125.2L705.7 182.5z"/>
<path class="r" d="M705.7 569.1L726.7 572.9L710.2 577.8L689.2 574.0z"/>
<path class="y" d="M705.7 539.7L726.7 533.6L710.2 549.8L689.2 555.1z"/>
<path class="g" d="M705.7 182.5L726.7 125.2L710.2 130.1L689.2 187.3z"/>
<path class="r" d="M689.2 574.0L710.2 577.8L693.8 582.6L672.7 578.9z"/>
<path class="y" d="M689.2 555.1L710.2 549.8L693.8 564.4L672.7 569.1z"/>
<path class="g" d="M689.2 187.3L710.2 130.1L693.8 134.9L672.7 192.2z"/>
<path class="r" d="M672.7 578.9L693.8 582.6L677.3 587.5L656.2 583.7z"/>
<path class="y" d="M672.7 569.1L693.8 564.4L677.3 577.8L656.2 581.8z"/>
<path class="g" d="M672.7 192.2L693.8 134.9L677.3 139.8L656.2 197.1z"/>
<path class="rs" d="M656.2 583.7L661.4 584.7L657.3 585.9L652.0 584.9z"/>
<path class="e" d="M656.2 583.7L661.4 584.7M652.0 584.9L656.2 583.7"/>
<path class="ys" d="M656.2 581.8L661.4 580.8L657.3 583.8L652.0 584.8z"/>
<path class="e" d="M656.2 581.8L661.4 580.8M652.0 584.8L656.2 581.8"/>
<path class="gs" d="M656.2 197.1L661.4 182.8L657.3 184.0L652.0 198.3z"/>
<path class="e" d="M656.2 197.1L661.4 182.8M652.0 198.3L656.2 197.1"/>
<path class="rs" d="M652.0 584.9L657.3 585.9L653.2 587.1L647.9 586.2z"/>
<path class="e" d="M647.9 586.2L652.0 584.9"/>
<path class="ys" d="M652.0 584.8L657.3 583.8L653.2 586.8L647.9 587.8z"/>
<path class="e" d="M647.9 587.8L652.0 584.8"/>
<path class="gs" d="M652.0 198.3L657.3 184.0L653.2 185.2L647.9 199.5z"/>
<path class="e" d="M647.9 199.5L652.0 198.3"/>
<path class="ys" d="M647.9 587.8L653.2 586.8L649.1 589.8L643.8 590.7z"/>
<path class="e" d="M643.8 590.7L647.9 587.8"/>
<path class="rs" d="M647.9 586.2L653.2 587.1L649.1 588.3L643.8 587.4z"/>
<path class="e" d="M643.8 587.4L647.9 586.2"/>
<path class="gs" d="M647.9 199.5L653.2 185.2L649.1 186.4L643.8 200.7z"/>
<path class="e" d="M643.8 200.7L647.9 199.5"/>
<path class="ys" d="M643.8 590.7L649.1 589.8L644.9 592.8L639.7 593.7z"/>
<path class="e" d="M644.9 592.8L639.7 593.7M639.7 593.7L643.8 590.7"/>
<path class="rs" d="M643.8 587.4L649.1 588.3L644.9 589.5L639.7 588.6z"/>
<path class="e" d="M644.9 589.5L639.7 588.6M639.7 588.6L643.8 587.4"/>
<path class="gs" d="M643.8 200.7L649.1 186.4L644.9 187.6L639.7 201.9z"/>
<path class="e" d="M644.9 187.6L639.7 201.9M639.7 201.9L643.8 200.7"/>
<path class="rs" d="M661.4 584.7L666.7 585.6L662.6 586.8L657.3 585.9z"/>
<path class="e" d="M661.4 584.7L666.7 585.6"/>
<path class="ys" d="M661.4 580.8L666.7 579.8L662.6 582.8L657.3 583.8z"/>
<path class="e" d="M661.4 580.8L666.7 579.8"/>
<path class="gs" d="M661.4 182.8L666.7 168.4L662.6 169.7L657.3 184.0z"/>
<path class="e" d="M661.4 182.8L666.7 168.4"/>
<path class="rs" d="M657.3 585.9L662.6 586.8L658.5 588.1L653.2 587.1z"/>
<path class="ys" d="M657.3 583.8L662.6 582.8L658.5 585.8L653.2 586.8z"/>
<path class="gs" d="M657.3 184.0L662.6 169.7L658.5 170.9L653.2 185.2z"/>
<path class="rs" d="M653.2 587.1L658.5 588.1L654.3 589.3L649.1 588.3z"/>
<path class="ys" d="M653.2 586.8L658.5 585.8L654.3 588.9L649.1 589.8z"/>
<path class="gs" d="M653.2 185.2L658.5 170.9L654.3 172.1L649.1 186.4z"/>
<path class="ys" d="M649.1 589.8L654.3 588.9L650.2 591.9L644.9 592.8z"/>
<path class="e" d="M650.2 591.9L644.9 592.8"/>
<path class="rs" d="M649.1 588.3L654.3 589.3L650.2 590.5L644.9 589.5z"/>
<path class="e" d="M650.2 590.5L644.9 589.5"/>
<path class="gs" d="M649.1 186.4L654.3 172.1L650.2 173.3L644.9 187.6z"/>
<path class="e" d="M650.2 173.3L644.9 187.6"/>
<path class="rs" d="M666.7 585.6L672.0 586.6L667.9 587.8L662.6 586.8z"/>
<path class="e" d="M666.7 585.6L672.0 586.6"/>
<path class="ys" d="M666.7 579.8L672.0 578.8L667.9 581.8L662.6 582.8z"/>
<path class="e" d="M666.7 579.8L672.0 578.8"/>
<path class="gs" d="M666.7 168.4L672.0 154.1L667.9 155.3L662.6 169.7z"/>
<path class="e" d="M666.7 168.4L672.0 154.1"/>
<path class="rs" d="M662.6 586.8L667.9 587.8L663.7 589.0L658.5 588.1z"/>
<path class="ys" d="M662.6 582.8L667.9 581.8L663.7 584.9L658.5 585.8z"/>
<path class="gs" d="M662.6 169.7L667.9 155.3L663.7 156.6L658.5 170.9z"/>
<path class="rs" d="M658.5 588.1L663.7 589.0L659.6 590.2L654.3 589.3z"/>
<path class="ys" d="M658.5 585.8L663.7 584.9L659.6 587.9L654.3 588.9z"/>
<path class="gs" d="M658.5 170.9L663.7 156.6L659.6 157.8L654.3 172.1z"/>
<path class="rs" d="M654.3 589.3L659.6 590.2L655.5 591.4L650.2 590.5z"/>
<path class="e" d="M655.5 591.4L650.2 590.5"/>
<path class="ys" d="M654.3 588.9L659.6 587.9L655.5 591.0L650.2 591.9z"/>
<path class="e" d="M655.5 591.0L650.2 591.9"/>
<path class="gs" d="M654.3 172.1L659.6 157.8L655.5 159.0L650.2 173.3z"/>
<path class="e" d="M655.5 159.0L650.2 173.3"/>
<path class="rs" d="M672.0 586.6L677.3 587.5L673.1 588.7L667.9 587.8z"/>
<path class="e" d="M672.0 586.6L677.3 587.5M677.3 587.5L673.1 588.7"/>
<path class="ys" d="M672.0 578.8L677.3 577.8L673.1 580.9L667.9 581.8z"/>
<path class="e" d="M672.0 578.8L677.3 577.8M677.3 577.8L673.1 580.9"/>
<path class="gs" d="M672.0 154.1L677.3 139.8L673.1 141.0L667.9 155.3z"/>
<path class="e" d="M672.0 154.1L677.3 139.8M677.3 139.8L673.1 141.0"/>
<path class="rs" d="M667.9 587.8L673.1 588.7L669.0 589.9L663.7 589.0z"/>
<path class="e" d="M673.1 588.7L669.0 589.9"/>
<path class="ys" d="M667.9 581.8L673.1 580.9L669.0 583.9L663.7 584.9z"/>
<path class="e" d="M673.1 580.9L669.0 583.9"/>
<path class="gs" d="M667.9 155.3L673.1 141.0L669.0 142.2L663.7 156.6z"/>
<path class="e" d="M673.1 141.0L669.0 142.2"/>
<path class="rs" d="M663.7 589.0L669.0 589.9L664.9 591.2L659.6 590.2z"/>
<path class="e" d="M669.0 589.9L664.9 591.2"/>
<path class="ys" d="M663.7 584.9L669.0 583.9L664.9 587.0L659.6 587.9z"/>
<path class="e" d="M669.0 583.9L664.9 587.0"/>
<path class="gs" d="M663.7 156.6L669.0 142.2L664.9 143.5L659.6 157.8z"/>
<path class="e" d="M669.0 142.2L664.9 143.5"/>
<path class="rs" d="M659.6 590.2L664.9 591.2L660.8 592.4L655.5 591.4z"/>
<path class="e" d="M664.9 591.2L660.8 592.4M660.8 592.4L655.5 591.4"/>
<path class="ys" d="M659.6 587.9L664.9 587.0L660.8 590.1L655.5 591.0z"/>
<path class="e" d="M664.9 587.0L660.8 590.1M660.8 590.1L655.5 591.0"/>
<path class="gs" d="M659.6 157.8L664.9 143.5L660.8 144.7L655.5 159.0z"/>
<path class="e" d="M664.9 143.5L660.8 144.7M660.8 144.7L655.5 159.0"/>
<path class="ys" d="M639.7 593.7L644.9 592.8L640.8 595.6L635.6 596.4z"/>
<path class="e" d="M639.7 593.7L644.9 592.8M635.6 596.4L639.7 593.7"/>
<path class="rs" d="M639.7 588.6L644.9 589.5L640.8 590.8L635.6 589.8z"/>
<path class="e" d="M639.7 588.6L644.9 589.5M635.6 589.8L639.7 588.6"/>
<path class="gs" d="M639.7 201.9L644.9 187.6L640.8 188.8L635.6 203.2z"/>
<path class="e" d="M639.7 201.9L644.9 187.6M635.6 203.2L639.7 201.9"/>
<path class="ys" d="M635.6 596.4L640.8 595.6L636.7 598.3L631.4 599.2z"/>
<path class="e" d="M631.4 599.2L635.6 596.4"/>
<path class="rs" d="M635.6 589.8L640.8 590.8L636.7 592.0L631.4 591.0z"/>
<path class="e" d="M631.4 591.0L635.6 589.8"/>
<path class="gs" d="M635.6 203.2L640.8 188.8L636.7 190.1L631.4 204.4z"/>
<path class="e" d="M631.4 204.4L635.6 203.2"/>
<path class="ys" d="M631.4 599.2L636.7 598.3L632.6 601.1L627.3 602.0z"/>
<path class="e" d="M627.3 602.0L631.4 599.2"/>
<path class="rs" d="M631.4 591.0L636.7 592.0L632.6 593.2L627.3 592.2z"/>
<path class="e" d="M627.3 592.2L631.4 591.0"/>
<path class="gs" d="M631.4 204.4L636.7 190.1L632.6 191.3L627.3 205.6z"/>
<path class="e" d="M627.3 205.6L631.4 204.4"/>
<path class="ys" d="M627.3 602.0L632.6 601.1L628.5 603.9L623.2 604.7z"/>
<path class="e" d="M628.5 603.9L623.2 604.7M623.2 604.7L627.3 602.0"/>
<path class="rs" d="M627.3 592.2L632.6 593.2L628.5 594.4L623.2 593.5z"/>
<path class="e" d="M628.5 594.4L623.2 593.5M623.2 593.5L627.3 592.2"/>
<path class="gs" d="M627.3 205.6L632.6 191.3L628.5 192.5L623.2 206.8z"/>
<path class="e" d="M628.5 192.5L623.2 206.8M623.2 206.8L627.3 205.6"/>
<path class="ys" d="M644.9 592.8L650.2 591.9L646.1 594.7L640.8 595.6z"/>
<path class="e" d="M644.9 592.8L650.2 591.9"/>
<path class="rs" d="M644.9 589.5L650.2 590.5L646.1 591.7L640.8 590.8z"/>
<path class="e" d="M644.9 589.5L650.2 590.5"/>
<path class="gs" d="M644.9 187.6L650.2 173.3L646.1 174.5L640.8 188.8z"/>
<path class="e" d="M644.9 187.6L650.2 173.3"/>
<path class="ys" d="M640.8 595.6L646.1 594.7L642.0 597.5L636.7 598.3z"/>
<path class="rs" d="M640.8 590.8L646.1 591.7L642.0 592.9L636.7 592.0z"/>
<path class="gs" d="M640.8 188.8L646.1 174.5L642.0 175.7L636.7 190.1z"/>
<path class="ys" d="M636.7 598.3L642.0 597.5L637.8 600.3L632.6 601.1z"/>
<path class="rs" d="M636.7 592.0L642.0 592.9L637.8 594.1L632.6 593.2z"/>
<path class="gs" d="M636.7 190.1L642.0 175.7L637.8 177.0L632.6 191.3z"/>
<path class="ys" d="M632.6 601.1L637.8 600.3L633.7 603.1L628.5 603.9z"/>
<path class="e" d="M633.7 603.1L628.5 603.9"/>
<path class="rs" d="M632.6 593.2L637.8 594.1L633.7 595.3L628.5 594.4z"/>
<path class="e" d="M633.7 595.3L628.5 594.4"/>
<path class="gs" d="M632.6 191.3L637.8 177.0L633.7 178.2L628.5 192.5z"/>
<path class="e" d="M633.7 178.2L628.5 192.5"/>
<path class="ys" d="M650.2 591.9L655.5 591.0L651.4 593.8L646.1 594.7z"/>
<path class="e" d="M650.2 591.9L655.5 591.0"/>
<path class="rs" d="M650.2 590.5L655.5 591.4L651.4 592.6L646.1 591.7z"/>
<path class="e" d="M650.2 590.5L655.5 591.4"/>
<path class="gs" d="M650.2 173.3L655.5 159.0L651.4 160.2L646.1 174.5z"/>
<path class="e" d="M650.2 173.3L655.5 159.0"/>
<path class="ys" d="M646.1 594.7L651.4 593.8L647.2 596.7L642.0 597.5z"/>
<path class="rs" d="M646.1 591.7L651.4 592.6L647.2 593.9L642.0 592.9z"/>
<path class="gs" d="M646.1 174.5L651.4 160.2L647.2 161.4L642.0 175.7z"/>
<path class="ys" d="M642.0 597.5L647.2 596.7L643.1 599.5L637.8 600.3z"/>
<path class="rs" d="M642.0 592.9L647.2 593.9L643.1 595.1L637.8 594.1z"/>
<path class="gs" d="M642.0 175.7L647.2 161.4L643.1 162.6L637.8 177.0z"/>
<path class="ys" d="M637.8 600.3L643.1 599.5L639.0 602.3L633.7 603.1z"/>
<path class="e" d="M639.0 602.3L633.7 603.1"/>
<path class="rs" d="M637.8 594.1L643.1 595.1L639.0 596.3L633.7 595.3z"/>
<path class="e" d="M639.0 596.3L633.7 595.3"/>
<path class="gs" d="M637.8 177.0L643.1 162.6L639.0 163.9L633.7 178.2z"/>
<path class="e" d="M639.0 163.9L633.7 178.2"/>
<path class="rs" d="M655.5 591.4L660.8 592.4L656.6 593.6L651.4 592.6z"/>
<path class="e" d="M655.5 591.4L660.8 592.4M660.8 592.4L656.6 593.6"/>
<path class="ys" d="M655.5 591.0L660.8 590.1L656.6 593.0L651.4 593.8z"/>
<path class="e" d="M655.5 591.0L660.8 590.1M660.8 590.1L656.6 593.0"/>
<path class="gs" d="M655.5 159.0L660.8 144.7L656.6 145.9L651.4 160.2z"/>
<path class="e" d="M655.5 159.0L660.8 144.7M660.8 144.7L656.6 145.9"/>
<path class="ys" d="M651.4 593.8L656.6 593.0L652.5 595.8L647.2 596.7z"/>
<path class="e" d="M656.6 593.0L652.5 595.8"/>
<path class="rs" d="M651.4 592.6L656.6 593.6L652.5 594.8L647.2 593.9z"/>
<path class="e" d="M656.6 593.6L652.5 594.8"/>
<path class="gs" d="M651.4 160.2L656.6 145.9L652.5 147.1L647.2 161.4z"/>
<path class="e" d="M656.6 145.9L652.5 147.1"/>
<path class="ys" d="M647.2 596.7L652.5 595.8L648.4 598.7L643.1 599.5z"/>
<path class="e" d="M652.5 595.8L648.4 598.7"/>
<path class="rs" d="M647.2 593.9L652.5 594.8L648.4 596.0L643.1 595.1z"/>
<path class="e" d="M652.5 594.8L648.4 596.0"/>
<path class="gs" d="M647.2 161.4L652.5 147.1L648.4 148.3L643.1 162.6z"/>
<path class="e" d="M652.5 147.1L648.4 148.3"/>
<path class="ys" d="M643.1 599.5L648.4 598.7L644.3 601.5L639.0 602.3z"/>
<path class="e" d="M648.4 598.7L644.3 601.5M644.3 601.5L639.0 602.3"/>
<path class="rs" d="M643.1 595.1L648.4 596.0L644.3 597.2L639.0 596.3z"/>
<path class="e" d="M648.4 596.0L644.3 597.2M644.3 597.2L639.0 596.3"/>
<path class="gs" d="M643.1 162.6L648.4 148.3L644.3 149.5L639.0 163.9z"/>
<path class="e" d="M648.4 148.3L644.3 149.5M644.3 149.5L639.0 163.9"/>
<path class="y" d="M623.2 604.7L644.3 601.5L627.8 612.3L606.7 615.1z"/>
<path class="r" d="M623.2 593.5L644.3 597.2L627.8 602.1L606.7 598.3z"/>
<path class="g" d="M623.2 206.8L644.3 149.5L627.8 154.4L606.7 211.7z"/>
<path class="y" d="M606.7 615.1L627.8 612.3L611.3 622.4L590.2 624.9z"/>
<path class="r" d="M606.7 598.3L627.8 602.1L611.3 607.0L590.2 603.2z"/>
<path class="g" d="M606.7 211.7L627.8 154.4L611.3 159.3L590.2 216.5z"/>
<path class="y" d="M590.2 624.9L611.3 622.4L594.8 632.0L573.7 634.2z"/>
<path class="r" d="M590.2 603.2L611.3 607.0L594.8 611.8L573.7 608.1z"/>
<path class="g" d="M590.2 216.5L611.3 159.3L594.8 164.1L573.7 221.4z"/>
<path class="y" d="M573.7 634.2L594.8 632.0L578.3 641.2L557.2 643.1z"/>
<path class="r" d="M573.7 608.1L594.8 611.8L578.3 616.7L557.2 612.9z"/>
<path class="g" d="M573.7 221.4L594.8 164.1L578.3 169.0L557.2 226.3z"/>
<path class="y" d="M557.2 643.1L578.3 641.2L561.8 650.0L540.7 651.7z"/>
<path class="r" d="M557.2 612.9L578.3 616.7L561.8 621.6L540.7 617.8z"/>
<path class="g" d="M557.2 226.3L578.3 169.0L561.8 173.9L540.7 231.1z"/>
<path class="y" d="M540.7 651.7L561.8 650.0L545.3 658.4L524.2 660.0z"/>
<path class="r" d="M540.7 617.8L561.8 621.6L545.3 626.4L524.2 622.6z"/>
<path class="g" d="M540.7 231.1L561.8 173.9L545.3 178.7L524.2 236.0z"/>
</g>
<g id="front"><path class="ax" d="M123.5 103.0L123.5 664.0"/><path class="ax" d="M545.3 178.7L545.3 739.7"/><path class="ax" d="M875.2 81.4L875.2 642.4"/><path class="ax" d="M123.5 103.0L545.3 178.7"/><path class="ax" d="M545.3 178.7L875.2 81.4"/><path class="ax" d="M123.5 664.0L545.3 739.7"/><path class="ax" d="M545.3 739.7L875.2 642.4"/>
<path class="ax" d="M123.5 550.7L108.7 548.1"/><path class="ax" d="M123.5 438.8L108.7 436.2"/><path class="ax" d="M123.5 326.9L108.7 324.2"/><path class="ax" d="M123.5 215.0L108.7 212.3"/><path class="ax" d="M123.5 103.0L108.7 100.4"/><path class="ax" d="M123.5 664.0L109.1 668.2"/><path class="ax" d="M207.9 679.1L193.5 683.4"/><path class="ax" d="M292.2 694.3L277.8 698.5"/><path class="ax" d="M376.6 709.4L362.2 713.7"/><path class="ax" d="M460.9 724.6L446.6 728.8"/><path class="ax" d="M545.3 739.7L560.1 742.3"/><path class="ax" d="M611.3 720.2L626.0 722.9"/><path class="ax" d="M677.3 700.8L692.0 703.4"/><path class="ax" d="M743.2 681.3L758.0 684.0"/><path class="ax" d="M809.2 661.9L824.0 664.5"/></g>
<g id="labels">
<text class="tk" text-anchor="end" x="96.0" y="557.7">100</text>
<text class="tk" text-anchor="end" x="96.0" y="445.8">150</text>
<text class="tk" text-anchor="end" x="96.0" y="333.9">200</text>
<text class="tk" text-anchor="end" x="96.0" y="222.0">250</text>
<text class="tk" text-anchor="end" x="96.0" y="110.0">300</text>
<text class="tk" text-anchor="middle" x="89.4" y="698.9">0</text>
<text class="tk" text-anchor="middle" x="162.4" y="715.8">0.2</text>
<text class="tk" text-anchor="middle" x="246.7" y="732.3">0.4</text>
<text class="tk" text-anchor="middle" x="332.0" y="748.2">0.6</text>
<text class="tk" text-anchor="middle" x="416.2" y="763.2">0.8</text>
<text class="tk" text-anchor="middle" x="578.0" y="773.5">1</text>
<text class="tk" text-anchor="middle" x="656.5" y="754.1">0.8</text>
<text class="tk" text-anchor="middle" x="722.2" y="735.1">0.6</text>
<text class="tk" text-anchor="middle" x="788.5" y="714.3">0.4</text>
<text class="tk" text-anchor="middle" x="854.0" y="695.6">0.2</text>
<text class="lb" text-anchor="middle" x="283.6" y="782">θ</text>
<text class="lb" text-anchor="middle" x="757.8" y="770.9">μ</text>
<text class="lb" text-anchor="middle" transform="translate(30.3,384) rotate(-90)">Q</text>
<text class="lb" x="448.5" y="102.2">TdMs</text>
<text class="lb" x="148" y="443.5">TdMd</text>
<text class="lb" x="915.7" y="336.4">TfMs</text>
<path class="ar" d="M497.0 103.4L531.0 151.5"/><path class="ah" d="M545.3 178.2L521.6 159.5L534.5 160.8L539.0 149.0z"/>
<path class="ar" d="M160.9 466.8L191.0 513.5"/><path class="ah" d="M209.8 541.6L184.8 523.2L198.8 522.6L202.8 511.7z"/>
<path class="ar" d="M905.7 333.8L850.0 350.6"/><path class="ah" d="M832.5 355.8L856.8 338.2L851.9 350.8L862.8 358.2z"/>
</g>
</svg>
</body></html>
